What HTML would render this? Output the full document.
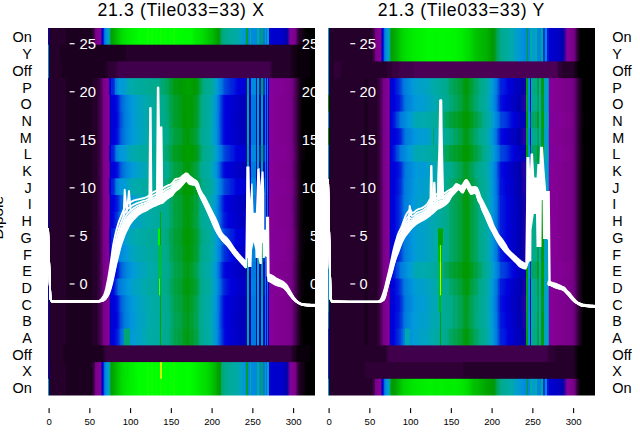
<!DOCTYPE html>
<html><head><meta charset="utf-8"><title>Dipole spectra</title>
<style>html,body{margin:0;padding:0;background:#fff;}body{width:640px;height:440px;overflow:hidden;font-family:"Liberation Sans",sans-serif;}svg{display:block;}</style></head>
<body>
<svg width="640" height="440" viewBox="0 0 640 440">
<defs>
<clipPath id="cp0"><rect x="48" y="28" width="267" height="367.5"/></clipPath>
<clipPath id="cp1"><rect x="328" y="28" width="267" height="367.5"/></clipPath>
<linearGradient id="g0_0" gradientUnits="userSpaceOnUse" x1="48" x2="315" y1="0" y2="0"><stop offset="0.0000" stop-color="#0000d1"/><stop offset="0.0019" stop-color="#0000d1"/><stop offset="0.0037" stop-color="#25002b"/><stop offset="0.0674" stop-color="#25002b"/><stop offset="0.0693" stop-color="#1c0020"/><stop offset="0.1648" stop-color="#1c0020"/><stop offset="0.1742" stop-color="#4b0055"/><stop offset="0.1760" stop-color="#670075"/><stop offset="0.1779" stop-color="#770088"/><stop offset="0.1948" stop-color="#870098"/><stop offset="0.1985" stop-color="#83009a"/><stop offset="0.2004" stop-color="#3800a3"/><stop offset="0.2022" stop-color="#0000b1"/><stop offset="0.2060" stop-color="#0000dd"/><stop offset="0.2097" stop-color="#0041dd"/><stop offset="0.2116" stop-color="#0070dd"/><stop offset="0.2135" stop-color="#0085dd"/><stop offset="0.2228" stop-color="#009adb"/><stop offset="0.2266" stop-color="#009fcb"/><stop offset="0.2285" stop-color="#00a8af"/><stop offset="0.2322" stop-color="#00aa8d"/><stop offset="0.2341" stop-color="#00a248"/><stop offset="0.2360" stop-color="#009b13"/><stop offset="0.2378" stop-color="#009f00"/><stop offset="0.2622" stop-color="#00c400"/><stop offset="0.2753" stop-color="#00da00"/><stop offset="0.2921" stop-color="#00e700"/><stop offset="0.3184" stop-color="#00f200"/><stop offset="0.3427" stop-color="#00ff00"/><stop offset="0.3521" stop-color="#00fc00"/><stop offset="0.3689" stop-color="#00ff00"/><stop offset="0.3708" stop-color="#0fff00"/><stop offset="0.3764" stop-color="#0fff00"/><stop offset="0.3783" stop-color="#00ff00"/><stop offset="0.3839" stop-color="#00ff00"/><stop offset="0.3858" stop-color="#0fff00"/><stop offset="0.3914" stop-color="#0fff00"/><stop offset="0.3933" stop-color="#00ff00"/><stop offset="0.4045" stop-color="#00ff00"/><stop offset="0.4064" stop-color="#0fff00"/><stop offset="0.4082" stop-color="#00ff00"/><stop offset="0.4176" stop-color="#00ff00"/><stop offset="0.4195" stop-color="#0fff00"/><stop offset="0.4213" stop-color="#0fff00"/><stop offset="0.4232" stop-color="#1dff00"/><stop offset="0.4251" stop-color="#0fff00"/><stop offset="0.4270" stop-color="#0fff00"/><stop offset="0.4288" stop-color="#00ff00"/><stop offset="0.4363" stop-color="#00ff00"/><stop offset="0.4382" stop-color="#0fff00"/><stop offset="0.4401" stop-color="#0fff00"/><stop offset="0.4419" stop-color="#00ff00"/><stop offset="0.4551" stop-color="#00ff00"/><stop offset="0.4569" stop-color="#0fff00"/><stop offset="0.4588" stop-color="#0fff00"/><stop offset="0.4607" stop-color="#00ff00"/><stop offset="0.4682" stop-color="#00ff00"/><stop offset="0.4700" stop-color="#0fff00"/><stop offset="0.4757" stop-color="#0fff00"/><stop offset="0.4775" stop-color="#00ff00"/><stop offset="0.5037" stop-color="#00fc00"/><stop offset="0.5375" stop-color="#00fa00"/><stop offset="0.5524" stop-color="#00ea00"/><stop offset="0.5637" stop-color="#00e700"/><stop offset="0.5805" stop-color="#00dc00"/><stop offset="0.6030" stop-color="#00c400"/><stop offset="0.6142" stop-color="#00bc00"/><stop offset="0.6404" stop-color="#009a00"/><stop offset="0.6461" stop-color="#00a13d"/><stop offset="0.6479" stop-color="#00a55d"/><stop offset="0.6536" stop-color="#00a97d"/><stop offset="0.6573" stop-color="#00a97d"/><stop offset="0.6592" stop-color="#00aa88"/><stop offset="0.6891" stop-color="#00aa9d"/><stop offset="0.7116" stop-color="#00aaa8"/><stop offset="0.7360" stop-color="#0098dd"/><stop offset="0.7416" stop-color="#008ddd"/><stop offset="0.7434" stop-color="#009e28"/><stop offset="0.7491" stop-color="#009e28"/><stop offset="0.7509" stop-color="#008add"/><stop offset="0.7547" stop-color="#008add"/><stop offset="0.7566" stop-color="#00a7b3"/><stop offset="0.7603" stop-color="#00a7b3"/><stop offset="0.7622" stop-color="#008add"/><stop offset="0.7828" stop-color="#0088dd"/><stop offset="0.7846" stop-color="#00aa9d"/><stop offset="0.7884" stop-color="#00aa9d"/><stop offset="0.7903" stop-color="#0088dd"/><stop offset="0.7978" stop-color="#0088dd"/><stop offset="0.7996" stop-color="#00a353"/><stop offset="0.8015" stop-color="#00a353"/><stop offset="0.8034" stop-color="#00a55d"/><stop offset="0.8052" stop-color="#00a55d"/><stop offset="0.8071" stop-color="#0078dd"/><stop offset="0.8127" stop-color="#0078dd"/><stop offset="0.8146" stop-color="#0095dd"/><stop offset="0.8165" stop-color="#0078dd"/><stop offset="0.8202" stop-color="#0078dd"/><stop offset="0.8221" stop-color="#00a0c7"/><stop offset="0.8258" stop-color="#009fcb"/><stop offset="0.8277" stop-color="#0000d1"/><stop offset="0.8783" stop-color="#0000c9"/><stop offset="0.8951" stop-color="#0300aa"/><stop offset="0.8970" stop-color="#0d00a8"/><stop offset="0.9007" stop-color="#3800a3"/><stop offset="0.9026" stop-color="#58009f"/><stop offset="0.9045" stop-color="#6d009c"/><stop offset="0.9101" stop-color="#870098"/><stop offset="0.9270" stop-color="#770088"/><stop offset="0.9307" stop-color="#5d006b"/><stop offset="0.9326" stop-color="#540060"/><stop offset="0.9345" stop-color="#41004b"/><stop offset="0.9401" stop-color="#25002b"/><stop offset="0.9438" stop-color="#25002b"/><stop offset="0.9457" stop-color="#1c0020"/><stop offset="0.9494" stop-color="#1c0020"/><stop offset="0.9513" stop-color="#130015"/><stop offset="0.9569" stop-color="#130015"/><stop offset="0.9588" stop-color="#09000b"/><stop offset="0.9663" stop-color="#09000b"/><stop offset="0.9682" stop-color="#000000"/><stop offset="1.0000" stop-color="#000000"/></linearGradient>
<linearGradient id="g0_1" gradientUnits="userSpaceOnUse" x1="48" x2="315" y1="0" y2="0"><stop offset="0.0000" stop-color="#0085dd"/><stop offset="0.0019" stop-color="#0085dd"/><stop offset="0.0037" stop-color="#25002b"/><stop offset="0.0431" stop-color="#25002b"/><stop offset="0.0449" stop-color="#1c0020"/><stop offset="0.2903" stop-color="#1c0020"/><stop offset="0.2921" stop-color="#25002b"/><stop offset="0.9064" stop-color="#25002b"/><stop offset="0.9082" stop-color="#1c0020"/><stop offset="0.9176" stop-color="#1c0020"/><stop offset="0.9195" stop-color="#130015"/><stop offset="0.9307" stop-color="#130015"/><stop offset="0.9326" stop-color="#09000b"/><stop offset="0.9794" stop-color="#09000b"/><stop offset="0.9813" stop-color="#000000"/><stop offset="1.0000" stop-color="#000000"/></linearGradient>
<linearGradient id="g0_2" gradientUnits="userSpaceOnUse" x1="48" x2="315" y1="0" y2="0"><stop offset="0.0000" stop-color="#0085dd"/><stop offset="0.0019" stop-color="#0085dd"/><stop offset="0.0037" stop-color="#25002b"/><stop offset="0.0468" stop-color="#25002b"/><stop offset="0.0487" stop-color="#1c0020"/><stop offset="0.2172" stop-color="#1c0020"/><stop offset="0.2191" stop-color="#25002b"/><stop offset="0.2228" stop-color="#25002b"/><stop offset="0.2247" stop-color="#2f0035"/><stop offset="0.2547" stop-color="#2f0035"/><stop offset="0.2566" stop-color="#380040"/><stop offset="0.2603" stop-color="#380040"/><stop offset="0.2622" stop-color="#41004b"/><stop offset="0.8315" stop-color="#41004b"/><stop offset="0.8352" stop-color="#2f0035"/><stop offset="0.8371" stop-color="#2f0035"/><stop offset="0.8390" stop-color="#25002b"/><stop offset="0.9064" stop-color="#25002b"/><stop offset="0.9082" stop-color="#1c0020"/><stop offset="0.9176" stop-color="#1c0020"/><stop offset="0.9195" stop-color="#130015"/><stop offset="0.9307" stop-color="#130015"/><stop offset="0.9326" stop-color="#09000b"/><stop offset="0.9794" stop-color="#09000b"/><stop offset="0.9813" stop-color="#000000"/><stop offset="1.0000" stop-color="#000000"/></linearGradient>
<linearGradient id="g0_3" gradientUnits="userSpaceOnUse" x1="48" x2="315" y1="0" y2="0"><stop offset="0.0000" stop-color="#0000bd"/><stop offset="0.0019" stop-color="#0000bd"/><stop offset="0.0037" stop-color="#25002b"/><stop offset="0.0674" stop-color="#25002b"/><stop offset="0.0693" stop-color="#1c0020"/><stop offset="0.1629" stop-color="#1c0020"/><stop offset="0.1648" stop-color="#25002b"/><stop offset="0.1816" stop-color="#25002b"/><stop offset="0.1835" stop-color="#2f0035"/><stop offset="0.1854" stop-color="#2f0035"/><stop offset="0.1873" stop-color="#380040"/><stop offset="0.1929" stop-color="#380040"/><stop offset="0.1966" stop-color="#4b0055"/><stop offset="0.1985" stop-color="#4b0055"/><stop offset="0.2079" stop-color="#770088"/><stop offset="0.2247" stop-color="#870098"/><stop offset="0.2285" stop-color="#63009e"/><stop offset="0.2322" stop-color="#0000b1"/><stop offset="0.2341" stop-color="#0000d1"/><stop offset="0.2360" stop-color="#0000dd"/><stop offset="0.2378" stop-color="#0025dd"/><stop offset="0.2453" stop-color="#0025dd"/><stop offset="0.2491" stop-color="#0041dd"/><stop offset="0.2528" stop-color="#0078dd"/><stop offset="0.2659" stop-color="#0098dd"/><stop offset="0.2772" stop-color="#009bd7"/><stop offset="0.2846" stop-color="#009bd7"/><stop offset="0.2940" stop-color="#00a2c3"/><stop offset="0.3071" stop-color="#00aaab"/><stop offset="0.3446" stop-color="#00aa9d"/><stop offset="0.3933" stop-color="#00aa90"/><stop offset="0.4157" stop-color="#00aa8b"/><stop offset="0.4195" stop-color="#00aa88"/><stop offset="0.4232" stop-color="#00a773"/><stop offset="0.4345" stop-color="#00a773"/><stop offset="0.4382" stop-color="#00a55d"/><stop offset="0.4476" stop-color="#00a55d"/><stop offset="0.4494" stop-color="#00a353"/><stop offset="0.4513" stop-color="#00a353"/><stop offset="0.4569" stop-color="#009f33"/><stop offset="0.4644" stop-color="#009f33"/><stop offset="0.4663" stop-color="#009e28"/><stop offset="0.4682" stop-color="#009e28"/><stop offset="0.4738" stop-color="#009a08"/><stop offset="0.4757" stop-color="#009a08"/><stop offset="0.4775" stop-color="#009b13"/><stop offset="0.4850" stop-color="#009b13"/><stop offset="0.4869" stop-color="#009a08"/><stop offset="0.4925" stop-color="#009a00"/><stop offset="0.4963" stop-color="#009a08"/><stop offset="0.5000" stop-color="#009a08"/><stop offset="0.5037" stop-color="#009c00"/><stop offset="0.5281" stop-color="#00a200"/><stop offset="0.5468" stop-color="#009a00"/><stop offset="0.5506" stop-color="#009a08"/><stop offset="0.5581" stop-color="#009a00"/><stop offset="0.5655" stop-color="#009e28"/><stop offset="0.5674" stop-color="#00a13d"/><stop offset="0.5693" stop-color="#00a13d"/><stop offset="0.5749" stop-color="#00a55d"/><stop offset="0.5768" stop-color="#00a55d"/><stop offset="0.5787" stop-color="#00a773"/><stop offset="0.5805" stop-color="#00a97d"/><stop offset="0.5824" stop-color="#00a97d"/><stop offset="0.5843" stop-color="#00aa88"/><stop offset="0.6105" stop-color="#00aa95"/><stop offset="0.6273" stop-color="#00a3bf"/><stop offset="0.6330" stop-color="#009adb"/><stop offset="0.6536" stop-color="#0070dd"/><stop offset="0.6610" stop-color="#004bdd"/><stop offset="0.6685" stop-color="#0041dd"/><stop offset="0.6760" stop-color="#0038dd"/><stop offset="0.6798" stop-color="#002fdd"/><stop offset="0.6873" stop-color="#0025dd"/><stop offset="0.6910" stop-color="#0025dd"/><stop offset="0.6948" stop-color="#001cdd"/><stop offset="0.7022" stop-color="#0013dd"/><stop offset="0.7060" stop-color="#0009dd"/><stop offset="0.7135" stop-color="#0000dd"/><stop offset="0.7434" stop-color="#0000d5"/><stop offset="0.7453" stop-color="#00a668"/><stop offset="0.7509" stop-color="#00a668"/><stop offset="0.7528" stop-color="#0000d1"/><stop offset="0.7584" stop-color="#0000d1"/><stop offset="0.7603" stop-color="#008add"/><stop offset="0.7772" stop-color="#008add"/><stop offset="0.7790" stop-color="#0013dd"/><stop offset="0.7828" stop-color="#0009dd"/><stop offset="0.7846" stop-color="#00aa8b"/><stop offset="0.7884" stop-color="#00aa8b"/><stop offset="0.7903" stop-color="#0025dd"/><stop offset="0.7940" stop-color="#0025dd"/><stop offset="0.7959" stop-color="#001cdd"/><stop offset="0.7978" stop-color="#00a248"/><stop offset="0.8052" stop-color="#00a248"/><stop offset="0.8071" stop-color="#0038dd"/><stop offset="0.8109" stop-color="#002fdd"/><stop offset="0.8127" stop-color="#0085dd"/><stop offset="0.8146" stop-color="#0085dd"/><stop offset="0.8165" stop-color="#0000d5"/><stop offset="0.8184" stop-color="#0000d1"/><stop offset="0.8202" stop-color="#0085dd"/><stop offset="0.8221" stop-color="#0085dd"/><stop offset="0.8240" stop-color="#0000c9"/><stop offset="0.8258" stop-color="#0000c9"/><stop offset="0.8277" stop-color="#83009a"/><stop offset="0.8801" stop-color="#830094"/><stop offset="0.9139" stop-color="#770088"/><stop offset="0.9195" stop-color="#670075"/><stop offset="0.9213" stop-color="#5d006b"/><stop offset="0.9232" stop-color="#5d006b"/><stop offset="0.9270" stop-color="#4b0055"/><stop offset="0.9288" stop-color="#4b0055"/><stop offset="0.9326" stop-color="#380040"/><stop offset="0.9345" stop-color="#380040"/><stop offset="0.9382" stop-color="#25002b"/><stop offset="0.9401" stop-color="#25002b"/><stop offset="0.9419" stop-color="#1c0020"/><stop offset="0.9438" stop-color="#1c0020"/><stop offset="0.9457" stop-color="#130015"/><stop offset="0.9476" stop-color="#130015"/><stop offset="0.9494" stop-color="#09000b"/><stop offset="0.9625" stop-color="#09000b"/><stop offset="0.9644" stop-color="#000000"/><stop offset="1.0000" stop-color="#000000"/></linearGradient>
<linearGradient id="g0_4" gradientUnits="userSpaceOnUse" x1="48" x2="315" y1="0" y2="0"><stop offset="0.0000" stop-color="#0000bd"/><stop offset="0.0019" stop-color="#0000bd"/><stop offset="0.0037" stop-color="#25002b"/><stop offset="0.0674" stop-color="#25002b"/><stop offset="0.0693" stop-color="#1c0020"/><stop offset="0.1629" stop-color="#1c0020"/><stop offset="0.1648" stop-color="#25002b"/><stop offset="0.1816" stop-color="#25002b"/><stop offset="0.1835" stop-color="#2f0035"/><stop offset="0.1854" stop-color="#2f0035"/><stop offset="0.1873" stop-color="#380040"/><stop offset="0.1929" stop-color="#380040"/><stop offset="0.1966" stop-color="#4b0055"/><stop offset="0.1985" stop-color="#4b0055"/><stop offset="0.2079" stop-color="#770088"/><stop offset="0.2285" stop-color="#870098"/><stop offset="0.2303" stop-color="#58009f"/><stop offset="0.2322" stop-color="#1800a7"/><stop offset="0.2341" stop-color="#0000bd"/><stop offset="0.2378" stop-color="#0000d9"/><stop offset="0.2491" stop-color="#0000dd"/><stop offset="0.2528" stop-color="#0009dd"/><stop offset="0.2566" stop-color="#0009dd"/><stop offset="0.2640" stop-color="#0025dd"/><stop offset="0.2678" stop-color="#0041dd"/><stop offset="0.2734" stop-color="#005ddd"/><stop offset="0.2809" stop-color="#0070dd"/><stop offset="0.2940" stop-color="#0085dd"/><stop offset="0.3165" stop-color="#009adb"/><stop offset="0.3258" stop-color="#009ecf"/><stop offset="0.3446" stop-color="#00a3bf"/><stop offset="0.3539" stop-color="#00a6b7"/><stop offset="0.3783" stop-color="#00aaa5"/><stop offset="0.4195" stop-color="#00aa90"/><stop offset="0.4363" stop-color="#00aa88"/><stop offset="0.4382" stop-color="#00a97d"/><stop offset="0.4476" stop-color="#00a97d"/><stop offset="0.4551" stop-color="#00a353"/><stop offset="0.4569" stop-color="#00a353"/><stop offset="0.4588" stop-color="#00a248"/><stop offset="0.4663" stop-color="#00a248"/><stop offset="0.4719" stop-color="#009e28"/><stop offset="0.4850" stop-color="#009e28"/><stop offset="0.4869" stop-color="#009d1d"/><stop offset="0.4888" stop-color="#009d1d"/><stop offset="0.4906" stop-color="#009b13"/><stop offset="0.4925" stop-color="#009b13"/><stop offset="0.4944" stop-color="#009d1d"/><stop offset="0.5000" stop-color="#009d1d"/><stop offset="0.5056" stop-color="#009a00"/><stop offset="0.5281" stop-color="#009c00"/><stop offset="0.5318" stop-color="#009a00"/><stop offset="0.5356" stop-color="#009a08"/><stop offset="0.5431" stop-color="#009a08"/><stop offset="0.5468" stop-color="#009d1d"/><stop offset="0.5487" stop-color="#009d1d"/><stop offset="0.5506" stop-color="#009e28"/><stop offset="0.5524" stop-color="#009d1d"/><stop offset="0.5581" stop-color="#009d1d"/><stop offset="0.5637" stop-color="#00a13d"/><stop offset="0.5655" stop-color="#00a353"/><stop offset="0.5749" stop-color="#00aa88"/><stop offset="0.5880" stop-color="#00aa95"/><stop offset="0.6049" stop-color="#00aaa3"/><stop offset="0.6124" stop-color="#00a8af"/><stop offset="0.6217" stop-color="#009fcb"/><stop offset="0.6292" stop-color="#0095dd"/><stop offset="0.6404" stop-color="#0070dd"/><stop offset="0.6442" stop-color="#005ddd"/><stop offset="0.6479" stop-color="#0041dd"/><stop offset="0.6592" stop-color="#0009dd"/><stop offset="0.6629" stop-color="#0009dd"/><stop offset="0.6667" stop-color="#0000dd"/><stop offset="0.7266" stop-color="#0000bd"/><stop offset="0.7434" stop-color="#0000b9"/><stop offset="0.7453" stop-color="#00aa93"/><stop offset="0.7509" stop-color="#00aa93"/><stop offset="0.7528" stop-color="#0000b9"/><stop offset="0.7584" stop-color="#0000b9"/><stop offset="0.7603" stop-color="#007add"/><stop offset="0.7772" stop-color="#007add"/><stop offset="0.7790" stop-color="#0000cd"/><stop offset="0.7828" stop-color="#0000cd"/><stop offset="0.7846" stop-color="#00aa9b"/><stop offset="0.7884" stop-color="#00aa9b"/><stop offset="0.7903" stop-color="#0000d5"/><stop offset="0.7959" stop-color="#0000d5"/><stop offset="0.7978" stop-color="#00a97d"/><stop offset="0.8052" stop-color="#00a97d"/><stop offset="0.8071" stop-color="#0000dd"/><stop offset="0.8109" stop-color="#0000dd"/><stop offset="0.8127" stop-color="#0078dd"/><stop offset="0.8146" stop-color="#0078dd"/><stop offset="0.8165" stop-color="#0000bd"/><stop offset="0.8184" stop-color="#0000bd"/><stop offset="0.8202" stop-color="#0078dd"/><stop offset="0.8221" stop-color="#0078dd"/><stop offset="0.8240" stop-color="#0000b5"/><stop offset="0.8258" stop-color="#0000b5"/><stop offset="0.8277" stop-color="#870098"/><stop offset="0.9101" stop-color="#79008a"/><stop offset="0.9157" stop-color="#700080"/><stop offset="0.9195" stop-color="#5d006b"/><stop offset="0.9213" stop-color="#5d006b"/><stop offset="0.9251" stop-color="#4b0055"/><stop offset="0.9270" stop-color="#4b0055"/><stop offset="0.9288" stop-color="#41004b"/><stop offset="0.9307" stop-color="#41004b"/><stop offset="0.9345" stop-color="#2f0035"/><stop offset="0.9363" stop-color="#2f0035"/><stop offset="0.9401" stop-color="#1c0020"/><stop offset="0.9419" stop-color="#1c0020"/><stop offset="0.9438" stop-color="#130015"/><stop offset="0.9457" stop-color="#130015"/><stop offset="0.9476" stop-color="#09000b"/><stop offset="0.9513" stop-color="#09000b"/><stop offset="0.9532" stop-color="#000000"/><stop offset="1.0000" stop-color="#000000"/></linearGradient>
<linearGradient id="g0_5" gradientUnits="userSpaceOnUse" x1="48" x2="315" y1="0" y2="0"><stop offset="0.0000" stop-color="#0000bd"/><stop offset="0.0019" stop-color="#0000bd"/><stop offset="0.0037" stop-color="#25002b"/><stop offset="0.0674" stop-color="#25002b"/><stop offset="0.0693" stop-color="#1c0020"/><stop offset="0.1629" stop-color="#1c0020"/><stop offset="0.1648" stop-color="#25002b"/><stop offset="0.1816" stop-color="#25002b"/><stop offset="0.1835" stop-color="#2f0035"/><stop offset="0.1854" stop-color="#2f0035"/><stop offset="0.1873" stop-color="#380040"/><stop offset="0.1929" stop-color="#380040"/><stop offset="0.1966" stop-color="#4b0055"/><stop offset="0.1985" stop-color="#4b0055"/><stop offset="0.2079" stop-color="#770088"/><stop offset="0.2285" stop-color="#870098"/><stop offset="0.2303" stop-color="#58009f"/><stop offset="0.2322" stop-color="#1800a7"/><stop offset="0.2341" stop-color="#0000bd"/><stop offset="0.2378" stop-color="#0000d5"/><stop offset="0.2547" stop-color="#0000dd"/><stop offset="0.2584" stop-color="#0009dd"/><stop offset="0.2622" stop-color="#0013dd"/><stop offset="0.2697" stop-color="#0041dd"/><stop offset="0.2734" stop-color="#0054dd"/><stop offset="0.2809" stop-color="#0067dd"/><stop offset="0.2865" stop-color="#007add"/><stop offset="0.3127" stop-color="#0095dd"/><stop offset="0.3221" stop-color="#009cd3"/><stop offset="0.3352" stop-color="#00a0c7"/><stop offset="0.3502" stop-color="#00a3bf"/><stop offset="0.3614" stop-color="#00a7b3"/><stop offset="0.3914" stop-color="#00aa9d"/><stop offset="0.4026" stop-color="#00aa9b"/><stop offset="0.4307" stop-color="#00aa8d"/><stop offset="0.4382" stop-color="#00aa88"/><stop offset="0.4401" stop-color="#00a97d"/><stop offset="0.4476" stop-color="#00a97d"/><stop offset="0.4494" stop-color="#00a773"/><stop offset="0.4513" stop-color="#00a773"/><stop offset="0.4569" stop-color="#00a353"/><stop offset="0.4588" stop-color="#00a353"/><stop offset="0.4607" stop-color="#00a248"/><stop offset="0.4663" stop-color="#00a248"/><stop offset="0.4719" stop-color="#009e28"/><stop offset="0.4850" stop-color="#009e28"/><stop offset="0.4869" stop-color="#009d1d"/><stop offset="0.5000" stop-color="#009d1d"/><stop offset="0.5056" stop-color="#009a00"/><stop offset="0.5281" stop-color="#009c00"/><stop offset="0.5375" stop-color="#009a08"/><stop offset="0.5431" stop-color="#009a08"/><stop offset="0.5468" stop-color="#009d1d"/><stop offset="0.5487" stop-color="#009d1d"/><stop offset="0.5506" stop-color="#009e28"/><stop offset="0.5524" stop-color="#009e28"/><stop offset="0.5543" stop-color="#009d1d"/><stop offset="0.5581" stop-color="#009d1d"/><stop offset="0.5618" stop-color="#009f33"/><stop offset="0.5637" stop-color="#00a248"/><stop offset="0.5749" stop-color="#00aa88"/><stop offset="0.6067" stop-color="#00aaa5"/><stop offset="0.6124" stop-color="#00a8af"/><stop offset="0.6199" stop-color="#009fcb"/><stop offset="0.6292" stop-color="#0092dd"/><stop offset="0.6386" stop-color="#0078dd"/><stop offset="0.6423" stop-color="#005ddd"/><stop offset="0.6592" stop-color="#0009dd"/><stop offset="0.6667" stop-color="#0000dd"/><stop offset="0.7210" stop-color="#0000bd"/><stop offset="0.7434" stop-color="#0000b9"/><stop offset="0.7453" stop-color="#00aa93"/><stop offset="0.7509" stop-color="#00aa93"/><stop offset="0.7528" stop-color="#0000b9"/><stop offset="0.7584" stop-color="#0000b9"/><stop offset="0.7603" stop-color="#007add"/><stop offset="0.7772" stop-color="#0078dd"/><stop offset="0.7790" stop-color="#0000c9"/><stop offset="0.7828" stop-color="#0000c9"/><stop offset="0.7846" stop-color="#00aa9b"/><stop offset="0.7884" stop-color="#00aa9b"/><stop offset="0.7903" stop-color="#0000d5"/><stop offset="0.7959" stop-color="#0000d5"/><stop offset="0.7978" stop-color="#00aa88"/><stop offset="0.8052" stop-color="#00aa88"/><stop offset="0.8071" stop-color="#0000dd"/><stop offset="0.8109" stop-color="#0000dd"/><stop offset="0.8127" stop-color="#0078dd"/><stop offset="0.8146" stop-color="#0078dd"/><stop offset="0.8165" stop-color="#0000bd"/><stop offset="0.8184" stop-color="#0000bd"/><stop offset="0.8202" stop-color="#0078dd"/><stop offset="0.8221" stop-color="#0078dd"/><stop offset="0.8240" stop-color="#0000b1"/><stop offset="0.8258" stop-color="#0000b1"/><stop offset="0.8277" stop-color="#870098"/><stop offset="0.9101" stop-color="#79008a"/><stop offset="0.9157" stop-color="#700080"/><stop offset="0.9195" stop-color="#5d006b"/><stop offset="0.9213" stop-color="#5d006b"/><stop offset="0.9251" stop-color="#4b0055"/><stop offset="0.9270" stop-color="#4b0055"/><stop offset="0.9288" stop-color="#41004b"/><stop offset="0.9307" stop-color="#41004b"/><stop offset="0.9345" stop-color="#2f0035"/><stop offset="0.9363" stop-color="#2f0035"/><stop offset="0.9401" stop-color="#1c0020"/><stop offset="0.9419" stop-color="#1c0020"/><stop offset="0.9438" stop-color="#130015"/><stop offset="0.9457" stop-color="#130015"/><stop offset="0.9476" stop-color="#09000b"/><stop offset="0.9513" stop-color="#09000b"/><stop offset="0.9532" stop-color="#000000"/><stop offset="1.0000" stop-color="#000000"/></linearGradient>
<linearGradient id="g0_6" gradientUnits="userSpaceOnUse" x1="48" x2="315" y1="0" y2="0"><stop offset="0.0000" stop-color="#0000bd"/><stop offset="0.0019" stop-color="#0000bd"/><stop offset="0.0037" stop-color="#25002b"/><stop offset="0.0674" stop-color="#25002b"/><stop offset="0.0693" stop-color="#1c0020"/><stop offset="0.1629" stop-color="#1c0020"/><stop offset="0.1648" stop-color="#25002b"/><stop offset="0.1816" stop-color="#25002b"/><stop offset="0.1835" stop-color="#2f0035"/><stop offset="0.1854" stop-color="#2f0035"/><stop offset="0.1873" stop-color="#380040"/><stop offset="0.1929" stop-color="#380040"/><stop offset="0.1966" stop-color="#4b0055"/><stop offset="0.1985" stop-color="#4b0055"/><stop offset="0.2079" stop-color="#770088"/><stop offset="0.2285" stop-color="#870098"/><stop offset="0.2303" stop-color="#58009f"/><stop offset="0.2322" stop-color="#1800a7"/><stop offset="0.2341" stop-color="#0000bd"/><stop offset="0.2378" stop-color="#0000d9"/><stop offset="0.2491" stop-color="#0000dd"/><stop offset="0.2528" stop-color="#0009dd"/><stop offset="0.2566" stop-color="#0009dd"/><stop offset="0.2640" stop-color="#0025dd"/><stop offset="0.2678" stop-color="#0041dd"/><stop offset="0.2734" stop-color="#005ddd"/><stop offset="0.2809" stop-color="#0070dd"/><stop offset="0.2940" stop-color="#0085dd"/><stop offset="0.3165" stop-color="#009adb"/><stop offset="0.3277" stop-color="#009ecf"/><stop offset="0.3427" stop-color="#00a2c3"/><stop offset="0.3539" stop-color="#00a4bb"/><stop offset="0.3708" stop-color="#00aaab"/><stop offset="0.4195" stop-color="#00aa95"/><stop offset="0.4494" stop-color="#00aa88"/><stop offset="0.4532" stop-color="#00a773"/><stop offset="0.4551" stop-color="#00a773"/><stop offset="0.4588" stop-color="#00a55d"/><stop offset="0.4663" stop-color="#00a55d"/><stop offset="0.4719" stop-color="#00a13d"/><stop offset="0.4850" stop-color="#00a13d"/><stop offset="0.4869" stop-color="#009f33"/><stop offset="0.4888" stop-color="#009f33"/><stop offset="0.4906" stop-color="#009e28"/><stop offset="0.4925" stop-color="#009f33"/><stop offset="0.5000" stop-color="#009f33"/><stop offset="0.5056" stop-color="#009b13"/><stop offset="0.5169" stop-color="#009b13"/><stop offset="0.5206" stop-color="#009a00"/><stop offset="0.5262" stop-color="#009a00"/><stop offset="0.5300" stop-color="#009b13"/><stop offset="0.5318" stop-color="#009b13"/><stop offset="0.5337" stop-color="#009d1d"/><stop offset="0.5431" stop-color="#009d1d"/><stop offset="0.5468" stop-color="#009f33"/><stop offset="0.5487" stop-color="#009f33"/><stop offset="0.5506" stop-color="#00a13d"/><stop offset="0.5524" stop-color="#009f33"/><stop offset="0.5581" stop-color="#009f33"/><stop offset="0.5637" stop-color="#00a353"/><stop offset="0.5655" stop-color="#00a668"/><stop offset="0.5712" stop-color="#00aa88"/><stop offset="0.5918" stop-color="#00aa9d"/><stop offset="0.6105" stop-color="#00aaab"/><stop offset="0.6199" stop-color="#009fcb"/><stop offset="0.6292" stop-color="#0095dd"/><stop offset="0.6404" stop-color="#0070dd"/><stop offset="0.6442" stop-color="#005ddd"/><stop offset="0.6479" stop-color="#0041dd"/><stop offset="0.6592" stop-color="#0009dd"/><stop offset="0.6629" stop-color="#0009dd"/><stop offset="0.6667" stop-color="#0000dd"/><stop offset="0.7266" stop-color="#0000bd"/><stop offset="0.7434" stop-color="#0000b9"/><stop offset="0.7453" stop-color="#00aa93"/><stop offset="0.7509" stop-color="#00aa93"/><stop offset="0.7528" stop-color="#0000b9"/><stop offset="0.7584" stop-color="#0000b9"/><stop offset="0.7603" stop-color="#007add"/><stop offset="0.7772" stop-color="#007add"/><stop offset="0.7790" stop-color="#0000cd"/><stop offset="0.7828" stop-color="#0000cd"/><stop offset="0.7846" stop-color="#00aa9b"/><stop offset="0.7884" stop-color="#00aa9b"/><stop offset="0.7903" stop-color="#0000d5"/><stop offset="0.7959" stop-color="#0000d5"/><stop offset="0.7978" stop-color="#00a97d"/><stop offset="0.8052" stop-color="#00a97d"/><stop offset="0.8071" stop-color="#0000dd"/><stop offset="0.8109" stop-color="#0000dd"/><stop offset="0.8127" stop-color="#0078dd"/><stop offset="0.8146" stop-color="#0078dd"/><stop offset="0.8165" stop-color="#0000bd"/><stop offset="0.8184" stop-color="#0000bd"/><stop offset="0.8202" stop-color="#0078dd"/><stop offset="0.8221" stop-color="#0078dd"/><stop offset="0.8240" stop-color="#0000b5"/><stop offset="0.8258" stop-color="#0000b5"/><stop offset="0.8277" stop-color="#870098"/><stop offset="0.9101" stop-color="#79008a"/><stop offset="0.9157" stop-color="#700080"/><stop offset="0.9195" stop-color="#5d006b"/><stop offset="0.9213" stop-color="#5d006b"/><stop offset="0.9251" stop-color="#4b0055"/><stop offset="0.9270" stop-color="#4b0055"/><stop offset="0.9288" stop-color="#41004b"/><stop offset="0.9307" stop-color="#41004b"/><stop offset="0.9345" stop-color="#2f0035"/><stop offset="0.9363" stop-color="#2f0035"/><stop offset="0.9401" stop-color="#1c0020"/><stop offset="0.9419" stop-color="#1c0020"/><stop offset="0.9438" stop-color="#130015"/><stop offset="0.9457" stop-color="#130015"/><stop offset="0.9476" stop-color="#09000b"/><stop offset="0.9513" stop-color="#09000b"/><stop offset="0.9532" stop-color="#000000"/><stop offset="1.0000" stop-color="#000000"/></linearGradient>
<linearGradient id="g0_7" gradientUnits="userSpaceOnUse" x1="48" x2="315" y1="0" y2="0"><stop offset="0.0000" stop-color="#0000bd"/><stop offset="0.0019" stop-color="#0000bd"/><stop offset="0.0037" stop-color="#25002b"/><stop offset="0.0674" stop-color="#25002b"/><stop offset="0.0693" stop-color="#1c0020"/><stop offset="0.1629" stop-color="#1c0020"/><stop offset="0.1648" stop-color="#25002b"/><stop offset="0.1816" stop-color="#25002b"/><stop offset="0.1835" stop-color="#2f0035"/><stop offset="0.1854" stop-color="#2f0035"/><stop offset="0.1873" stop-color="#380040"/><stop offset="0.1929" stop-color="#380040"/><stop offset="0.1966" stop-color="#4b0055"/><stop offset="0.1985" stop-color="#4b0055"/><stop offset="0.2079" stop-color="#770088"/><stop offset="0.2247" stop-color="#870098"/><stop offset="0.2285" stop-color="#6d009c"/><stop offset="0.2322" stop-color="#0000b1"/><stop offset="0.2341" stop-color="#0000cd"/><stop offset="0.2360" stop-color="#0000dd"/><stop offset="0.2378" stop-color="#001cdd"/><stop offset="0.2453" stop-color="#0025dd"/><stop offset="0.2472" stop-color="#0025dd"/><stop offset="0.2509" stop-color="#0054dd"/><stop offset="0.2547" stop-color="#007add"/><stop offset="0.2697" stop-color="#0095dd"/><stop offset="0.2865" stop-color="#009bd7"/><stop offset="0.3015" stop-color="#00a3bf"/><stop offset="0.3090" stop-color="#00a7b3"/><stop offset="0.3277" stop-color="#00aaa8"/><stop offset="0.3539" stop-color="#00aaa0"/><stop offset="0.3970" stop-color="#00aa98"/><stop offset="0.4345" stop-color="#00aa88"/><stop offset="0.4382" stop-color="#00a773"/><stop offset="0.4476" stop-color="#00a773"/><stop offset="0.4513" stop-color="#00a55d"/><stop offset="0.4532" stop-color="#00a55d"/><stop offset="0.4569" stop-color="#00a248"/><stop offset="0.4625" stop-color="#00a248"/><stop offset="0.4644" stop-color="#00a13d"/><stop offset="0.4663" stop-color="#00a13d"/><stop offset="0.4700" stop-color="#009e28"/><stop offset="0.4719" stop-color="#009e28"/><stop offset="0.4738" stop-color="#009d1d"/><stop offset="0.4775" stop-color="#009d1d"/><stop offset="0.4794" stop-color="#009e28"/><stop offset="0.4831" stop-color="#009e28"/><stop offset="0.4850" stop-color="#009d1d"/><stop offset="0.4869" stop-color="#009d1d"/><stop offset="0.4888" stop-color="#009b13"/><stop offset="0.4944" stop-color="#009b13"/><stop offset="0.4963" stop-color="#009d1d"/><stop offset="0.4981" stop-color="#009d1d"/><stop offset="0.5000" stop-color="#009b13"/><stop offset="0.5019" stop-color="#009b13"/><stop offset="0.5056" stop-color="#009a00"/><stop offset="0.5262" stop-color="#009f00"/><stop offset="0.5412" stop-color="#009a00"/><stop offset="0.5524" stop-color="#009d1d"/><stop offset="0.5543" stop-color="#009b13"/><stop offset="0.5581" stop-color="#009b13"/><stop offset="0.5749" stop-color="#00a773"/><stop offset="0.5768" stop-color="#00a773"/><stop offset="0.5787" stop-color="#00aa88"/><stop offset="0.6067" stop-color="#00aa98"/><stop offset="0.6255" stop-color="#00a4bb"/><stop offset="0.6330" stop-color="#0098dd"/><stop offset="0.6517" stop-color="#0070dd"/><stop offset="0.6592" stop-color="#004bdd"/><stop offset="0.6685" stop-color="#0038dd"/><stop offset="0.6723" stop-color="#0038dd"/><stop offset="0.6760" stop-color="#002fdd"/><stop offset="0.6835" stop-color="#0025dd"/><stop offset="0.6873" stop-color="#001cdd"/><stop offset="0.6929" stop-color="#001cdd"/><stop offset="0.7004" stop-color="#0009dd"/><stop offset="0.7079" stop-color="#0000dd"/><stop offset="0.7434" stop-color="#0000d1"/><stop offset="0.7453" stop-color="#00a773"/><stop offset="0.7509" stop-color="#00a773"/><stop offset="0.7528" stop-color="#0000d1"/><stop offset="0.7584" stop-color="#0000d1"/><stop offset="0.7603" stop-color="#008add"/><stop offset="0.7772" stop-color="#0088dd"/><stop offset="0.7790" stop-color="#0009dd"/><stop offset="0.7828" stop-color="#0009dd"/><stop offset="0.7846" stop-color="#00aa8d"/><stop offset="0.7884" stop-color="#00aa8d"/><stop offset="0.7903" stop-color="#001cdd"/><stop offset="0.7959" stop-color="#001cdd"/><stop offset="0.7978" stop-color="#00a248"/><stop offset="0.7996" stop-color="#00a353"/><stop offset="0.8052" stop-color="#00a353"/><stop offset="0.8071" stop-color="#002fdd"/><stop offset="0.8109" stop-color="#002fdd"/><stop offset="0.8127" stop-color="#0085dd"/><stop offset="0.8146" stop-color="#0085dd"/><stop offset="0.8165" stop-color="#0000d1"/><stop offset="0.8184" stop-color="#0000d1"/><stop offset="0.8202" stop-color="#0082dd"/><stop offset="0.8221" stop-color="#0082dd"/><stop offset="0.8240" stop-color="#0000c5"/><stop offset="0.8258" stop-color="#0000c5"/><stop offset="0.8277" stop-color="#83009a"/><stop offset="0.8858" stop-color="#820093"/><stop offset="0.9139" stop-color="#770088"/><stop offset="0.9195" stop-color="#670075"/><stop offset="0.9213" stop-color="#5d006b"/><stop offset="0.9232" stop-color="#5d006b"/><stop offset="0.9270" stop-color="#4b0055"/><stop offset="0.9288" stop-color="#4b0055"/><stop offset="0.9326" stop-color="#380040"/><stop offset="0.9345" stop-color="#380040"/><stop offset="0.9382" stop-color="#25002b"/><stop offset="0.9401" stop-color="#25002b"/><stop offset="0.9419" stop-color="#1c0020"/><stop offset="0.9438" stop-color="#1c0020"/><stop offset="0.9457" stop-color="#130015"/><stop offset="0.9476" stop-color="#130015"/><stop offset="0.9494" stop-color="#09000b"/><stop offset="0.9625" stop-color="#09000b"/><stop offset="0.9644" stop-color="#000000"/><stop offset="1.0000" stop-color="#000000"/></linearGradient>
<linearGradient id="g0_8" gradientUnits="userSpaceOnUse" x1="48" x2="315" y1="0" y2="0"><stop offset="0.0000" stop-color="#0000bd"/><stop offset="0.0019" stop-color="#0000bd"/><stop offset="0.0037" stop-color="#25002b"/><stop offset="0.0674" stop-color="#25002b"/><stop offset="0.0693" stop-color="#1c0020"/><stop offset="0.1629" stop-color="#1c0020"/><stop offset="0.1648" stop-color="#25002b"/><stop offset="0.1816" stop-color="#25002b"/><stop offset="0.1835" stop-color="#2f0035"/><stop offset="0.1854" stop-color="#2f0035"/><stop offset="0.1873" stop-color="#380040"/><stop offset="0.1929" stop-color="#380040"/><stop offset="0.1966" stop-color="#4b0055"/><stop offset="0.1985" stop-color="#4b0055"/><stop offset="0.2079" stop-color="#770088"/><stop offset="0.2285" stop-color="#870098"/><stop offset="0.2303" stop-color="#58009f"/><stop offset="0.2322" stop-color="#1800a7"/><stop offset="0.2341" stop-color="#0000bd"/><stop offset="0.2378" stop-color="#0000d9"/><stop offset="0.2491" stop-color="#0000dd"/><stop offset="0.2528" stop-color="#0009dd"/><stop offset="0.2566" stop-color="#0009dd"/><stop offset="0.2640" stop-color="#0025dd"/><stop offset="0.2678" stop-color="#0041dd"/><stop offset="0.2734" stop-color="#005ddd"/><stop offset="0.2809" stop-color="#0070dd"/><stop offset="0.2940" stop-color="#0085dd"/><stop offset="0.3165" stop-color="#009adb"/><stop offset="0.3277" stop-color="#009ecf"/><stop offset="0.3427" stop-color="#00a2c3"/><stop offset="0.3539" stop-color="#00a4bb"/><stop offset="0.3689" stop-color="#00a8af"/><stop offset="0.3989" stop-color="#00aaa3"/><stop offset="0.4307" stop-color="#00aa93"/><stop offset="0.4513" stop-color="#00aa88"/><stop offset="0.4569" stop-color="#00a668"/><stop offset="0.4644" stop-color="#00a668"/><stop offset="0.4682" stop-color="#00a353"/><stop offset="0.4700" stop-color="#00a353"/><stop offset="0.4738" stop-color="#00a13d"/><stop offset="0.4775" stop-color="#00a13d"/><stop offset="0.4794" stop-color="#00a248"/><stop offset="0.4831" stop-color="#00a248"/><stop offset="0.4850" stop-color="#00a13d"/><stop offset="0.4869" stop-color="#00a13d"/><stop offset="0.4888" stop-color="#009f33"/><stop offset="0.4944" stop-color="#009f33"/><stop offset="0.4963" stop-color="#00a13d"/><stop offset="0.4981" stop-color="#00a13d"/><stop offset="0.5000" stop-color="#009f33"/><stop offset="0.5019" stop-color="#009f33"/><stop offset="0.5075" stop-color="#009b13"/><stop offset="0.5187" stop-color="#009b13"/><stop offset="0.5225" stop-color="#009a00"/><stop offset="0.5262" stop-color="#009a08"/><stop offset="0.5281" stop-color="#009b13"/><stop offset="0.5300" stop-color="#009b13"/><stop offset="0.5318" stop-color="#009d1d"/><stop offset="0.5412" stop-color="#009d1d"/><stop offset="0.5449" stop-color="#009f33"/><stop offset="0.5468" stop-color="#009f33"/><stop offset="0.5487" stop-color="#00a13d"/><stop offset="0.5581" stop-color="#00a13d"/><stop offset="0.5674" stop-color="#00a773"/><stop offset="0.5693" stop-color="#00aa88"/><stop offset="0.5880" stop-color="#00aa9b"/><stop offset="0.6105" stop-color="#00aaab"/><stop offset="0.6199" stop-color="#009fcb"/><stop offset="0.6292" stop-color="#0095dd"/><stop offset="0.6404" stop-color="#0070dd"/><stop offset="0.6442" stop-color="#005ddd"/><stop offset="0.6479" stop-color="#0041dd"/><stop offset="0.6592" stop-color="#0009dd"/><stop offset="0.6629" stop-color="#0009dd"/><stop offset="0.6667" stop-color="#0000dd"/><stop offset="0.7266" stop-color="#0000bd"/><stop offset="0.7434" stop-color="#0000b9"/><stop offset="0.7453" stop-color="#00aa93"/><stop offset="0.7509" stop-color="#00aa93"/><stop offset="0.7528" stop-color="#0000b9"/><stop offset="0.7584" stop-color="#0000b9"/><stop offset="0.7603" stop-color="#007add"/><stop offset="0.7772" stop-color="#007add"/><stop offset="0.7790" stop-color="#0000cd"/><stop offset="0.7828" stop-color="#0000cd"/><stop offset="0.7846" stop-color="#00aa9b"/><stop offset="0.7884" stop-color="#00aa9b"/><stop offset="0.7903" stop-color="#0000d5"/><stop offset="0.7959" stop-color="#0000d5"/><stop offset="0.7978" stop-color="#00a97d"/><stop offset="0.8052" stop-color="#00a97d"/><stop offset="0.8071" stop-color="#0000dd"/><stop offset="0.8109" stop-color="#0000dd"/><stop offset="0.8127" stop-color="#0078dd"/><stop offset="0.8146" stop-color="#0078dd"/><stop offset="0.8165" stop-color="#0000bd"/><stop offset="0.8184" stop-color="#0000bd"/><stop offset="0.8202" stop-color="#0078dd"/><stop offset="0.8221" stop-color="#0078dd"/><stop offset="0.8240" stop-color="#0000b5"/><stop offset="0.8258" stop-color="#0000b5"/><stop offset="0.8277" stop-color="#870098"/><stop offset="0.9101" stop-color="#79008a"/><stop offset="0.9157" stop-color="#700080"/><stop offset="0.9195" stop-color="#5d006b"/><stop offset="0.9213" stop-color="#5d006b"/><stop offset="0.9251" stop-color="#4b0055"/><stop offset="0.9270" stop-color="#4b0055"/><stop offset="0.9288" stop-color="#41004b"/><stop offset="0.9307" stop-color="#41004b"/><stop offset="0.9345" stop-color="#2f0035"/><stop offset="0.9363" stop-color="#2f0035"/><stop offset="0.9401" stop-color="#1c0020"/><stop offset="0.9419" stop-color="#1c0020"/><stop offset="0.9438" stop-color="#130015"/><stop offset="0.9457" stop-color="#130015"/><stop offset="0.9476" stop-color="#09000b"/><stop offset="0.9513" stop-color="#09000b"/><stop offset="0.9532" stop-color="#000000"/><stop offset="1.0000" stop-color="#000000"/></linearGradient>
<linearGradient id="g0_9" gradientUnits="userSpaceOnUse" x1="48" x2="315" y1="0" y2="0"><stop offset="0.0000" stop-color="#0000bd"/><stop offset="0.0019" stop-color="#0000bd"/><stop offset="0.0037" stop-color="#25002b"/><stop offset="0.0674" stop-color="#25002b"/><stop offset="0.0693" stop-color="#1c0020"/><stop offset="0.1629" stop-color="#1c0020"/><stop offset="0.1648" stop-color="#25002b"/><stop offset="0.1816" stop-color="#25002b"/><stop offset="0.1835" stop-color="#2f0035"/><stop offset="0.1854" stop-color="#2f0035"/><stop offset="0.1873" stop-color="#380040"/><stop offset="0.1929" stop-color="#380040"/><stop offset="0.1966" stop-color="#4b0055"/><stop offset="0.1985" stop-color="#4b0055"/><stop offset="0.2079" stop-color="#770088"/><stop offset="0.2247" stop-color="#870098"/><stop offset="0.2285" stop-color="#6d009c"/><stop offset="0.2322" stop-color="#0000b1"/><stop offset="0.2341" stop-color="#0000cd"/><stop offset="0.2360" stop-color="#0000dd"/><stop offset="0.2378" stop-color="#001cdd"/><stop offset="0.2453" stop-color="#0025dd"/><stop offset="0.2472" stop-color="#0025dd"/><stop offset="0.2509" stop-color="#0054dd"/><stop offset="0.2547" stop-color="#007add"/><stop offset="0.2697" stop-color="#0095dd"/><stop offset="0.2865" stop-color="#009bd7"/><stop offset="0.3090" stop-color="#00a7b3"/><stop offset="0.3165" stop-color="#00a7b3"/><stop offset="0.3258" stop-color="#00aaab"/><stop offset="0.3951" stop-color="#00aa98"/><stop offset="0.4363" stop-color="#00aa88"/><stop offset="0.4382" stop-color="#00a97d"/><stop offset="0.4476" stop-color="#00a97d"/><stop offset="0.4513" stop-color="#00a668"/><stop offset="0.4532" stop-color="#00a668"/><stop offset="0.4569" stop-color="#00a353"/><stop offset="0.4625" stop-color="#00a353"/><stop offset="0.4644" stop-color="#00a248"/><stop offset="0.4663" stop-color="#00a248"/><stop offset="0.4700" stop-color="#009f33"/><stop offset="0.4719" stop-color="#009f33"/><stop offset="0.4738" stop-color="#009e28"/><stop offset="0.4775" stop-color="#009e28"/><stop offset="0.4794" stop-color="#009f33"/><stop offset="0.4831" stop-color="#009f33"/><stop offset="0.4850" stop-color="#009e28"/><stop offset="0.4869" stop-color="#009e28"/><stop offset="0.4888" stop-color="#009d1d"/><stop offset="0.4944" stop-color="#009d1d"/><stop offset="0.4963" stop-color="#009e28"/><stop offset="0.4981" stop-color="#009e28"/><stop offset="0.5000" stop-color="#009d1d"/><stop offset="0.5019" stop-color="#009d1d"/><stop offset="0.5056" stop-color="#009a08"/><stop offset="0.5112" stop-color="#009a00"/><stop offset="0.5150" stop-color="#009a08"/><stop offset="0.5187" stop-color="#009a00"/><stop offset="0.5262" stop-color="#009c00"/><stop offset="0.5300" stop-color="#009a00"/><stop offset="0.5337" stop-color="#009a08"/><stop offset="0.5412" stop-color="#009a08"/><stop offset="0.5431" stop-color="#009b13"/><stop offset="0.5449" stop-color="#009b13"/><stop offset="0.5487" stop-color="#009e28"/><stop offset="0.5524" stop-color="#009e28"/><stop offset="0.5543" stop-color="#009d1d"/><stop offset="0.5581" stop-color="#009d1d"/><stop offset="0.5749" stop-color="#00a97d"/><stop offset="0.5768" stop-color="#00a97d"/><stop offset="0.5787" stop-color="#00aa8b"/><stop offset="0.6067" stop-color="#00aa9b"/><stop offset="0.6180" stop-color="#00a8af"/><stop offset="0.6273" stop-color="#00a2c3"/><stop offset="0.6330" stop-color="#0098dd"/><stop offset="0.6517" stop-color="#0070dd"/><stop offset="0.6592" stop-color="#004bdd"/><stop offset="0.6685" stop-color="#0038dd"/><stop offset="0.6723" stop-color="#0038dd"/><stop offset="0.6760" stop-color="#002fdd"/><stop offset="0.6835" stop-color="#0025dd"/><stop offset="0.6873" stop-color="#001cdd"/><stop offset="0.6929" stop-color="#001cdd"/><stop offset="0.7004" stop-color="#0009dd"/><stop offset="0.7079" stop-color="#0000dd"/><stop offset="0.7434" stop-color="#0000d1"/><stop offset="0.7453" stop-color="#00a773"/><stop offset="0.7509" stop-color="#00a773"/><stop offset="0.7528" stop-color="#0000d1"/><stop offset="0.7584" stop-color="#0000d1"/><stop offset="0.7603" stop-color="#008add"/><stop offset="0.7772" stop-color="#0088dd"/><stop offset="0.7790" stop-color="#0009dd"/><stop offset="0.7828" stop-color="#0009dd"/><stop offset="0.7846" stop-color="#00aa8d"/><stop offset="0.7884" stop-color="#00aa8d"/><stop offset="0.7903" stop-color="#001cdd"/><stop offset="0.7959" stop-color="#001cdd"/><stop offset="0.7978" stop-color="#00a248"/><stop offset="0.7996" stop-color="#00a353"/><stop offset="0.8052" stop-color="#00a353"/><stop offset="0.8071" stop-color="#002fdd"/><stop offset="0.8109" stop-color="#002fdd"/><stop offset="0.8127" stop-color="#0085dd"/><stop offset="0.8146" stop-color="#0085dd"/><stop offset="0.8165" stop-color="#0000d1"/><stop offset="0.8184" stop-color="#0000d1"/><stop offset="0.8202" stop-color="#0082dd"/><stop offset="0.8221" stop-color="#0082dd"/><stop offset="0.8240" stop-color="#0000c5"/><stop offset="0.8258" stop-color="#0000c5"/><stop offset="0.8277" stop-color="#83009a"/><stop offset="0.8858" stop-color="#820093"/><stop offset="0.9139" stop-color="#770088"/><stop offset="0.9195" stop-color="#670075"/><stop offset="0.9213" stop-color="#5d006b"/><stop offset="0.9232" stop-color="#5d006b"/><stop offset="0.9270" stop-color="#4b0055"/><stop offset="0.9288" stop-color="#4b0055"/><stop offset="0.9326" stop-color="#380040"/><stop offset="0.9345" stop-color="#380040"/><stop offset="0.9382" stop-color="#25002b"/><stop offset="0.9401" stop-color="#25002b"/><stop offset="0.9419" stop-color="#1c0020"/><stop offset="0.9438" stop-color="#1c0020"/><stop offset="0.9457" stop-color="#130015"/><stop offset="0.9476" stop-color="#130015"/><stop offset="0.9494" stop-color="#09000b"/><stop offset="0.9625" stop-color="#09000b"/><stop offset="0.9644" stop-color="#000000"/><stop offset="1.0000" stop-color="#000000"/></linearGradient>
<linearGradient id="g0_10" gradientUnits="userSpaceOnUse" x1="48" x2="315" y1="0" y2="0"><stop offset="0.0000" stop-color="#0000bd"/><stop offset="0.0019" stop-color="#0000bd"/><stop offset="0.0037" stop-color="#25002b"/><stop offset="0.0674" stop-color="#25002b"/><stop offset="0.0693" stop-color="#1c0020"/><stop offset="0.1629" stop-color="#1c0020"/><stop offset="0.1648" stop-color="#25002b"/><stop offset="0.1816" stop-color="#25002b"/><stop offset="0.1835" stop-color="#2f0035"/><stop offset="0.1854" stop-color="#2f0035"/><stop offset="0.1873" stop-color="#380040"/><stop offset="0.1929" stop-color="#380040"/><stop offset="0.1966" stop-color="#4b0055"/><stop offset="0.1985" stop-color="#4b0055"/><stop offset="0.2079" stop-color="#770088"/><stop offset="0.2285" stop-color="#870098"/><stop offset="0.2303" stop-color="#58009f"/><stop offset="0.2322" stop-color="#1800a7"/><stop offset="0.2341" stop-color="#0000bd"/><stop offset="0.2378" stop-color="#0000d9"/><stop offset="0.2472" stop-color="#0000dd"/><stop offset="0.2509" stop-color="#0009dd"/><stop offset="0.2622" stop-color="#0025dd"/><stop offset="0.2697" stop-color="#0054dd"/><stop offset="0.2734" stop-color="#0067dd"/><stop offset="0.2921" stop-color="#0085dd"/><stop offset="0.3184" stop-color="#009bd7"/><stop offset="0.3296" stop-color="#009fcb"/><stop offset="0.3427" stop-color="#00a3bf"/><stop offset="0.3502" stop-color="#00a3bf"/><stop offset="0.3596" stop-color="#00a6b7"/><stop offset="0.3783" stop-color="#00aaa8"/><stop offset="0.4195" stop-color="#00aa95"/><stop offset="0.4513" stop-color="#00aa88"/><stop offset="0.4569" stop-color="#00a668"/><stop offset="0.4625" stop-color="#00a668"/><stop offset="0.4644" stop-color="#00a55d"/><stop offset="0.4663" stop-color="#00a55d"/><stop offset="0.4700" stop-color="#00a248"/><stop offset="0.4719" stop-color="#00a248"/><stop offset="0.4738" stop-color="#00a13d"/><stop offset="0.4775" stop-color="#00a13d"/><stop offset="0.4794" stop-color="#00a248"/><stop offset="0.4831" stop-color="#00a248"/><stop offset="0.4850" stop-color="#00a13d"/><stop offset="0.4869" stop-color="#00a13d"/><stop offset="0.4888" stop-color="#009f33"/><stop offset="0.4963" stop-color="#009f33"/><stop offset="0.4981" stop-color="#00a13d"/><stop offset="0.5019" stop-color="#009e28"/><stop offset="0.5037" stop-color="#009e28"/><stop offset="0.5075" stop-color="#009b13"/><stop offset="0.5169" stop-color="#009b13"/><stop offset="0.5187" stop-color="#009a08"/><stop offset="0.5243" stop-color="#009a00"/><stop offset="0.5300" stop-color="#009b13"/><stop offset="0.5318" stop-color="#009d1d"/><stop offset="0.5412" stop-color="#009d1d"/><stop offset="0.5431" stop-color="#009e28"/><stop offset="0.5449" stop-color="#009e28"/><stop offset="0.5487" stop-color="#00a13d"/><stop offset="0.5543" stop-color="#00a13d"/><stop offset="0.5562" stop-color="#009f33"/><stop offset="0.5581" stop-color="#00a13d"/><stop offset="0.5599" stop-color="#00a13d"/><stop offset="0.5618" stop-color="#00a353"/><stop offset="0.5712" stop-color="#00aa88"/><stop offset="0.5880" stop-color="#00aa9b"/><stop offset="0.6124" stop-color="#00a8af"/><stop offset="0.6217" stop-color="#009fcb"/><stop offset="0.6292" stop-color="#0095dd"/><stop offset="0.6404" stop-color="#0070dd"/><stop offset="0.6610" stop-color="#0009dd"/><stop offset="0.6648" stop-color="#0009dd"/><stop offset="0.6685" stop-color="#0000dd"/><stop offset="0.7210" stop-color="#0000c1"/><stop offset="0.7434" stop-color="#0000b9"/><stop offset="0.7453" stop-color="#00aa90"/><stop offset="0.7509" stop-color="#00aa90"/><stop offset="0.7528" stop-color="#0000b9"/><stop offset="0.7584" stop-color="#0000b9"/><stop offset="0.7603" stop-color="#007add"/><stop offset="0.7772" stop-color="#007add"/><stop offset="0.7790" stop-color="#0000cd"/><stop offset="0.7828" stop-color="#0000cd"/><stop offset="0.7846" stop-color="#00aa9b"/><stop offset="0.7884" stop-color="#00aa9b"/><stop offset="0.7903" stop-color="#0000d5"/><stop offset="0.7959" stop-color="#0000d5"/><stop offset="0.7978" stop-color="#00a97d"/><stop offset="0.8052" stop-color="#00a97d"/><stop offset="0.8071" stop-color="#0009dd"/><stop offset="0.8109" stop-color="#0000dd"/><stop offset="0.8127" stop-color="#0078dd"/><stop offset="0.8146" stop-color="#0078dd"/><stop offset="0.8165" stop-color="#0000c1"/><stop offset="0.8184" stop-color="#0000c1"/><stop offset="0.8202" stop-color="#0078dd"/><stop offset="0.8221" stop-color="#0078dd"/><stop offset="0.8240" stop-color="#0000b5"/><stop offset="0.8258" stop-color="#0000b5"/><stop offset="0.8277" stop-color="#870098"/><stop offset="0.9101" stop-color="#79008a"/><stop offset="0.9157" stop-color="#700080"/><stop offset="0.9195" stop-color="#5d006b"/><stop offset="0.9213" stop-color="#5d006b"/><stop offset="0.9232" stop-color="#540060"/><stop offset="0.9251" stop-color="#540060"/><stop offset="0.9288" stop-color="#41004b"/><stop offset="0.9307" stop-color="#41004b"/><stop offset="0.9345" stop-color="#2f0035"/><stop offset="0.9363" stop-color="#2f0035"/><stop offset="0.9401" stop-color="#1c0020"/><stop offset="0.9419" stop-color="#1c0020"/><stop offset="0.9438" stop-color="#130015"/><stop offset="0.9476" stop-color="#130015"/><stop offset="0.9494" stop-color="#09000b"/><stop offset="0.9532" stop-color="#09000b"/><stop offset="0.9551" stop-color="#000000"/><stop offset="1.0000" stop-color="#000000"/></linearGradient>
<linearGradient id="g0_11" gradientUnits="userSpaceOnUse" x1="48" x2="315" y1="0" y2="0"><stop offset="0.0000" stop-color="#0000bd"/><stop offset="0.0019" stop-color="#0000bd"/><stop offset="0.0037" stop-color="#25002b"/><stop offset="0.0674" stop-color="#25002b"/><stop offset="0.0693" stop-color="#1c0020"/><stop offset="0.1629" stop-color="#1c0020"/><stop offset="0.1648" stop-color="#25002b"/><stop offset="0.1816" stop-color="#25002b"/><stop offset="0.1835" stop-color="#2f0035"/><stop offset="0.1854" stop-color="#2f0035"/><stop offset="0.1873" stop-color="#380040"/><stop offset="0.1929" stop-color="#380040"/><stop offset="0.1966" stop-color="#4b0055"/><stop offset="0.1985" stop-color="#4b0055"/><stop offset="0.2079" stop-color="#770088"/><stop offset="0.2266" stop-color="#870098"/><stop offset="0.2285" stop-color="#83009a"/><stop offset="0.2303" stop-color="#4d00a0"/><stop offset="0.2322" stop-color="#0d00a8"/><stop offset="0.2341" stop-color="#0000c1"/><stop offset="0.2378" stop-color="#0000dd"/><stop offset="0.2434" stop-color="#0000dd"/><stop offset="0.2509" stop-color="#001cdd"/><stop offset="0.2547" stop-color="#0025dd"/><stop offset="0.2584" stop-color="#0038dd"/><stop offset="0.2622" stop-color="#0041dd"/><stop offset="0.2659" stop-color="#005ddd"/><stop offset="0.2715" stop-color="#0078dd"/><stop offset="0.3052" stop-color="#009adb"/><stop offset="0.3184" stop-color="#009ecf"/><stop offset="0.3277" stop-color="#00a0c7"/><stop offset="0.3446" stop-color="#00a4bb"/><stop offset="0.3521" stop-color="#00a6b7"/><stop offset="0.3689" stop-color="#00aaab"/><stop offset="0.3970" stop-color="#00aaa3"/><stop offset="0.4176" stop-color="#00aa98"/><stop offset="0.4195" stop-color="#00a700"/><stop offset="0.4213" stop-color="#00a700"/><stop offset="0.4232" stop-color="#00aa93"/><stop offset="0.4513" stop-color="#00aa88"/><stop offset="0.4569" stop-color="#00a668"/><stop offset="0.4644" stop-color="#00a668"/><stop offset="0.4682" stop-color="#00a353"/><stop offset="0.4700" stop-color="#00a353"/><stop offset="0.4738" stop-color="#00a13d"/><stop offset="0.4775" stop-color="#00a13d"/><stop offset="0.4794" stop-color="#00a248"/><stop offset="0.4831" stop-color="#00a248"/><stop offset="0.4850" stop-color="#00a13d"/><stop offset="0.4869" stop-color="#00a13d"/><stop offset="0.4888" stop-color="#009f33"/><stop offset="0.4944" stop-color="#009f33"/><stop offset="0.4963" stop-color="#00a13d"/><stop offset="0.4981" stop-color="#00a13d"/><stop offset="0.5000" stop-color="#009f33"/><stop offset="0.5019" stop-color="#009f33"/><stop offset="0.5075" stop-color="#009b13"/><stop offset="0.5187" stop-color="#009b13"/><stop offset="0.5225" stop-color="#009a00"/><stop offset="0.5262" stop-color="#009a08"/><stop offset="0.5281" stop-color="#009b13"/><stop offset="0.5300" stop-color="#009b13"/><stop offset="0.5318" stop-color="#009d1d"/><stop offset="0.5412" stop-color="#009d1d"/><stop offset="0.5449" stop-color="#009f33"/><stop offset="0.5468" stop-color="#009f33"/><stop offset="0.5487" stop-color="#00a13d"/><stop offset="0.5581" stop-color="#00a13d"/><stop offset="0.5712" stop-color="#00aa88"/><stop offset="0.5899" stop-color="#00aa9b"/><stop offset="0.6067" stop-color="#00aaa5"/><stop offset="0.6124" stop-color="#00a8af"/><stop offset="0.6199" stop-color="#00a2c3"/><stop offset="0.6311" stop-color="#0092dd"/><stop offset="0.6442" stop-color="#0067dd"/><stop offset="0.6592" stop-color="#001cdd"/><stop offset="0.6667" stop-color="#0013dd"/><stop offset="0.6704" stop-color="#0009dd"/><stop offset="0.6779" stop-color="#0000dd"/><stop offset="0.7191" stop-color="#0000c5"/><stop offset="0.7434" stop-color="#0000c1"/><stop offset="0.7453" stop-color="#00aa8d"/><stop offset="0.7509" stop-color="#00aa8d"/><stop offset="0.7528" stop-color="#0000bd"/><stop offset="0.7584" stop-color="#0000bd"/><stop offset="0.7603" stop-color="#007ddd"/><stop offset="0.7772" stop-color="#007ddd"/><stop offset="0.7790" stop-color="#0000d1"/><stop offset="0.7828" stop-color="#0000d1"/><stop offset="0.7846" stop-color="#00aa98"/><stop offset="0.7884" stop-color="#00aa98"/><stop offset="0.7903" stop-color="#0000d9"/><stop offset="0.7959" stop-color="#0000d9"/><stop offset="0.7978" stop-color="#00a773"/><stop offset="0.8052" stop-color="#00a773"/><stop offset="0.8071" stop-color="#0009dd"/><stop offset="0.8109" stop-color="#0009dd"/><stop offset="0.8127" stop-color="#007add"/><stop offset="0.8146" stop-color="#007add"/><stop offset="0.8165" stop-color="#0000c5"/><stop offset="0.8184" stop-color="#0000c1"/><stop offset="0.8202" stop-color="#007add"/><stop offset="0.8221" stop-color="#007add"/><stop offset="0.8240" stop-color="#0000b9"/><stop offset="0.8258" stop-color="#0000b9"/><stop offset="0.8277" stop-color="#870098"/><stop offset="0.9064" stop-color="#7a008b"/><stop offset="0.9139" stop-color="#770088"/><stop offset="0.9176" stop-color="#670075"/><stop offset="0.9195" stop-color="#670075"/><stop offset="0.9232" stop-color="#540060"/><stop offset="0.9251" stop-color="#540060"/><stop offset="0.9288" stop-color="#41004b"/><stop offset="0.9307" stop-color="#41004b"/><stop offset="0.9345" stop-color="#2f0035"/><stop offset="0.9363" stop-color="#2f0035"/><stop offset="0.9401" stop-color="#1c0020"/><stop offset="0.9438" stop-color="#1c0020"/><stop offset="0.9457" stop-color="#130015"/><stop offset="0.9476" stop-color="#130015"/><stop offset="0.9494" stop-color="#09000b"/><stop offset="0.9551" stop-color="#09000b"/><stop offset="0.9569" stop-color="#000000"/><stop offset="1.0000" stop-color="#000000"/></linearGradient>
<linearGradient id="g0_12" gradientUnits="userSpaceOnUse" x1="48" x2="315" y1="0" y2="0"><stop offset="0.0000" stop-color="#0000bd"/><stop offset="0.0019" stop-color="#0000bd"/><stop offset="0.0037" stop-color="#25002b"/><stop offset="0.0674" stop-color="#25002b"/><stop offset="0.0693" stop-color="#1c0020"/><stop offset="0.1629" stop-color="#1c0020"/><stop offset="0.1648" stop-color="#25002b"/><stop offset="0.1816" stop-color="#25002b"/><stop offset="0.1835" stop-color="#2f0035"/><stop offset="0.1854" stop-color="#2f0035"/><stop offset="0.1873" stop-color="#380040"/><stop offset="0.1929" stop-color="#380040"/><stop offset="0.1966" stop-color="#4b0055"/><stop offset="0.1985" stop-color="#4b0055"/><stop offset="0.2079" stop-color="#770088"/><stop offset="0.2247" stop-color="#870098"/><stop offset="0.2285" stop-color="#6d009c"/><stop offset="0.2322" stop-color="#0000b1"/><stop offset="0.2341" stop-color="#0000cd"/><stop offset="0.2360" stop-color="#0000dd"/><stop offset="0.2378" stop-color="#001cdd"/><stop offset="0.2453" stop-color="#0025dd"/><stop offset="0.2472" stop-color="#0025dd"/><stop offset="0.2509" stop-color="#0054dd"/><stop offset="0.2547" stop-color="#007add"/><stop offset="0.2697" stop-color="#0095dd"/><stop offset="0.2865" stop-color="#009bd7"/><stop offset="0.3071" stop-color="#00a6b7"/><stop offset="0.3165" stop-color="#00a7b3"/><stop offset="0.3315" stop-color="#00aaab"/><stop offset="0.3708" stop-color="#00aa9d"/><stop offset="0.4101" stop-color="#00aa95"/><stop offset="0.4120" stop-color="#00f400"/><stop offset="0.4176" stop-color="#00f400"/><stop offset="0.4195" stop-color="#009f00"/><stop offset="0.4213" stop-color="#009f00"/><stop offset="0.4232" stop-color="#00aa8d"/><stop offset="0.4382" stop-color="#00aa88"/><stop offset="0.4401" stop-color="#00a97d"/><stop offset="0.4494" stop-color="#00a97d"/><stop offset="0.4551" stop-color="#00a55d"/><stop offset="0.4569" stop-color="#00a55d"/><stop offset="0.4588" stop-color="#00a353"/><stop offset="0.4663" stop-color="#00a353"/><stop offset="0.4719" stop-color="#009f33"/><stop offset="0.4850" stop-color="#009f33"/><stop offset="0.4869" stop-color="#009e28"/><stop offset="0.5000" stop-color="#009e28"/><stop offset="0.5037" stop-color="#009b13"/><stop offset="0.5056" stop-color="#009b13"/><stop offset="0.5075" stop-color="#009a08"/><stop offset="0.5169" stop-color="#009a08"/><stop offset="0.5206" stop-color="#009a00"/><stop offset="0.5281" stop-color="#009a00"/><stop offset="0.5356" stop-color="#009b13"/><stop offset="0.5431" stop-color="#009b13"/><stop offset="0.5468" stop-color="#009e28"/><stop offset="0.5581" stop-color="#009e28"/><stop offset="0.5730" stop-color="#00a97d"/><stop offset="0.5749" stop-color="#00a97d"/><stop offset="0.5787" stop-color="#00aa8b"/><stop offset="0.6067" stop-color="#00aa9b"/><stop offset="0.6273" stop-color="#00a2c3"/><stop offset="0.6330" stop-color="#0098dd"/><stop offset="0.6517" stop-color="#0070dd"/><stop offset="0.6592" stop-color="#004bdd"/><stop offset="0.6685" stop-color="#0038dd"/><stop offset="0.6723" stop-color="#0038dd"/><stop offset="0.6760" stop-color="#002fdd"/><stop offset="0.6835" stop-color="#0025dd"/><stop offset="0.6873" stop-color="#001cdd"/><stop offset="0.6929" stop-color="#001cdd"/><stop offset="0.7004" stop-color="#0009dd"/><stop offset="0.7079" stop-color="#0000dd"/><stop offset="0.7434" stop-color="#0000d1"/><stop offset="0.7453" stop-color="#00a773"/><stop offset="0.7509" stop-color="#00a773"/><stop offset="0.7528" stop-color="#0000d1"/><stop offset="0.7584" stop-color="#0000d1"/><stop offset="0.7603" stop-color="#008add"/><stop offset="0.7772" stop-color="#0088dd"/><stop offset="0.7790" stop-color="#0009dd"/><stop offset="0.7828" stop-color="#0009dd"/><stop offset="0.7846" stop-color="#00aa8d"/><stop offset="0.7884" stop-color="#00aa8d"/><stop offset="0.7903" stop-color="#001cdd"/><stop offset="0.7959" stop-color="#001cdd"/><stop offset="0.7978" stop-color="#00a248"/><stop offset="0.7996" stop-color="#00a353"/><stop offset="0.8052" stop-color="#00a353"/><stop offset="0.8071" stop-color="#002fdd"/><stop offset="0.8109" stop-color="#002fdd"/><stop offset="0.8127" stop-color="#0085dd"/><stop offset="0.8146" stop-color="#0085dd"/><stop offset="0.8165" stop-color="#0000d1"/><stop offset="0.8184" stop-color="#0000d1"/><stop offset="0.8202" stop-color="#0082dd"/><stop offset="0.8221" stop-color="#0082dd"/><stop offset="0.8240" stop-color="#0000c5"/><stop offset="0.8258" stop-color="#0000c5"/><stop offset="0.8277" stop-color="#83009a"/><stop offset="0.8858" stop-color="#820093"/><stop offset="0.9139" stop-color="#770088"/><stop offset="0.9195" stop-color="#670075"/><stop offset="0.9213" stop-color="#5d006b"/><stop offset="0.9232" stop-color="#5d006b"/><stop offset="0.9270" stop-color="#4b0055"/><stop offset="0.9288" stop-color="#4b0055"/><stop offset="0.9326" stop-color="#380040"/><stop offset="0.9345" stop-color="#380040"/><stop offset="0.9382" stop-color="#25002b"/><stop offset="0.9401" stop-color="#25002b"/><stop offset="0.9419" stop-color="#1c0020"/><stop offset="0.9438" stop-color="#1c0020"/><stop offset="0.9457" stop-color="#130015"/><stop offset="0.9476" stop-color="#130015"/><stop offset="0.9494" stop-color="#09000b"/><stop offset="0.9625" stop-color="#09000b"/><stop offset="0.9644" stop-color="#000000"/><stop offset="1.0000" stop-color="#000000"/></linearGradient>
<linearGradient id="g0_13" gradientUnits="userSpaceOnUse" x1="48" x2="315" y1="0" y2="0"><stop offset="0.0000" stop-color="#0000bd"/><stop offset="0.0019" stop-color="#0000bd"/><stop offset="0.0037" stop-color="#25002b"/><stop offset="0.0674" stop-color="#25002b"/><stop offset="0.0693" stop-color="#1c0020"/><stop offset="0.1629" stop-color="#1c0020"/><stop offset="0.1648" stop-color="#25002b"/><stop offset="0.1816" stop-color="#25002b"/><stop offset="0.1835" stop-color="#2f0035"/><stop offset="0.1854" stop-color="#2f0035"/><stop offset="0.1873" stop-color="#380040"/><stop offset="0.1929" stop-color="#380040"/><stop offset="0.1966" stop-color="#4b0055"/><stop offset="0.1985" stop-color="#4b0055"/><stop offset="0.2079" stop-color="#770088"/><stop offset="0.2266" stop-color="#83009a"/><stop offset="0.2285" stop-color="#78009b"/><stop offset="0.2303" stop-color="#4300a2"/><stop offset="0.2322" stop-color="#0300aa"/><stop offset="0.2341" stop-color="#0000c9"/><stop offset="0.2360" stop-color="#0000d5"/><stop offset="0.2378" stop-color="#0013dd"/><stop offset="0.2453" stop-color="#0013dd"/><stop offset="0.2491" stop-color="#0025dd"/><stop offset="0.2528" stop-color="#004bdd"/><stop offset="0.2584" stop-color="#0070dd"/><stop offset="0.2697" stop-color="#0088dd"/><stop offset="0.2865" stop-color="#0092dd"/><stop offset="0.2978" stop-color="#009bd7"/><stop offset="0.3071" stop-color="#00a0c7"/><stop offset="0.3184" stop-color="#00a3bf"/><stop offset="0.3277" stop-color="#00a6b7"/><stop offset="0.3914" stop-color="#00aa9d"/><stop offset="0.4139" stop-color="#00aa98"/><stop offset="0.4157" stop-color="#00ca00"/><stop offset="0.4213" stop-color="#00ca00"/><stop offset="0.4232" stop-color="#00aa90"/><stop offset="0.4494" stop-color="#00aa88"/><stop offset="0.4569" stop-color="#00a55d"/><stop offset="0.4644" stop-color="#00a55d"/><stop offset="0.4663" stop-color="#00a353"/><stop offset="0.4682" stop-color="#00a353"/><stop offset="0.4719" stop-color="#00a13d"/><stop offset="0.4738" stop-color="#00a13d"/><stop offset="0.4757" stop-color="#009f33"/><stop offset="0.4775" stop-color="#00a13d"/><stop offset="0.4850" stop-color="#00a13d"/><stop offset="0.4869" stop-color="#009f33"/><stop offset="0.4888" stop-color="#009f33"/><stop offset="0.4906" stop-color="#009e28"/><stop offset="0.4925" stop-color="#009e28"/><stop offset="0.4944" stop-color="#009f33"/><stop offset="0.5000" stop-color="#009f33"/><stop offset="0.5056" stop-color="#009b13"/><stop offset="0.5150" stop-color="#009b13"/><stop offset="0.5169" stop-color="#009a08"/><stop offset="0.5262" stop-color="#009a00"/><stop offset="0.5300" stop-color="#009b13"/><stop offset="0.5412" stop-color="#009b13"/><stop offset="0.5449" stop-color="#009e28"/><stop offset="0.5468" stop-color="#009e28"/><stop offset="0.5487" stop-color="#009f33"/><stop offset="0.5543" stop-color="#009f33"/><stop offset="0.5562" stop-color="#009e28"/><stop offset="0.5581" stop-color="#009f33"/><stop offset="0.5599" stop-color="#009f33"/><stop offset="0.5618" stop-color="#00a248"/><stop offset="0.5730" stop-color="#00aa88"/><stop offset="0.6049" stop-color="#00aaa0"/><stop offset="0.6142" stop-color="#00aaab"/><stop offset="0.6273" stop-color="#009fcb"/><stop offset="0.6311" stop-color="#0098dd"/><stop offset="0.6461" stop-color="#0078dd"/><stop offset="0.6498" stop-color="#005ddd"/><stop offset="0.6573" stop-color="#0041dd"/><stop offset="0.6610" stop-color="#002fdd"/><stop offset="0.6648" stop-color="#002fdd"/><stop offset="0.6685" stop-color="#0025dd"/><stop offset="0.6760" stop-color="#001cdd"/><stop offset="0.6798" stop-color="#0013dd"/><stop offset="0.6835" stop-color="#0013dd"/><stop offset="0.6873" stop-color="#0009dd"/><stop offset="0.6910" stop-color="#0009dd"/><stop offset="0.6948" stop-color="#0000dd"/><stop offset="0.7285" stop-color="#0000cd"/><stop offset="0.7434" stop-color="#0000c9"/><stop offset="0.7453" stop-color="#00aa88"/><stop offset="0.7509" stop-color="#00aa88"/><stop offset="0.7528" stop-color="#0000c9"/><stop offset="0.7584" stop-color="#0000c9"/><stop offset="0.7603" stop-color="#0085dd"/><stop offset="0.7772" stop-color="#0082dd"/><stop offset="0.7790" stop-color="#0000d9"/><stop offset="0.7828" stop-color="#0000d9"/><stop offset="0.7846" stop-color="#00aa90"/><stop offset="0.7884" stop-color="#00aa93"/><stop offset="0.7903" stop-color="#0009dd"/><stop offset="0.7959" stop-color="#0009dd"/><stop offset="0.7978" stop-color="#00a55d"/><stop offset="0.8052" stop-color="#00a55d"/><stop offset="0.8071" stop-color="#001cdd"/><stop offset="0.8109" stop-color="#001cdd"/><stop offset="0.8127" stop-color="#0080dd"/><stop offset="0.8146" stop-color="#0080dd"/><stop offset="0.8165" stop-color="#0000c9"/><stop offset="0.8184" stop-color="#0000c9"/><stop offset="0.8202" stop-color="#0080dd"/><stop offset="0.8221" stop-color="#0080dd"/><stop offset="0.8240" stop-color="#0000c1"/><stop offset="0.8258" stop-color="#0000c1"/><stop offset="0.8277" stop-color="#83009a"/><stop offset="0.8839" stop-color="#820093"/><stop offset="0.9139" stop-color="#770088"/><stop offset="0.9176" stop-color="#670075"/><stop offset="0.9195" stop-color="#670075"/><stop offset="0.9213" stop-color="#5d006b"/><stop offset="0.9232" stop-color="#5d006b"/><stop offset="0.9270" stop-color="#4b0055"/><stop offset="0.9288" stop-color="#4b0055"/><stop offset="0.9326" stop-color="#380040"/><stop offset="0.9345" stop-color="#380040"/><stop offset="0.9382" stop-color="#25002b"/><stop offset="0.9401" stop-color="#25002b"/><stop offset="0.9419" stop-color="#1c0020"/><stop offset="0.9438" stop-color="#1c0020"/><stop offset="0.9457" stop-color="#130015"/><stop offset="0.9476" stop-color="#130015"/><stop offset="0.9494" stop-color="#09000b"/><stop offset="0.9588" stop-color="#09000b"/><stop offset="0.9607" stop-color="#000000"/><stop offset="1.0000" stop-color="#000000"/></linearGradient>
<linearGradient id="g0_14" gradientUnits="userSpaceOnUse" x1="48" x2="315" y1="0" y2="0"><stop offset="0.0000" stop-color="#0000bd"/><stop offset="0.0019" stop-color="#0000bd"/><stop offset="0.0037" stop-color="#25002b"/><stop offset="0.0674" stop-color="#25002b"/><stop offset="0.0693" stop-color="#1c0020"/><stop offset="0.1629" stop-color="#1c0020"/><stop offset="0.1648" stop-color="#25002b"/><stop offset="0.1816" stop-color="#25002b"/><stop offset="0.1835" stop-color="#2f0035"/><stop offset="0.1854" stop-color="#2f0035"/><stop offset="0.1873" stop-color="#380040"/><stop offset="0.1929" stop-color="#380040"/><stop offset="0.1966" stop-color="#4b0055"/><stop offset="0.1985" stop-color="#4b0055"/><stop offset="0.2079" stop-color="#770088"/><stop offset="0.2285" stop-color="#870098"/><stop offset="0.2303" stop-color="#58009f"/><stop offset="0.2322" stop-color="#1800a7"/><stop offset="0.2341" stop-color="#0000bd"/><stop offset="0.2378" stop-color="#0000d9"/><stop offset="0.2491" stop-color="#0000dd"/><stop offset="0.2528" stop-color="#0009dd"/><stop offset="0.2566" stop-color="#0009dd"/><stop offset="0.2640" stop-color="#0025dd"/><stop offset="0.2678" stop-color="#0041dd"/><stop offset="0.2734" stop-color="#005ddd"/><stop offset="0.2809" stop-color="#0070dd"/><stop offset="0.2940" stop-color="#0085dd"/><stop offset="0.3165" stop-color="#009adb"/><stop offset="0.3277" stop-color="#009ecf"/><stop offset="0.3464" stop-color="#00a2c3"/><stop offset="0.3596" stop-color="#00a6b7"/><stop offset="0.3652" stop-color="#00a6b7"/><stop offset="0.3764" stop-color="#00aaab"/><stop offset="0.4139" stop-color="#00aa9d"/><stop offset="0.4157" stop-color="#00ca00"/><stop offset="0.4213" stop-color="#00ca00"/><stop offset="0.4232" stop-color="#00aa95"/><stop offset="0.4532" stop-color="#00aa88"/><stop offset="0.4569" stop-color="#00a773"/><stop offset="0.4644" stop-color="#00a773"/><stop offset="0.4682" stop-color="#00a55d"/><stop offset="0.4700" stop-color="#00a55d"/><stop offset="0.4738" stop-color="#00a248"/><stop offset="0.4775" stop-color="#00a248"/><stop offset="0.4794" stop-color="#00a353"/><stop offset="0.4831" stop-color="#00a353"/><stop offset="0.4850" stop-color="#00a248"/><stop offset="0.4869" stop-color="#00a248"/><stop offset="0.4888" stop-color="#00a13d"/><stop offset="0.4944" stop-color="#00a13d"/><stop offset="0.4963" stop-color="#00a248"/><stop offset="0.4981" stop-color="#00a248"/><stop offset="0.5000" stop-color="#00a13d"/><stop offset="0.5019" stop-color="#00a13d"/><stop offset="0.5075" stop-color="#009d1d"/><stop offset="0.5187" stop-color="#009d1d"/><stop offset="0.5225" stop-color="#009a08"/><stop offset="0.5243" stop-color="#009a08"/><stop offset="0.5281" stop-color="#009d1d"/><stop offset="0.5300" stop-color="#009d1d"/><stop offset="0.5318" stop-color="#009e28"/><stop offset="0.5412" stop-color="#009e28"/><stop offset="0.5449" stop-color="#00a13d"/><stop offset="0.5468" stop-color="#00a13d"/><stop offset="0.5487" stop-color="#00a248"/><stop offset="0.5581" stop-color="#00a248"/><stop offset="0.5693" stop-color="#00aa8b"/><stop offset="0.5880" stop-color="#00aa9d"/><stop offset="0.6105" stop-color="#00a8af"/><stop offset="0.6217" stop-color="#009ecf"/><stop offset="0.6292" stop-color="#0095dd"/><stop offset="0.6404" stop-color="#0070dd"/><stop offset="0.6442" stop-color="#005ddd"/><stop offset="0.6479" stop-color="#0041dd"/><stop offset="0.6592" stop-color="#0009dd"/><stop offset="0.6629" stop-color="#0009dd"/><stop offset="0.6667" stop-color="#0000dd"/><stop offset="0.7266" stop-color="#0000bd"/><stop offset="0.7434" stop-color="#0000b9"/><stop offset="0.7453" stop-color="#00aa93"/><stop offset="0.7509" stop-color="#00aa93"/><stop offset="0.7528" stop-color="#0000b9"/><stop offset="0.7584" stop-color="#0000b9"/><stop offset="0.7603" stop-color="#007add"/><stop offset="0.7772" stop-color="#007add"/><stop offset="0.7790" stop-color="#0000cd"/><stop offset="0.7828" stop-color="#0000cd"/><stop offset="0.7846" stop-color="#00aa9b"/><stop offset="0.7884" stop-color="#00aa9b"/><stop offset="0.7903" stop-color="#0000d5"/><stop offset="0.7959" stop-color="#0000d5"/><stop offset="0.7978" stop-color="#00a97d"/><stop offset="0.8052" stop-color="#00a97d"/><stop offset="0.8071" stop-color="#0000dd"/><stop offset="0.8109" stop-color="#0000dd"/><stop offset="0.8127" stop-color="#0078dd"/><stop offset="0.8146" stop-color="#0078dd"/><stop offset="0.8165" stop-color="#0000bd"/><stop offset="0.8184" stop-color="#0000bd"/><stop offset="0.8202" stop-color="#0078dd"/><stop offset="0.8221" stop-color="#0078dd"/><stop offset="0.8240" stop-color="#0000b5"/><stop offset="0.8258" stop-color="#0000b5"/><stop offset="0.8277" stop-color="#870098"/><stop offset="0.9101" stop-color="#79008a"/><stop offset="0.9157" stop-color="#700080"/><stop offset="0.9195" stop-color="#5d006b"/><stop offset="0.9213" stop-color="#5d006b"/><stop offset="0.9251" stop-color="#4b0055"/><stop offset="0.9270" stop-color="#4b0055"/><stop offset="0.9288" stop-color="#41004b"/><stop offset="0.9307" stop-color="#41004b"/><stop offset="0.9345" stop-color="#2f0035"/><stop offset="0.9363" stop-color="#2f0035"/><stop offset="0.9401" stop-color="#1c0020"/><stop offset="0.9419" stop-color="#1c0020"/><stop offset="0.9438" stop-color="#130015"/><stop offset="0.9457" stop-color="#130015"/><stop offset="0.9476" stop-color="#09000b"/><stop offset="0.9513" stop-color="#09000b"/><stop offset="0.9532" stop-color="#000000"/><stop offset="1.0000" stop-color="#000000"/></linearGradient>
<linearGradient id="g0_15" gradientUnits="userSpaceOnUse" x1="48" x2="315" y1="0" y2="0"><stop offset="0.0000" stop-color="#0000bd"/><stop offset="0.0019" stop-color="#0000bd"/><stop offset="0.0037" stop-color="#25002b"/><stop offset="0.0674" stop-color="#25002b"/><stop offset="0.0693" stop-color="#1c0020"/><stop offset="0.1629" stop-color="#1c0020"/><stop offset="0.1648" stop-color="#25002b"/><stop offset="0.1816" stop-color="#25002b"/><stop offset="0.1835" stop-color="#2f0035"/><stop offset="0.1854" stop-color="#2f0035"/><stop offset="0.1873" stop-color="#380040"/><stop offset="0.1929" stop-color="#380040"/><stop offset="0.1966" stop-color="#4b0055"/><stop offset="0.1985" stop-color="#4b0055"/><stop offset="0.2079" stop-color="#770088"/><stop offset="0.2266" stop-color="#870098"/><stop offset="0.2285" stop-color="#83009a"/><stop offset="0.2303" stop-color="#4d00a0"/><stop offset="0.2322" stop-color="#0d00a8"/><stop offset="0.2341" stop-color="#0000c5"/><stop offset="0.2378" stop-color="#0009dd"/><stop offset="0.2453" stop-color="#0009dd"/><stop offset="0.2547" stop-color="#0038dd"/><stop offset="0.2584" stop-color="#0054dd"/><stop offset="0.2622" stop-color="#005ddd"/><stop offset="0.2640" stop-color="#0070dd"/><stop offset="0.2734" stop-color="#0080dd"/><stop offset="0.3015" stop-color="#009adb"/><stop offset="0.3109" stop-color="#009ecf"/><stop offset="0.3296" stop-color="#00a3bf"/><stop offset="0.3483" stop-color="#00a6b7"/><stop offset="0.3596" stop-color="#00aaab"/><stop offset="0.3670" stop-color="#00aaab"/><stop offset="0.3764" stop-color="#00aaa3"/><stop offset="0.4139" stop-color="#00aa9b"/><stop offset="0.4157" stop-color="#49ff00"/><stop offset="0.4195" stop-color="#49ff00"/><stop offset="0.4213" stop-color="#00bc00"/><stop offset="0.4232" stop-color="#00aa90"/><stop offset="0.4494" stop-color="#00aa88"/><stop offset="0.4532" stop-color="#00a773"/><stop offset="0.4551" stop-color="#00a773"/><stop offset="0.4569" stop-color="#00a668"/><stop offset="0.4588" stop-color="#00a668"/><stop offset="0.4607" stop-color="#00a55d"/><stop offset="0.4663" stop-color="#00a55d"/><stop offset="0.4700" stop-color="#00a248"/><stop offset="0.4719" stop-color="#00a248"/><stop offset="0.4738" stop-color="#00a13d"/><stop offset="0.4794" stop-color="#00a13d"/><stop offset="0.4813" stop-color="#00a248"/><stop offset="0.4831" stop-color="#00a13d"/><stop offset="0.4850" stop-color="#00a13d"/><stop offset="0.4869" stop-color="#009f33"/><stop offset="0.5000" stop-color="#009f33"/><stop offset="0.5019" stop-color="#009e28"/><stop offset="0.5037" stop-color="#009e28"/><stop offset="0.5075" stop-color="#009b13"/><stop offset="0.5169" stop-color="#009b13"/><stop offset="0.5187" stop-color="#009a08"/><stop offset="0.5243" stop-color="#009a00"/><stop offset="0.5300" stop-color="#009b13"/><stop offset="0.5318" stop-color="#009d1d"/><stop offset="0.5431" stop-color="#009d1d"/><stop offset="0.5468" stop-color="#009f33"/><stop offset="0.5487" stop-color="#009f33"/><stop offset="0.5506" stop-color="#00a13d"/><stop offset="0.5524" stop-color="#009f33"/><stop offset="0.5581" stop-color="#009f33"/><stop offset="0.5655" stop-color="#00a55d"/><stop offset="0.5674" stop-color="#00a773"/><stop offset="0.5712" stop-color="#00aa88"/><stop offset="0.5918" stop-color="#00aa9b"/><stop offset="0.6105" stop-color="#00aaa5"/><stop offset="0.6180" stop-color="#00a3bf"/><stop offset="0.6273" stop-color="#009cd3"/><stop offset="0.6330" stop-color="#0090dd"/><stop offset="0.6442" stop-color="#0070dd"/><stop offset="0.6592" stop-color="#0025dd"/><stop offset="0.6667" stop-color="#001cdd"/><stop offset="0.6704" stop-color="#0013dd"/><stop offset="0.6779" stop-color="#0009dd"/><stop offset="0.6854" stop-color="#0000dd"/><stop offset="0.7191" stop-color="#0000c9"/><stop offset="0.7434" stop-color="#0000c5"/><stop offset="0.7453" stop-color="#00aa8b"/><stop offset="0.7509" stop-color="#00aa8b"/><stop offset="0.7528" stop-color="#0000c1"/><stop offset="0.7584" stop-color="#0000c1"/><stop offset="0.7603" stop-color="#0080dd"/><stop offset="0.7772" stop-color="#0080dd"/><stop offset="0.7790" stop-color="#0000d5"/><stop offset="0.7828" stop-color="#0000d5"/><stop offset="0.7846" stop-color="#00aa95"/><stop offset="0.7884" stop-color="#00aa95"/><stop offset="0.7903" stop-color="#0000dd"/><stop offset="0.7959" stop-color="#0000dd"/><stop offset="0.7978" stop-color="#00a668"/><stop offset="0.8034" stop-color="#00a668"/><stop offset="0.8052" stop-color="#00a773"/><stop offset="0.8071" stop-color="#0013dd"/><stop offset="0.8109" stop-color="#0013dd"/><stop offset="0.8127" stop-color="#007ddd"/><stop offset="0.8146" stop-color="#007ddd"/><stop offset="0.8165" stop-color="#0000c5"/><stop offset="0.8184" stop-color="#0000c5"/><stop offset="0.8202" stop-color="#007ddd"/><stop offset="0.8221" stop-color="#007ddd"/><stop offset="0.8240" stop-color="#0000bd"/><stop offset="0.8258" stop-color="#0000bd"/><stop offset="0.8277" stop-color="#83009a"/><stop offset="0.8820" stop-color="#820093"/><stop offset="0.9139" stop-color="#770088"/><stop offset="0.9176" stop-color="#670075"/><stop offset="0.9195" stop-color="#670075"/><stop offset="0.9232" stop-color="#540060"/><stop offset="0.9251" stop-color="#540060"/><stop offset="0.9288" stop-color="#41004b"/><stop offset="0.9307" stop-color="#41004b"/><stop offset="0.9345" stop-color="#2f0035"/><stop offset="0.9363" stop-color="#2f0035"/><stop offset="0.9382" stop-color="#25002b"/><stop offset="0.9401" stop-color="#25002b"/><stop offset="0.9419" stop-color="#1c0020"/><stop offset="0.9438" stop-color="#1c0020"/><stop offset="0.9457" stop-color="#130015"/><stop offset="0.9476" stop-color="#130015"/><stop offset="0.9494" stop-color="#09000b"/><stop offset="0.9569" stop-color="#09000b"/><stop offset="0.9588" stop-color="#000000"/><stop offset="1.0000" stop-color="#000000"/></linearGradient>
<linearGradient id="g0_16" gradientUnits="userSpaceOnUse" x1="48" x2="315" y1="0" y2="0"><stop offset="0.0000" stop-color="#0000bd"/><stop offset="0.0019" stop-color="#0000bd"/><stop offset="0.0037" stop-color="#25002b"/><stop offset="0.0674" stop-color="#25002b"/><stop offset="0.0693" stop-color="#1c0020"/><stop offset="0.1629" stop-color="#1c0020"/><stop offset="0.1648" stop-color="#25002b"/><stop offset="0.1816" stop-color="#25002b"/><stop offset="0.1835" stop-color="#2f0035"/><stop offset="0.1854" stop-color="#2f0035"/><stop offset="0.1873" stop-color="#380040"/><stop offset="0.1929" stop-color="#380040"/><stop offset="0.1966" stop-color="#4b0055"/><stop offset="0.1985" stop-color="#4b0055"/><stop offset="0.2079" stop-color="#770088"/><stop offset="0.2285" stop-color="#870098"/><stop offset="0.2303" stop-color="#58009f"/><stop offset="0.2322" stop-color="#1800a7"/><stop offset="0.2341" stop-color="#0000bd"/><stop offset="0.2378" stop-color="#0000d9"/><stop offset="0.2491" stop-color="#0000dd"/><stop offset="0.2528" stop-color="#0009dd"/><stop offset="0.2566" stop-color="#0009dd"/><stop offset="0.2640" stop-color="#0025dd"/><stop offset="0.2678" stop-color="#0041dd"/><stop offset="0.2734" stop-color="#005ddd"/><stop offset="0.2809" stop-color="#0070dd"/><stop offset="0.2940" stop-color="#0085dd"/><stop offset="0.3165" stop-color="#009adb"/><stop offset="0.3277" stop-color="#009ecf"/><stop offset="0.3464" stop-color="#00a2c3"/><stop offset="0.3596" stop-color="#00a6b7"/><stop offset="0.3652" stop-color="#00a6b7"/><stop offset="0.3764" stop-color="#00aaab"/><stop offset="0.4176" stop-color="#00aa9b"/><stop offset="0.4195" stop-color="#009f00"/><stop offset="0.4213" stop-color="#009f00"/><stop offset="0.4232" stop-color="#00aa95"/><stop offset="0.4532" stop-color="#00aa88"/><stop offset="0.4569" stop-color="#00a773"/><stop offset="0.4644" stop-color="#00a773"/><stop offset="0.4682" stop-color="#00a55d"/><stop offset="0.4700" stop-color="#00a55d"/><stop offset="0.4738" stop-color="#00a248"/><stop offset="0.4775" stop-color="#00a248"/><stop offset="0.4794" stop-color="#00a353"/><stop offset="0.4831" stop-color="#00a353"/><stop offset="0.4850" stop-color="#00a248"/><stop offset="0.4869" stop-color="#00a248"/><stop offset="0.4888" stop-color="#00a13d"/><stop offset="0.4944" stop-color="#00a13d"/><stop offset="0.4963" stop-color="#00a248"/><stop offset="0.4981" stop-color="#00a248"/><stop offset="0.5000" stop-color="#00a13d"/><stop offset="0.5019" stop-color="#00a13d"/><stop offset="0.5075" stop-color="#009d1d"/><stop offset="0.5187" stop-color="#009d1d"/><stop offset="0.5225" stop-color="#009a08"/><stop offset="0.5243" stop-color="#009a08"/><stop offset="0.5281" stop-color="#009d1d"/><stop offset="0.5300" stop-color="#009d1d"/><stop offset="0.5318" stop-color="#009e28"/><stop offset="0.5412" stop-color="#009e28"/><stop offset="0.5449" stop-color="#00a13d"/><stop offset="0.5468" stop-color="#00a13d"/><stop offset="0.5487" stop-color="#00a248"/><stop offset="0.5581" stop-color="#00a248"/><stop offset="0.5693" stop-color="#00aa8b"/><stop offset="0.5880" stop-color="#00aa9d"/><stop offset="0.6105" stop-color="#00a8af"/><stop offset="0.6217" stop-color="#009ecf"/><stop offset="0.6292" stop-color="#0095dd"/><stop offset="0.6404" stop-color="#0070dd"/><stop offset="0.6442" stop-color="#005ddd"/><stop offset="0.6479" stop-color="#0041dd"/><stop offset="0.6592" stop-color="#0009dd"/><stop offset="0.6629" stop-color="#0009dd"/><stop offset="0.6667" stop-color="#0000dd"/><stop offset="0.7266" stop-color="#0000bd"/><stop offset="0.7434" stop-color="#0000b9"/><stop offset="0.7453" stop-color="#00aa93"/><stop offset="0.7509" stop-color="#00aa93"/><stop offset="0.7528" stop-color="#0000b9"/><stop offset="0.7584" stop-color="#0000b9"/><stop offset="0.7603" stop-color="#007add"/><stop offset="0.7772" stop-color="#007add"/><stop offset="0.7790" stop-color="#0000cd"/><stop offset="0.7828" stop-color="#0000cd"/><stop offset="0.7846" stop-color="#00aa9b"/><stop offset="0.7884" stop-color="#00aa9b"/><stop offset="0.7903" stop-color="#0000d5"/><stop offset="0.7959" stop-color="#0000d5"/><stop offset="0.7978" stop-color="#00a97d"/><stop offset="0.8052" stop-color="#00a97d"/><stop offset="0.8071" stop-color="#0000dd"/><stop offset="0.8109" stop-color="#0000dd"/><stop offset="0.8127" stop-color="#0078dd"/><stop offset="0.8146" stop-color="#0078dd"/><stop offset="0.8165" stop-color="#0000bd"/><stop offset="0.8184" stop-color="#0000bd"/><stop offset="0.8202" stop-color="#0078dd"/><stop offset="0.8221" stop-color="#0078dd"/><stop offset="0.8240" stop-color="#0000b5"/><stop offset="0.8258" stop-color="#0000b5"/><stop offset="0.8277" stop-color="#870098"/><stop offset="0.9101" stop-color="#79008a"/><stop offset="0.9157" stop-color="#700080"/><stop offset="0.9195" stop-color="#5d006b"/><stop offset="0.9213" stop-color="#5d006b"/><stop offset="0.9251" stop-color="#4b0055"/><stop offset="0.9270" stop-color="#4b0055"/><stop offset="0.9288" stop-color="#41004b"/><stop offset="0.9307" stop-color="#41004b"/><stop offset="0.9345" stop-color="#2f0035"/><stop offset="0.9363" stop-color="#2f0035"/><stop offset="0.9401" stop-color="#1c0020"/><stop offset="0.9419" stop-color="#1c0020"/><stop offset="0.9438" stop-color="#130015"/><stop offset="0.9457" stop-color="#130015"/><stop offset="0.9476" stop-color="#09000b"/><stop offset="0.9513" stop-color="#09000b"/><stop offset="0.9532" stop-color="#000000"/><stop offset="1.0000" stop-color="#000000"/></linearGradient>
<linearGradient id="g0_17" gradientUnits="userSpaceOnUse" x1="48" x2="315" y1="0" y2="0"><stop offset="0.0000" stop-color="#0000bd"/><stop offset="0.0019" stop-color="#0000bd"/><stop offset="0.0037" stop-color="#25002b"/><stop offset="0.0674" stop-color="#25002b"/><stop offset="0.0693" stop-color="#1c0020"/><stop offset="0.1629" stop-color="#1c0020"/><stop offset="0.1648" stop-color="#25002b"/><stop offset="0.1816" stop-color="#25002b"/><stop offset="0.1835" stop-color="#2f0035"/><stop offset="0.1854" stop-color="#2f0035"/><stop offset="0.1873" stop-color="#380040"/><stop offset="0.1929" stop-color="#380040"/><stop offset="0.1966" stop-color="#4b0055"/><stop offset="0.1985" stop-color="#4b0055"/><stop offset="0.2079" stop-color="#770088"/><stop offset="0.2285" stop-color="#870098"/><stop offset="0.2303" stop-color="#58009f"/><stop offset="0.2322" stop-color="#1800a7"/><stop offset="0.2341" stop-color="#0000bd"/><stop offset="0.2378" stop-color="#0000d5"/><stop offset="0.2547" stop-color="#0000dd"/><stop offset="0.2584" stop-color="#0009dd"/><stop offset="0.2622" stop-color="#0013dd"/><stop offset="0.2697" stop-color="#0041dd"/><stop offset="0.2734" stop-color="#0054dd"/><stop offset="0.2809" stop-color="#0067dd"/><stop offset="0.2865" stop-color="#007add"/><stop offset="0.3127" stop-color="#0095dd"/><stop offset="0.3352" stop-color="#009fcb"/><stop offset="0.3539" stop-color="#00a3bf"/><stop offset="0.3670" stop-color="#00a6b7"/><stop offset="0.3764" stop-color="#00aaab"/><stop offset="0.3839" stop-color="#00aaab"/><stop offset="0.4176" stop-color="#00aa9d"/><stop offset="0.4195" stop-color="#009f00"/><stop offset="0.4213" stop-color="#009f00"/><stop offset="0.4232" stop-color="#00aa95"/><stop offset="0.4382" stop-color="#00aa93"/><stop offset="0.4551" stop-color="#00aa88"/><stop offset="0.4569" stop-color="#00a97d"/><stop offset="0.4607" stop-color="#00a97d"/><stop offset="0.4625" stop-color="#00a773"/><stop offset="0.4663" stop-color="#00a773"/><stop offset="0.4700" stop-color="#00a55d"/><stop offset="0.4719" stop-color="#00a55d"/><stop offset="0.4738" stop-color="#00a353"/><stop offset="0.4850" stop-color="#00a353"/><stop offset="0.4869" stop-color="#00a248"/><stop offset="0.5000" stop-color="#00a248"/><stop offset="0.5037" stop-color="#009f33"/><stop offset="0.5056" stop-color="#009f33"/><stop offset="0.5075" stop-color="#009e28"/><stop offset="0.5169" stop-color="#009e28"/><stop offset="0.5206" stop-color="#009b13"/><stop offset="0.5262" stop-color="#009b13"/><stop offset="0.5318" stop-color="#009f33"/><stop offset="0.5412" stop-color="#009f33"/><stop offset="0.5431" stop-color="#00a13d"/><stop offset="0.5449" stop-color="#00a13d"/><stop offset="0.5487" stop-color="#00a353"/><stop offset="0.5524" stop-color="#00a353"/><stop offset="0.5543" stop-color="#00a248"/><stop offset="0.5581" stop-color="#00a248"/><stop offset="0.5618" stop-color="#00a55d"/><stop offset="0.5637" stop-color="#00a773"/><stop offset="0.5674" stop-color="#00aa88"/><stop offset="0.5880" stop-color="#00aaa0"/><stop offset="0.6067" stop-color="#00aaab"/><stop offset="0.6124" stop-color="#00a6b7"/><stop offset="0.6199" stop-color="#009fcb"/><stop offset="0.6292" stop-color="#0092dd"/><stop offset="0.6386" stop-color="#0078dd"/><stop offset="0.6423" stop-color="#005ddd"/><stop offset="0.6592" stop-color="#0009dd"/><stop offset="0.6667" stop-color="#0000dd"/><stop offset="0.7210" stop-color="#0000bd"/><stop offset="0.7434" stop-color="#0000b9"/><stop offset="0.7453" stop-color="#00aa93"/><stop offset="0.7509" stop-color="#00aa93"/><stop offset="0.7528" stop-color="#0000b9"/><stop offset="0.7584" stop-color="#0000b9"/><stop offset="0.7603" stop-color="#007add"/><stop offset="0.7772" stop-color="#0078dd"/><stop offset="0.7790" stop-color="#0000c9"/><stop offset="0.7828" stop-color="#0000c9"/><stop offset="0.7846" stop-color="#00aa9b"/><stop offset="0.7884" stop-color="#00aa9b"/><stop offset="0.7903" stop-color="#0000d5"/><stop offset="0.7959" stop-color="#0000d5"/><stop offset="0.7978" stop-color="#00aa88"/><stop offset="0.8052" stop-color="#00aa88"/><stop offset="0.8071" stop-color="#0000dd"/><stop offset="0.8109" stop-color="#0000dd"/><stop offset="0.8127" stop-color="#0078dd"/><stop offset="0.8146" stop-color="#0078dd"/><stop offset="0.8165" stop-color="#0000bd"/><stop offset="0.8184" stop-color="#0000bd"/><stop offset="0.8202" stop-color="#0078dd"/><stop offset="0.8221" stop-color="#0078dd"/><stop offset="0.8240" stop-color="#0000b1"/><stop offset="0.8258" stop-color="#0000b1"/><stop offset="0.8277" stop-color="#870098"/><stop offset="0.9101" stop-color="#79008a"/><stop offset="0.9157" stop-color="#700080"/><stop offset="0.9195" stop-color="#5d006b"/><stop offset="0.9213" stop-color="#5d006b"/><stop offset="0.9251" stop-color="#4b0055"/><stop offset="0.9270" stop-color="#4b0055"/><stop offset="0.9288" stop-color="#41004b"/><stop offset="0.9307" stop-color="#41004b"/><stop offset="0.9345" stop-color="#2f0035"/><stop offset="0.9363" stop-color="#2f0035"/><stop offset="0.9401" stop-color="#1c0020"/><stop offset="0.9419" stop-color="#1c0020"/><stop offset="0.9438" stop-color="#130015"/><stop offset="0.9457" stop-color="#130015"/><stop offset="0.9476" stop-color="#09000b"/><stop offset="0.9513" stop-color="#09000b"/><stop offset="0.9532" stop-color="#000000"/><stop offset="1.0000" stop-color="#000000"/></linearGradient>
<linearGradient id="g0_18" gradientUnits="userSpaceOnUse" x1="48" x2="315" y1="0" y2="0"><stop offset="0.0000" stop-color="#0000bd"/><stop offset="0.0019" stop-color="#0000bd"/><stop offset="0.0037" stop-color="#25002b"/><stop offset="0.0674" stop-color="#25002b"/><stop offset="0.0693" stop-color="#1c0020"/><stop offset="0.1629" stop-color="#1c0020"/><stop offset="0.1648" stop-color="#25002b"/><stop offset="0.1816" stop-color="#25002b"/><stop offset="0.1835" stop-color="#2f0035"/><stop offset="0.1854" stop-color="#2f0035"/><stop offset="0.1873" stop-color="#380040"/><stop offset="0.1929" stop-color="#380040"/><stop offset="0.1966" stop-color="#4b0055"/><stop offset="0.1985" stop-color="#4b0055"/><stop offset="0.2079" stop-color="#770088"/><stop offset="0.2285" stop-color="#870098"/><stop offset="0.2303" stop-color="#58009f"/><stop offset="0.2322" stop-color="#1800a7"/><stop offset="0.2341" stop-color="#0000bd"/><stop offset="0.2378" stop-color="#0000d9"/><stop offset="0.2472" stop-color="#0000dd"/><stop offset="0.2509" stop-color="#0009dd"/><stop offset="0.2622" stop-color="#0025dd"/><stop offset="0.2697" stop-color="#0054dd"/><stop offset="0.2734" stop-color="#0067dd"/><stop offset="0.2828" stop-color="#007add"/><stop offset="0.2846" stop-color="#00a773"/><stop offset="0.3071" stop-color="#00a773"/><stop offset="0.3090" stop-color="#0098dd"/><stop offset="0.3202" stop-color="#009cd3"/><stop offset="0.3446" stop-color="#00a2c3"/><stop offset="0.3633" stop-color="#00a6b7"/><stop offset="0.3745" stop-color="#00aaa8"/><stop offset="0.3876" stop-color="#00aaa5"/><stop offset="0.4176" stop-color="#00aa9b"/><stop offset="0.4195" stop-color="#009f00"/><stop offset="0.4213" stop-color="#009f00"/><stop offset="0.4232" stop-color="#00aa95"/><stop offset="0.4532" stop-color="#00aa88"/><stop offset="0.4569" stop-color="#00a773"/><stop offset="0.4625" stop-color="#00a773"/><stop offset="0.4644" stop-color="#00a668"/><stop offset="0.4663" stop-color="#00a668"/><stop offset="0.4682" stop-color="#00a55d"/><stop offset="0.4700" stop-color="#00a55d"/><stop offset="0.4738" stop-color="#00a248"/><stop offset="0.4775" stop-color="#00a248"/><stop offset="0.4794" stop-color="#00a353"/><stop offset="0.4831" stop-color="#00a353"/><stop offset="0.4850" stop-color="#00a248"/><stop offset="0.4869" stop-color="#00a248"/><stop offset="0.4888" stop-color="#00a13d"/><stop offset="0.4963" stop-color="#00a13d"/><stop offset="0.4981" stop-color="#00a248"/><stop offset="0.5000" stop-color="#00a13d"/><stop offset="0.5019" stop-color="#00a13d"/><stop offset="0.5075" stop-color="#009d1d"/><stop offset="0.5169" stop-color="#009d1d"/><stop offset="0.5187" stop-color="#009b13"/><stop offset="0.5206" stop-color="#009b13"/><stop offset="0.5225" stop-color="#009a08"/><stop offset="0.5243" stop-color="#009a08"/><stop offset="0.5262" stop-color="#009b13"/><stop offset="0.5281" stop-color="#009b13"/><stop offset="0.5318" stop-color="#009e28"/><stop offset="0.5412" stop-color="#009e28"/><stop offset="0.5431" stop-color="#009f33"/><stop offset="0.5449" stop-color="#009f33"/><stop offset="0.5487" stop-color="#00a248"/><stop offset="0.5543" stop-color="#00a248"/><stop offset="0.5562" stop-color="#00a13d"/><stop offset="0.5581" stop-color="#00a248"/><stop offset="0.5599" stop-color="#00a248"/><stop offset="0.5618" stop-color="#00a55d"/><stop offset="0.5693" stop-color="#00aa88"/><stop offset="0.5880" stop-color="#00aa9d"/><stop offset="0.6105" stop-color="#00aaab"/><stop offset="0.6199" stop-color="#009fcb"/><stop offset="0.6311" stop-color="#0090dd"/><stop offset="0.6404" stop-color="#0070dd"/><stop offset="0.6610" stop-color="#0009dd"/><stop offset="0.6648" stop-color="#0009dd"/><stop offset="0.6685" stop-color="#0000dd"/><stop offset="0.7210" stop-color="#0000c1"/><stop offset="0.7434" stop-color="#0000b9"/><stop offset="0.7453" stop-color="#00aa90"/><stop offset="0.7509" stop-color="#00aa90"/><stop offset="0.7528" stop-color="#0000b9"/><stop offset="0.7584" stop-color="#0000b9"/><stop offset="0.7603" stop-color="#007add"/><stop offset="0.7772" stop-color="#007add"/><stop offset="0.7790" stop-color="#0000cd"/><stop offset="0.7828" stop-color="#0000cd"/><stop offset="0.7846" stop-color="#00aa9b"/><stop offset="0.7884" stop-color="#00aa9b"/><stop offset="0.7903" stop-color="#0000d5"/><stop offset="0.7959" stop-color="#0000d5"/><stop offset="0.7978" stop-color="#00a97d"/><stop offset="0.8052" stop-color="#00a97d"/><stop offset="0.8071" stop-color="#0009dd"/><stop offset="0.8109" stop-color="#0000dd"/><stop offset="0.8127" stop-color="#0078dd"/><stop offset="0.8146" stop-color="#0078dd"/><stop offset="0.8165" stop-color="#0000c1"/><stop offset="0.8184" stop-color="#0000c1"/><stop offset="0.8202" stop-color="#0078dd"/><stop offset="0.8221" stop-color="#0078dd"/><stop offset="0.8240" stop-color="#0000b5"/><stop offset="0.8258" stop-color="#0000b5"/><stop offset="0.8277" stop-color="#870098"/><stop offset="0.9101" stop-color="#79008a"/><stop offset="0.9157" stop-color="#700080"/><stop offset="0.9195" stop-color="#5d006b"/><stop offset="0.9213" stop-color="#5d006b"/><stop offset="0.9232" stop-color="#540060"/><stop offset="0.9251" stop-color="#540060"/><stop offset="0.9288" stop-color="#41004b"/><stop offset="0.9307" stop-color="#41004b"/><stop offset="0.9345" stop-color="#2f0035"/><stop offset="0.9363" stop-color="#2f0035"/><stop offset="0.9401" stop-color="#1c0020"/><stop offset="0.9419" stop-color="#1c0020"/><stop offset="0.9438" stop-color="#130015"/><stop offset="0.9476" stop-color="#130015"/><stop offset="0.9494" stop-color="#09000b"/><stop offset="0.9532" stop-color="#09000b"/><stop offset="0.9551" stop-color="#000000"/><stop offset="1.0000" stop-color="#000000"/></linearGradient>
<linearGradient id="g0_19" gradientUnits="userSpaceOnUse" x1="48" x2="315" y1="0" y2="0"><stop offset="0.0000" stop-color="#0000bd"/><stop offset="0.0019" stop-color="#0000bd"/><stop offset="0.0037" stop-color="#25002b"/><stop offset="0.0562" stop-color="#25002b"/><stop offset="0.0581" stop-color="#1c0020"/><stop offset="0.2060" stop-color="#1c0020"/><stop offset="0.2079" stop-color="#25002b"/><stop offset="0.2097" stop-color="#25002b"/><stop offset="0.2116" stop-color="#2f0035"/><stop offset="0.2154" stop-color="#2f0035"/><stop offset="0.2172" stop-color="#380040"/><stop offset="0.9082" stop-color="#380040"/><stop offset="0.9101" stop-color="#2f0035"/><stop offset="0.9139" stop-color="#2f0035"/><stop offset="0.9157" stop-color="#25002b"/><stop offset="0.9195" stop-color="#25002b"/><stop offset="0.9213" stop-color="#1c0020"/><stop offset="0.9270" stop-color="#1c0020"/><stop offset="0.9288" stop-color="#130015"/><stop offset="0.9326" stop-color="#130015"/><stop offset="0.9345" stop-color="#09000b"/><stop offset="0.9794" stop-color="#09000b"/><stop offset="0.9813" stop-color="#000000"/><stop offset="1.0000" stop-color="#000000"/></linearGradient>
<linearGradient id="g0_20" gradientUnits="userSpaceOnUse" x1="48" x2="315" y1="0" y2="0"><stop offset="0.0000" stop-color="#0000dd"/><stop offset="0.0019" stop-color="#0000dd"/><stop offset="0.0037" stop-color="#25002b"/><stop offset="0.0674" stop-color="#25002b"/><stop offset="0.0693" stop-color="#1c0020"/><stop offset="0.1648" stop-color="#1c0020"/><stop offset="0.1742" stop-color="#4b0055"/><stop offset="0.1760" stop-color="#670075"/><stop offset="0.1779" stop-color="#770088"/><stop offset="0.1948" stop-color="#870098"/><stop offset="0.1985" stop-color="#83009a"/><stop offset="0.2004" stop-color="#3800a3"/><stop offset="0.2022" stop-color="#0000b1"/><stop offset="0.2060" stop-color="#0000dd"/><stop offset="0.2097" stop-color="#0041dd"/><stop offset="0.2116" stop-color="#0070dd"/><stop offset="0.2135" stop-color="#0085dd"/><stop offset="0.2228" stop-color="#009adb"/><stop offset="0.2266" stop-color="#009fcb"/><stop offset="0.2285" stop-color="#00a8af"/><stop offset="0.2322" stop-color="#00aa8d"/><stop offset="0.2341" stop-color="#00a248"/><stop offset="0.2360" stop-color="#009b13"/><stop offset="0.2378" stop-color="#009f00"/><stop offset="0.2622" stop-color="#00c400"/><stop offset="0.2753" stop-color="#00da00"/><stop offset="0.2921" stop-color="#00e700"/><stop offset="0.2978" stop-color="#00e400"/><stop offset="0.2996" stop-color="#75ff00"/><stop offset="0.3015" stop-color="#00ea00"/><stop offset="0.3202" stop-color="#00f400"/><stop offset="0.3427" stop-color="#00ff00"/><stop offset="0.3521" stop-color="#00fc00"/><stop offset="0.3689" stop-color="#00ff00"/><stop offset="0.3708" stop-color="#0fff00"/><stop offset="0.3727" stop-color="#0fff00"/><stop offset="0.3745" stop-color="#67ff00"/><stop offset="0.3764" stop-color="#0fff00"/><stop offset="0.3783" stop-color="#00ff00"/><stop offset="0.3839" stop-color="#00ff00"/><stop offset="0.3858" stop-color="#0fff00"/><stop offset="0.3914" stop-color="#0fff00"/><stop offset="0.3933" stop-color="#00ff00"/><stop offset="0.4045" stop-color="#00ff00"/><stop offset="0.4064" stop-color="#0fff00"/><stop offset="0.4082" stop-color="#00ff00"/><stop offset="0.4176" stop-color="#00ff00"/><stop offset="0.4195" stop-color="#ccf900"/><stop offset="0.4251" stop-color="#ccf900"/><stop offset="0.4270" stop-color="#0fff00"/><stop offset="0.4288" stop-color="#00ff00"/><stop offset="0.4363" stop-color="#00ff00"/><stop offset="0.4382" stop-color="#0fff00"/><stop offset="0.4401" stop-color="#0fff00"/><stop offset="0.4419" stop-color="#00ff00"/><stop offset="0.4551" stop-color="#00ff00"/><stop offset="0.4569" stop-color="#0fff00"/><stop offset="0.4588" stop-color="#0fff00"/><stop offset="0.4607" stop-color="#00ff00"/><stop offset="0.4682" stop-color="#00ff00"/><stop offset="0.4700" stop-color="#0fff00"/><stop offset="0.4757" stop-color="#0fff00"/><stop offset="0.4775" stop-color="#00ff00"/><stop offset="0.5037" stop-color="#00fc00"/><stop offset="0.5225" stop-color="#00ff00"/><stop offset="0.5243" stop-color="#0fff00"/><stop offset="0.5262" stop-color="#00ff00"/><stop offset="0.5506" stop-color="#00f400"/><stop offset="0.5805" stop-color="#00e200"/><stop offset="0.5936" stop-color="#00dc00"/><stop offset="0.6067" stop-color="#00cf00"/><stop offset="0.6273" stop-color="#00b700"/><stop offset="0.6367" stop-color="#00a200"/><stop offset="0.6442" stop-color="#009c00"/><stop offset="0.6461" stop-color="#009a08"/><stop offset="0.6479" stop-color="#00a55d"/><stop offset="0.6536" stop-color="#00a97d"/><stop offset="0.6573" stop-color="#00a97d"/><stop offset="0.6592" stop-color="#00aa88"/><stop offset="0.6891" stop-color="#00aa9d"/><stop offset="0.7116" stop-color="#00aaa8"/><stop offset="0.7360" stop-color="#0098dd"/><stop offset="0.7416" stop-color="#008ddd"/><stop offset="0.7434" stop-color="#009e28"/><stop offset="0.7491" stop-color="#009e28"/><stop offset="0.7509" stop-color="#008add"/><stop offset="0.7547" stop-color="#008add"/><stop offset="0.7566" stop-color="#00a7b3"/><stop offset="0.7603" stop-color="#00a7b3"/><stop offset="0.7622" stop-color="#008add"/><stop offset="0.7828" stop-color="#0088dd"/><stop offset="0.7846" stop-color="#00aa9d"/><stop offset="0.7884" stop-color="#00aa9d"/><stop offset="0.7903" stop-color="#0088dd"/><stop offset="0.7978" stop-color="#0088dd"/><stop offset="0.7996" stop-color="#00a353"/><stop offset="0.8015" stop-color="#00a353"/><stop offset="0.8034" stop-color="#00a55d"/><stop offset="0.8052" stop-color="#00a55d"/><stop offset="0.8071" stop-color="#0078dd"/><stop offset="0.8127" stop-color="#0078dd"/><stop offset="0.8146" stop-color="#0095dd"/><stop offset="0.8165" stop-color="#0078dd"/><stop offset="0.8202" stop-color="#0078dd"/><stop offset="0.8221" stop-color="#00a0c7"/><stop offset="0.8258" stop-color="#009fcb"/><stop offset="0.8277" stop-color="#0000d1"/><stop offset="0.8783" stop-color="#0000c9"/><stop offset="0.8951" stop-color="#0300aa"/><stop offset="0.8970" stop-color="#0d00a8"/><stop offset="0.9007" stop-color="#3800a3"/><stop offset="0.9026" stop-color="#58009f"/><stop offset="0.9045" stop-color="#6d009c"/><stop offset="0.9101" stop-color="#870098"/><stop offset="0.9270" stop-color="#770088"/><stop offset="0.9307" stop-color="#5d006b"/><stop offset="0.9326" stop-color="#540060"/><stop offset="0.9345" stop-color="#41004b"/><stop offset="0.9401" stop-color="#25002b"/><stop offset="0.9438" stop-color="#25002b"/><stop offset="0.9457" stop-color="#1c0020"/><stop offset="0.9494" stop-color="#1c0020"/><stop offset="0.9513" stop-color="#130015"/><stop offset="0.9569" stop-color="#130015"/><stop offset="0.9588" stop-color="#09000b"/><stop offset="0.9663" stop-color="#09000b"/><stop offset="0.9682" stop-color="#000000"/><stop offset="1.0000" stop-color="#000000"/></linearGradient>
<linearGradient id="g0_21" gradientUnits="userSpaceOnUse" x1="48" x2="315" y1="0" y2="0"><stop offset="0.0000" stop-color="#0098dd"/><stop offset="0.0019" stop-color="#0098dd"/><stop offset="0.0037" stop-color="#25002b"/><stop offset="0.0674" stop-color="#25002b"/><stop offset="0.0693" stop-color="#1c0020"/><stop offset="0.1648" stop-color="#1c0020"/><stop offset="0.1742" stop-color="#4b0055"/><stop offset="0.1760" stop-color="#670075"/><stop offset="0.1779" stop-color="#770088"/><stop offset="0.1948" stop-color="#870098"/><stop offset="0.1985" stop-color="#83009a"/><stop offset="0.2004" stop-color="#3800a3"/><stop offset="0.2022" stop-color="#0000b1"/><stop offset="0.2060" stop-color="#0000dd"/><stop offset="0.2097" stop-color="#0041dd"/><stop offset="0.2116" stop-color="#0070dd"/><stop offset="0.2135" stop-color="#0085dd"/><stop offset="0.2228" stop-color="#009adb"/><stop offset="0.2266" stop-color="#009fcb"/><stop offset="0.2285" stop-color="#00a8af"/><stop offset="0.2322" stop-color="#00aa8d"/><stop offset="0.2341" stop-color="#00a248"/><stop offset="0.2360" stop-color="#009b13"/><stop offset="0.2378" stop-color="#009f00"/><stop offset="0.2622" stop-color="#00c400"/><stop offset="0.2753" stop-color="#00da00"/><stop offset="0.2921" stop-color="#00e700"/><stop offset="0.3184" stop-color="#00f200"/><stop offset="0.3427" stop-color="#00ff00"/><stop offset="0.3521" stop-color="#00fc00"/><stop offset="0.3689" stop-color="#00ff00"/><stop offset="0.3708" stop-color="#0fff00"/><stop offset="0.3764" stop-color="#0fff00"/><stop offset="0.3783" stop-color="#00ff00"/><stop offset="0.3839" stop-color="#00ff00"/><stop offset="0.3858" stop-color="#0fff00"/><stop offset="0.3914" stop-color="#0fff00"/><stop offset="0.3933" stop-color="#00ff00"/><stop offset="0.4045" stop-color="#00ff00"/><stop offset="0.4064" stop-color="#0fff00"/><stop offset="0.4082" stop-color="#00ff00"/><stop offset="0.4176" stop-color="#00ff00"/><stop offset="0.4195" stop-color="#0fff00"/><stop offset="0.4213" stop-color="#0fff00"/><stop offset="0.4232" stop-color="#1dff00"/><stop offset="0.4251" stop-color="#0fff00"/><stop offset="0.4270" stop-color="#0fff00"/><stop offset="0.4288" stop-color="#00ff00"/><stop offset="0.4363" stop-color="#00ff00"/><stop offset="0.4382" stop-color="#0fff00"/><stop offset="0.4401" stop-color="#0fff00"/><stop offset="0.4419" stop-color="#00ff00"/><stop offset="0.4551" stop-color="#00ff00"/><stop offset="0.4569" stop-color="#0fff00"/><stop offset="0.4588" stop-color="#0fff00"/><stop offset="0.4607" stop-color="#00ff00"/><stop offset="0.4682" stop-color="#00ff00"/><stop offset="0.4700" stop-color="#0fff00"/><stop offset="0.4757" stop-color="#0fff00"/><stop offset="0.4775" stop-color="#00ff00"/><stop offset="0.5037" stop-color="#00fc00"/><stop offset="0.5225" stop-color="#00ff00"/><stop offset="0.5243" stop-color="#0fff00"/><stop offset="0.5262" stop-color="#00ff00"/><stop offset="0.5506" stop-color="#00f400"/><stop offset="0.5805" stop-color="#00e200"/><stop offset="0.5936" stop-color="#00dc00"/><stop offset="0.6067" stop-color="#00cf00"/><stop offset="0.6273" stop-color="#00b700"/><stop offset="0.6367" stop-color="#00a200"/><stop offset="0.6442" stop-color="#009c00"/><stop offset="0.6461" stop-color="#009a08"/><stop offset="0.6479" stop-color="#00a55d"/><stop offset="0.6536" stop-color="#00a97d"/><stop offset="0.6573" stop-color="#00a97d"/><stop offset="0.6592" stop-color="#00aa88"/><stop offset="0.6891" stop-color="#00aa9d"/><stop offset="0.7116" stop-color="#00aaa8"/><stop offset="0.7360" stop-color="#0098dd"/><stop offset="0.7416" stop-color="#008ddd"/><stop offset="0.7434" stop-color="#009e28"/><stop offset="0.7491" stop-color="#009e28"/><stop offset="0.7509" stop-color="#008add"/><stop offset="0.7547" stop-color="#008add"/><stop offset="0.7566" stop-color="#00a7b3"/><stop offset="0.7603" stop-color="#00a7b3"/><stop offset="0.7622" stop-color="#008add"/><stop offset="0.7828" stop-color="#0088dd"/><stop offset="0.7846" stop-color="#00aa9d"/><stop offset="0.7884" stop-color="#00aa9d"/><stop offset="0.7903" stop-color="#0088dd"/><stop offset="0.7978" stop-color="#0088dd"/><stop offset="0.7996" stop-color="#00a353"/><stop offset="0.8015" stop-color="#00a353"/><stop offset="0.8034" stop-color="#00a55d"/><stop offset="0.8052" stop-color="#00a55d"/><stop offset="0.8071" stop-color="#0078dd"/><stop offset="0.8127" stop-color="#0078dd"/><stop offset="0.8146" stop-color="#0095dd"/><stop offset="0.8165" stop-color="#0078dd"/><stop offset="0.8202" stop-color="#0078dd"/><stop offset="0.8221" stop-color="#00a0c7"/><stop offset="0.8258" stop-color="#009fcb"/><stop offset="0.8277" stop-color="#0000d1"/><stop offset="0.8783" stop-color="#0000c9"/><stop offset="0.8951" stop-color="#0300aa"/><stop offset="0.8970" stop-color="#0d00a8"/><stop offset="0.9007" stop-color="#3800a3"/><stop offset="0.9026" stop-color="#58009f"/><stop offset="0.9045" stop-color="#6d009c"/><stop offset="0.9101" stop-color="#870098"/><stop offset="0.9270" stop-color="#770088"/><stop offset="0.9307" stop-color="#5d006b"/><stop offset="0.9326" stop-color="#540060"/><stop offset="0.9345" stop-color="#41004b"/><stop offset="0.9401" stop-color="#25002b"/><stop offset="0.9438" stop-color="#25002b"/><stop offset="0.9457" stop-color="#1c0020"/><stop offset="0.9494" stop-color="#1c0020"/><stop offset="0.9513" stop-color="#130015"/><stop offset="0.9569" stop-color="#130015"/><stop offset="0.9588" stop-color="#09000b"/><stop offset="0.9663" stop-color="#09000b"/><stop offset="0.9682" stop-color="#000000"/><stop offset="1.0000" stop-color="#000000"/></linearGradient>
<linearGradient id="g1_0" gradientUnits="userSpaceOnUse" x1="328" x2="595" y1="0" y2="0"><stop offset="0.0000" stop-color="#009cd3"/><stop offset="0.0019" stop-color="#009cd3"/><stop offset="0.0037" stop-color="#25002b"/><stop offset="0.1648" stop-color="#25002b"/><stop offset="0.1723" stop-color="#4b0055"/><stop offset="0.1742" stop-color="#4b0055"/><stop offset="0.1760" stop-color="#670075"/><stop offset="0.1779" stop-color="#770088"/><stop offset="0.1948" stop-color="#870098"/><stop offset="0.1985" stop-color="#83009a"/><stop offset="0.2004" stop-color="#3800a3"/><stop offset="0.2022" stop-color="#0000b1"/><stop offset="0.2060" stop-color="#0000dd"/><stop offset="0.2097" stop-color="#0041dd"/><stop offset="0.2116" stop-color="#0070dd"/><stop offset="0.2135" stop-color="#0085dd"/><stop offset="0.2228" stop-color="#009adb"/><stop offset="0.2266" stop-color="#009fcb"/><stop offset="0.2285" stop-color="#00a8af"/><stop offset="0.2322" stop-color="#00aa8d"/><stop offset="0.2341" stop-color="#00a248"/><stop offset="0.2360" stop-color="#009b13"/><stop offset="0.2378" stop-color="#009f00"/><stop offset="0.2528" stop-color="#00af00"/><stop offset="0.2659" stop-color="#00bf00"/><stop offset="0.2753" stop-color="#00d200"/><stop offset="0.2921" stop-color="#00df00"/><stop offset="0.3090" stop-color="#00e700"/><stop offset="0.3296" stop-color="#00ef00"/><stop offset="0.3464" stop-color="#00f200"/><stop offset="0.3783" stop-color="#00fa00"/><stop offset="0.4045" stop-color="#00f700"/><stop offset="0.4213" stop-color="#00fa00"/><stop offset="0.4700" stop-color="#00f700"/><stop offset="0.4981" stop-color="#00ef00"/><stop offset="0.5281" stop-color="#00dc00"/><stop offset="0.5524" stop-color="#00c400"/><stop offset="0.5824" stop-color="#00b400"/><stop offset="0.5936" stop-color="#00b200"/><stop offset="0.6030" stop-color="#00a700"/><stop offset="0.6161" stop-color="#009a00"/><stop offset="0.6199" stop-color="#009a08"/><stop offset="0.6217" stop-color="#009a08"/><stop offset="0.6236" stop-color="#009b13"/><stop offset="0.6255" stop-color="#009b13"/><stop offset="0.6273" stop-color="#009e28"/><stop offset="0.6292" stop-color="#009f33"/><stop offset="0.6311" stop-color="#00a248"/><stop offset="0.6348" stop-color="#00a55d"/><stop offset="0.6367" stop-color="#00a55d"/><stop offset="0.6386" stop-color="#00a668"/><stop offset="0.6404" stop-color="#00a668"/><stop offset="0.6423" stop-color="#00a773"/><stop offset="0.6442" stop-color="#00aa88"/><stop offset="0.6854" stop-color="#00aaab"/><stop offset="0.7228" stop-color="#0095dd"/><stop offset="0.7434" stop-color="#0088dd"/><stop offset="0.7453" stop-color="#009d1d"/><stop offset="0.7491" stop-color="#009d1d"/><stop offset="0.7509" stop-color="#0088dd"/><stop offset="0.7547" stop-color="#0088dd"/><stop offset="0.7566" stop-color="#00aaa5"/><stop offset="0.7640" stop-color="#00aaa5"/><stop offset="0.7659" stop-color="#009cd3"/><stop offset="0.7734" stop-color="#009bd7"/><stop offset="0.7753" stop-color="#00aaab"/><stop offset="0.7809" stop-color="#00aaab"/><stop offset="0.7828" stop-color="#0085dd"/><stop offset="0.7959" stop-color="#0085dd"/><stop offset="0.7978" stop-color="#00aa90"/><stop offset="0.8052" stop-color="#00aa93"/><stop offset="0.8071" stop-color="#0038dd"/><stop offset="0.8127" stop-color="#0038dd"/><stop offset="0.8146" stop-color="#0085dd"/><stop offset="0.8202" stop-color="#0085dd"/><stop offset="0.8221" stop-color="#0013dd"/><stop offset="0.8258" stop-color="#0013dd"/><stop offset="0.8277" stop-color="#0085dd"/><stop offset="0.8296" stop-color="#0000d1"/><stop offset="0.8633" stop-color="#0000c5"/><stop offset="0.8801" stop-color="#0300aa"/><stop offset="0.8820" stop-color="#0d00a8"/><stop offset="0.8839" stop-color="#2300a6"/><stop offset="0.8876" stop-color="#3800a3"/><stop offset="0.8895" stop-color="#4d00a0"/><stop offset="0.8914" stop-color="#58009f"/><stop offset="0.8933" stop-color="#6d009c"/><stop offset="0.8970" stop-color="#870098"/><stop offset="0.9213" stop-color="#770088"/><stop offset="0.9270" stop-color="#5d006b"/><stop offset="0.9288" stop-color="#4b0055"/><stop offset="0.9345" stop-color="#2f0035"/><stop offset="0.9363" stop-color="#1c0020"/><stop offset="0.9382" stop-color="#1c0020"/><stop offset="0.9419" stop-color="#09000b"/><stop offset="0.9438" stop-color="#09000b"/><stop offset="0.9457" stop-color="#000000"/><stop offset="1.0000" stop-color="#000000"/></linearGradient>
<linearGradient id="g1_2" gradientUnits="userSpaceOnUse" x1="328" x2="595" y1="0" y2="0"><stop offset="0.0000" stop-color="#009cd3"/><stop offset="0.0019" stop-color="#009cd3"/><stop offset="0.0037" stop-color="#25002b"/><stop offset="0.0225" stop-color="#25002b"/><stop offset="0.0243" stop-color="#2f0035"/><stop offset="0.0487" stop-color="#2f0035"/><stop offset="0.0506" stop-color="#25002b"/><stop offset="0.2191" stop-color="#25002b"/><stop offset="0.2210" stop-color="#2f0035"/><stop offset="0.2397" stop-color="#2f0035"/><stop offset="0.2416" stop-color="#380040"/><stop offset="0.2659" stop-color="#380040"/><stop offset="0.2678" stop-color="#41004b"/><stop offset="0.3221" stop-color="#41004b"/><stop offset="0.3240" stop-color="#4b0055"/><stop offset="0.8577" stop-color="#4b0055"/><stop offset="0.8614" stop-color="#380040"/><stop offset="0.8633" stop-color="#380040"/><stop offset="0.8652" stop-color="#2f0035"/><stop offset="0.8764" stop-color="#2f0035"/><stop offset="0.8783" stop-color="#25002b"/><stop offset="0.9195" stop-color="#25002b"/><stop offset="0.9213" stop-color="#1c0020"/><stop offset="0.9251" stop-color="#1c0020"/><stop offset="0.9270" stop-color="#130015"/><stop offset="0.9307" stop-color="#130015"/><stop offset="0.9326" stop-color="#09000b"/><stop offset="0.9363" stop-color="#09000b"/><stop offset="0.9382" stop-color="#000000"/><stop offset="1.0000" stop-color="#000000"/></linearGradient>
<linearGradient id="g1_3" gradientUnits="userSpaceOnUse" x1="328" x2="595" y1="0" y2="0"><stop offset="0.0000" stop-color="#009cd3"/><stop offset="0.0019" stop-color="#009cd3"/><stop offset="0.0037" stop-color="#25002b"/><stop offset="0.1330" stop-color="#25002b"/><stop offset="0.1348" stop-color="#1c0020"/><stop offset="0.1479" stop-color="#1c0020"/><stop offset="0.1498" stop-color="#25002b"/><stop offset="0.1816" stop-color="#25002b"/><stop offset="0.1835" stop-color="#2f0035"/><stop offset="0.1854" stop-color="#2f0035"/><stop offset="0.1873" stop-color="#380040"/><stop offset="0.1929" stop-color="#380040"/><stop offset="0.1966" stop-color="#4b0055"/><stop offset="0.1985" stop-color="#4b0055"/><stop offset="0.2079" stop-color="#770088"/><stop offset="0.2285" stop-color="#870098"/><stop offset="0.2303" stop-color="#58009f"/><stop offset="0.2322" stop-color="#1800a7"/><stop offset="0.2341" stop-color="#0000bd"/><stop offset="0.2378" stop-color="#0000d9"/><stop offset="0.2453" stop-color="#0000dd"/><stop offset="0.2603" stop-color="#0025dd"/><stop offset="0.2678" stop-color="#0038dd"/><stop offset="0.2753" stop-color="#0054dd"/><stop offset="0.2828" stop-color="#0078dd"/><stop offset="0.3165" stop-color="#0098dd"/><stop offset="0.3258" stop-color="#009ecf"/><stop offset="0.3446" stop-color="#00a0c7"/><stop offset="0.3521" stop-color="#00a0c7"/><stop offset="0.3670" stop-color="#00a2c3"/><stop offset="0.3783" stop-color="#00a6b7"/><stop offset="0.3933" stop-color="#00aaab"/><stop offset="0.4195" stop-color="#00aa9b"/><stop offset="0.4476" stop-color="#00aa88"/><stop offset="0.4494" stop-color="#00aa88"/><stop offset="0.4551" stop-color="#00a668"/><stop offset="0.4569" stop-color="#00a668"/><stop offset="0.4588" stop-color="#00a55d"/><stop offset="0.4607" stop-color="#00a668"/><stop offset="0.4644" stop-color="#00a668"/><stop offset="0.4663" stop-color="#00a55d"/><stop offset="0.4682" stop-color="#00a55d"/><stop offset="0.4700" stop-color="#00a353"/><stop offset="0.4719" stop-color="#00a353"/><stop offset="0.4738" stop-color="#00a248"/><stop offset="0.4757" stop-color="#00a248"/><stop offset="0.4775" stop-color="#00a353"/><stop offset="0.4831" stop-color="#00a353"/><stop offset="0.4869" stop-color="#00a13d"/><stop offset="0.4888" stop-color="#00a13d"/><stop offset="0.4906" stop-color="#009f33"/><stop offset="0.4944" stop-color="#009f33"/><stop offset="0.4963" stop-color="#00a13d"/><stop offset="0.4981" stop-color="#00a13d"/><stop offset="0.5019" stop-color="#009e28"/><stop offset="0.5037" stop-color="#009e28"/><stop offset="0.5075" stop-color="#009b13"/><stop offset="0.5112" stop-color="#009b13"/><stop offset="0.5131" stop-color="#009a08"/><stop offset="0.5243" stop-color="#009a08"/><stop offset="0.5318" stop-color="#009f33"/><stop offset="0.5393" stop-color="#009f33"/><stop offset="0.5412" stop-color="#00a13d"/><stop offset="0.5431" stop-color="#00a13d"/><stop offset="0.5487" stop-color="#00a55d"/><stop offset="0.5581" stop-color="#00a55d"/><stop offset="0.5599" stop-color="#00a668"/><stop offset="0.5618" stop-color="#00a668"/><stop offset="0.5674" stop-color="#00aa88"/><stop offset="0.5805" stop-color="#00aa90"/><stop offset="0.6011" stop-color="#00aaab"/><stop offset="0.6161" stop-color="#009adb"/><stop offset="0.6311" stop-color="#007add"/><stop offset="0.6423" stop-color="#0041dd"/><stop offset="0.6461" stop-color="#0025dd"/><stop offset="0.6536" stop-color="#001cdd"/><stop offset="0.6592" stop-color="#001cdd"/><stop offset="0.6629" stop-color="#0013dd"/><stop offset="0.6704" stop-color="#0009dd"/><stop offset="0.6742" stop-color="#0000dd"/><stop offset="0.7172" stop-color="#0000b9"/><stop offset="0.7303" stop-color="#0300aa"/><stop offset="0.7322" stop-color="#0300aa"/><stop offset="0.7341" stop-color="#0d00a8"/><stop offset="0.7378" stop-color="#0d00a8"/><stop offset="0.7397" stop-color="#1800a7"/><stop offset="0.7416" stop-color="#1800a7"/><stop offset="0.7434" stop-color="#009b13"/><stop offset="0.7491" stop-color="#009b13"/><stop offset="0.7509" stop-color="#0092dd"/><stop offset="0.7547" stop-color="#0092dd"/><stop offset="0.7566" stop-color="#0000dd"/><stop offset="0.7584" stop-color="#0000dd"/><stop offset="0.7603" stop-color="#00aa88"/><stop offset="0.7809" stop-color="#00aa88"/><stop offset="0.7828" stop-color="#009f33"/><stop offset="0.7884" stop-color="#009f33"/><stop offset="0.7903" stop-color="#00a6b7"/><stop offset="0.7959" stop-color="#00a6b7"/><stop offset="0.7978" stop-color="#009a00"/><stop offset="0.8071" stop-color="#009a08"/><stop offset="0.8090" stop-color="#009a08"/><stop offset="0.8109" stop-color="#00a3bf"/><stop offset="0.8221" stop-color="#00a3bf"/><stop offset="0.8240" stop-color="#008add"/><stop offset="0.8258" stop-color="#008add"/><stop offset="0.8277" stop-color="#2d00a4"/><stop offset="0.8296" stop-color="#870098"/><stop offset="0.9176" stop-color="#770088"/><stop offset="0.9232" stop-color="#670075"/><stop offset="0.9251" stop-color="#5d006b"/><stop offset="0.9270" stop-color="#5d006b"/><stop offset="0.9326" stop-color="#41004b"/><stop offset="0.9345" stop-color="#41004b"/><stop offset="0.9382" stop-color="#2f0035"/><stop offset="0.9401" stop-color="#2f0035"/><stop offset="0.9438" stop-color="#1c0020"/><stop offset="0.9457" stop-color="#1c0020"/><stop offset="0.9476" stop-color="#130015"/><stop offset="0.9494" stop-color="#130015"/><stop offset="0.9513" stop-color="#09000b"/><stop offset="0.9551" stop-color="#09000b"/><stop offset="0.9569" stop-color="#000000"/><stop offset="1.0000" stop-color="#000000"/></linearGradient>
<linearGradient id="g1_4" gradientUnits="userSpaceOnUse" x1="328" x2="595" y1="0" y2="0"><stop offset="0.0000" stop-color="#009a00"/><stop offset="0.0019" stop-color="#009a00"/><stop offset="0.0037" stop-color="#25002b"/><stop offset="0.1330" stop-color="#25002b"/><stop offset="0.1348" stop-color="#1c0020"/><stop offset="0.1479" stop-color="#1c0020"/><stop offset="0.1498" stop-color="#25002b"/><stop offset="0.1816" stop-color="#25002b"/><stop offset="0.1835" stop-color="#2f0035"/><stop offset="0.1854" stop-color="#2f0035"/><stop offset="0.1873" stop-color="#380040"/><stop offset="0.1929" stop-color="#380040"/><stop offset="0.1966" stop-color="#4b0055"/><stop offset="0.1985" stop-color="#4b0055"/><stop offset="0.2079" stop-color="#770088"/><stop offset="0.2285" stop-color="#870098"/><stop offset="0.2303" stop-color="#58009f"/><stop offset="0.2322" stop-color="#1800a7"/><stop offset="0.2341" stop-color="#0000bd"/><stop offset="0.2378" stop-color="#0000d9"/><stop offset="0.2491" stop-color="#0000dd"/><stop offset="0.2528" stop-color="#0009dd"/><stop offset="0.2566" stop-color="#0009dd"/><stop offset="0.2603" stop-color="#0013dd"/><stop offset="0.2659" stop-color="#0013dd"/><stop offset="0.2715" stop-color="#002fdd"/><stop offset="0.2753" stop-color="#0038dd"/><stop offset="0.2884" stop-color="#0078dd"/><stop offset="0.3277" stop-color="#009adb"/><stop offset="0.3446" stop-color="#009cd3"/><stop offset="0.3521" stop-color="#009cd3"/><stop offset="0.3670" stop-color="#009ecf"/><stop offset="0.3764" stop-color="#00a2c3"/><stop offset="0.3951" stop-color="#00a6b7"/><stop offset="0.4213" stop-color="#00aaa0"/><stop offset="0.4532" stop-color="#00aa88"/><stop offset="0.4569" stop-color="#00a773"/><stop offset="0.4607" stop-color="#00a773"/><stop offset="0.4625" stop-color="#00a97d"/><stop offset="0.4644" stop-color="#00a97d"/><stop offset="0.4663" stop-color="#00a773"/><stop offset="0.4682" stop-color="#00a773"/><stop offset="0.4719" stop-color="#00a55d"/><stop offset="0.4850" stop-color="#00a55d"/><stop offset="0.4888" stop-color="#00a248"/><stop offset="0.4981" stop-color="#00a248"/><stop offset="0.5000" stop-color="#00a13d"/><stop offset="0.5019" stop-color="#00a13d"/><stop offset="0.5075" stop-color="#009d1d"/><stop offset="0.5112" stop-color="#009d1d"/><stop offset="0.5131" stop-color="#009b13"/><stop offset="0.5243" stop-color="#009b13"/><stop offset="0.5318" stop-color="#00a13d"/><stop offset="0.5393" stop-color="#00a13d"/><stop offset="0.5412" stop-color="#00a248"/><stop offset="0.5431" stop-color="#00a248"/><stop offset="0.5487" stop-color="#00a668"/><stop offset="0.5581" stop-color="#00a668"/><stop offset="0.5637" stop-color="#00aa88"/><stop offset="0.5805" stop-color="#00aa95"/><stop offset="0.5993" stop-color="#00aaab"/><stop offset="0.6142" stop-color="#0098dd"/><stop offset="0.6292" stop-color="#007add"/><stop offset="0.6330" stop-color="#0067dd"/><stop offset="0.6367" stop-color="#004bdd"/><stop offset="0.6423" stop-color="#002fdd"/><stop offset="0.6461" stop-color="#0013dd"/><stop offset="0.6498" stop-color="#0013dd"/><stop offset="0.6536" stop-color="#0009dd"/><stop offset="0.6592" stop-color="#0009dd"/><stop offset="0.6629" stop-color="#0000dd"/><stop offset="0.7172" stop-color="#0000b1"/><stop offset="0.7228" stop-color="#0300aa"/><stop offset="0.7266" stop-color="#1800a7"/><stop offset="0.7322" stop-color="#1800a7"/><stop offset="0.7341" stop-color="#2300a6"/><stop offset="0.7378" stop-color="#2300a6"/><stop offset="0.7397" stop-color="#2d00a4"/><stop offset="0.7416" stop-color="#2d00a4"/><stop offset="0.7434" stop-color="#009e28"/><stop offset="0.7491" stop-color="#009e28"/><stop offset="0.7509" stop-color="#008ddd"/><stop offset="0.7547" stop-color="#008ddd"/><stop offset="0.7566" stop-color="#0000d5"/><stop offset="0.7584" stop-color="#0000d5"/><stop offset="0.7603" stop-color="#00aa8d"/><stop offset="0.7809" stop-color="#00aa8d"/><stop offset="0.7828" stop-color="#00a248"/><stop offset="0.7884" stop-color="#00a248"/><stop offset="0.7903" stop-color="#00a4bb"/><stop offset="0.7959" stop-color="#00a4bb"/><stop offset="0.7978" stop-color="#009b13"/><stop offset="0.8090" stop-color="#009b13"/><stop offset="0.8109" stop-color="#00a0c7"/><stop offset="0.8221" stop-color="#00a0c7"/><stop offset="0.8240" stop-color="#0085dd"/><stop offset="0.8258" stop-color="#0085dd"/><stop offset="0.8277" stop-color="#3800a3"/><stop offset="0.8296" stop-color="#870098"/><stop offset="0.9176" stop-color="#770088"/><stop offset="0.9232" stop-color="#670075"/><stop offset="0.9251" stop-color="#5d006b"/><stop offset="0.9270" stop-color="#5d006b"/><stop offset="0.9326" stop-color="#41004b"/><stop offset="0.9345" stop-color="#41004b"/><stop offset="0.9382" stop-color="#2f0035"/><stop offset="0.9401" stop-color="#2f0035"/><stop offset="0.9438" stop-color="#1c0020"/><stop offset="0.9457" stop-color="#1c0020"/><stop offset="0.9476" stop-color="#130015"/><stop offset="0.9494" stop-color="#130015"/><stop offset="0.9513" stop-color="#09000b"/><stop offset="0.9551" stop-color="#09000b"/><stop offset="0.9569" stop-color="#000000"/><stop offset="1.0000" stop-color="#000000"/></linearGradient>
<linearGradient id="g1_5" gradientUnits="userSpaceOnUse" x1="328" x2="595" y1="0" y2="0"><stop offset="0.0000" stop-color="#009cd3"/><stop offset="0.0019" stop-color="#009cd3"/><stop offset="0.0037" stop-color="#25002b"/><stop offset="0.1330" stop-color="#25002b"/><stop offset="0.1348" stop-color="#1c0020"/><stop offset="0.1479" stop-color="#1c0020"/><stop offset="0.1498" stop-color="#25002b"/><stop offset="0.1816" stop-color="#25002b"/><stop offset="0.1835" stop-color="#2f0035"/><stop offset="0.1854" stop-color="#2f0035"/><stop offset="0.1873" stop-color="#380040"/><stop offset="0.1929" stop-color="#380040"/><stop offset="0.1966" stop-color="#4b0055"/><stop offset="0.1985" stop-color="#4b0055"/><stop offset="0.2079" stop-color="#770088"/><stop offset="0.2285" stop-color="#870098"/><stop offset="0.2303" stop-color="#58009f"/><stop offset="0.2322" stop-color="#1800a7"/><stop offset="0.2341" stop-color="#0000c1"/><stop offset="0.2378" stop-color="#0000dd"/><stop offset="0.2491" stop-color="#001cdd"/><stop offset="0.2566" stop-color="#0041dd"/><stop offset="0.2640" stop-color="#0054dd"/><stop offset="0.2715" stop-color="#0078dd"/><stop offset="0.3034" stop-color="#009adb"/><stop offset="0.3258" stop-color="#00a6b7"/><stop offset="0.3371" stop-color="#00a8af"/><stop offset="0.3689" stop-color="#00aaab"/><stop offset="0.3970" stop-color="#00aa9d"/><stop offset="0.4288" stop-color="#00aa88"/><stop offset="0.4307" stop-color="#00a97d"/><stop offset="0.4326" stop-color="#00a97d"/><stop offset="0.4382" stop-color="#00a55d"/><stop offset="0.4401" stop-color="#00a55d"/><stop offset="0.4419" stop-color="#00a353"/><stop offset="0.4438" stop-color="#00a353"/><stop offset="0.4457" stop-color="#00a55d"/><stop offset="0.4476" stop-color="#00a55d"/><stop offset="0.4494" stop-color="#00a353"/><stop offset="0.4513" stop-color="#00a353"/><stop offset="0.4551" stop-color="#00a13d"/><stop offset="0.4663" stop-color="#00a13d"/><stop offset="0.4682" stop-color="#009f33"/><stop offset="0.4700" stop-color="#009f33"/><stop offset="0.4719" stop-color="#009e28"/><stop offset="0.4775" stop-color="#009e28"/><stop offset="0.4794" stop-color="#009f33"/><stop offset="0.4831" stop-color="#009f33"/><stop offset="0.4850" stop-color="#009e28"/><stop offset="0.4869" stop-color="#009e28"/><stop offset="0.4888" stop-color="#009d1d"/><stop offset="0.5000" stop-color="#009d1d"/><stop offset="0.5056" stop-color="#009a00"/><stop offset="0.5262" stop-color="#009a00"/><stop offset="0.5318" stop-color="#009d1d"/><stop offset="0.5412" stop-color="#009d1d"/><stop offset="0.5468" stop-color="#00a13d"/><stop offset="0.5581" stop-color="#00a13d"/><stop offset="0.5637" stop-color="#00a55d"/><stop offset="0.5655" stop-color="#00a55d"/><stop offset="0.5674" stop-color="#00a668"/><stop offset="0.5730" stop-color="#00a668"/><stop offset="0.5749" stop-color="#00a773"/><stop offset="0.5768" stop-color="#00a773"/><stop offset="0.5805" stop-color="#00aa88"/><stop offset="0.6030" stop-color="#00aaa5"/><stop offset="0.6217" stop-color="#009adb"/><stop offset="0.6404" stop-color="#0070dd"/><stop offset="0.6479" stop-color="#0041dd"/><stop offset="0.6592" stop-color="#0041dd"/><stop offset="0.6629" stop-color="#0038dd"/><stop offset="0.6704" stop-color="#002fdd"/><stop offset="0.6742" stop-color="#0025dd"/><stop offset="0.6835" stop-color="#0013dd"/><stop offset="0.6910" stop-color="#0009dd"/><stop offset="0.6948" stop-color="#0000dd"/><stop offset="0.7247" stop-color="#0000bd"/><stop offset="0.7416" stop-color="#0000b1"/><stop offset="0.7434" stop-color="#009c00"/><stop offset="0.7491" stop-color="#009c00"/><stop offset="0.7509" stop-color="#009bd7"/><stop offset="0.7547" stop-color="#009bd7"/><stop offset="0.7566" stop-color="#0025dd"/><stop offset="0.7584" stop-color="#0025dd"/><stop offset="0.7603" stop-color="#00a55d"/><stop offset="0.7678" stop-color="#00a55d"/><stop offset="0.7697" stop-color="#00a668"/><stop offset="0.7809" stop-color="#00a668"/><stop offset="0.7828" stop-color="#009b13"/><stop offset="0.7884" stop-color="#009b13"/><stop offset="0.7903" stop-color="#00aaa8"/><stop offset="0.7959" stop-color="#00aaab"/><stop offset="0.7978" stop-color="#00a200"/><stop offset="0.8090" stop-color="#009f00"/><stop offset="0.8109" stop-color="#00a6b7"/><stop offset="0.8221" stop-color="#00a6b7"/><stop offset="0.8240" stop-color="#0090dd"/><stop offset="0.8258" stop-color="#0090dd"/><stop offset="0.8277" stop-color="#1800a7"/><stop offset="0.8296" stop-color="#83009a"/><stop offset="0.8839" stop-color="#820093"/><stop offset="0.9195" stop-color="#770088"/><stop offset="0.9232" stop-color="#670075"/><stop offset="0.9251" stop-color="#670075"/><stop offset="0.9307" stop-color="#4b0055"/><stop offset="0.9326" stop-color="#4b0055"/><stop offset="0.9382" stop-color="#2f0035"/><stop offset="0.9401" stop-color="#2f0035"/><stop offset="0.9419" stop-color="#25002b"/><stop offset="0.9438" stop-color="#25002b"/><stop offset="0.9476" stop-color="#130015"/><stop offset="0.9513" stop-color="#130015"/><stop offset="0.9532" stop-color="#09000b"/><stop offset="0.9569" stop-color="#09000b"/><stop offset="0.9588" stop-color="#000000"/><stop offset="1.0000" stop-color="#000000"/></linearGradient>
<linearGradient id="g1_6" gradientUnits="userSpaceOnUse" x1="328" x2="595" y1="0" y2="0"><stop offset="0.0000" stop-color="#009a00"/><stop offset="0.0019" stop-color="#009a00"/><stop offset="0.0037" stop-color="#25002b"/><stop offset="0.1330" stop-color="#25002b"/><stop offset="0.1348" stop-color="#1c0020"/><stop offset="0.1479" stop-color="#1c0020"/><stop offset="0.1498" stop-color="#25002b"/><stop offset="0.1816" stop-color="#25002b"/><stop offset="0.1835" stop-color="#2f0035"/><stop offset="0.1854" stop-color="#2f0035"/><stop offset="0.1873" stop-color="#380040"/><stop offset="0.1929" stop-color="#380040"/><stop offset="0.1966" stop-color="#4b0055"/><stop offset="0.1985" stop-color="#4b0055"/><stop offset="0.2079" stop-color="#770088"/><stop offset="0.2285" stop-color="#870098"/><stop offset="0.2303" stop-color="#58009f"/><stop offset="0.2322" stop-color="#1800a7"/><stop offset="0.2341" stop-color="#0000bd"/><stop offset="0.2378" stop-color="#0000d9"/><stop offset="0.2509" stop-color="#0000dd"/><stop offset="0.2547" stop-color="#0009dd"/><stop offset="0.2603" stop-color="#0009dd"/><stop offset="0.2640" stop-color="#0013dd"/><stop offset="0.2715" stop-color="#0025dd"/><stop offset="0.2884" stop-color="#0078dd"/><stop offset="0.3277" stop-color="#0098dd"/><stop offset="0.3408" stop-color="#009cd3"/><stop offset="0.3652" stop-color="#009cd3"/><stop offset="0.3764" stop-color="#00a2c3"/><stop offset="0.3876" stop-color="#00a4bb"/><stop offset="0.3933" stop-color="#00a6b7"/><stop offset="0.3951" stop-color="#00a353"/><stop offset="0.3970" stop-color="#00a353"/><stop offset="0.3989" stop-color="#00a6b7"/><stop offset="0.4139" stop-color="#00aaab"/><stop offset="0.4457" stop-color="#00aa90"/><stop offset="0.4551" stop-color="#00aa88"/><stop offset="0.4569" stop-color="#00a97d"/><stop offset="0.4663" stop-color="#00a97d"/><stop offset="0.4700" stop-color="#00a668"/><stop offset="0.4719" stop-color="#00a668"/><stop offset="0.4738" stop-color="#00a55d"/><stop offset="0.4775" stop-color="#00a55d"/><stop offset="0.4794" stop-color="#00a668"/><stop offset="0.4813" stop-color="#00a668"/><stop offset="0.4831" stop-color="#00a55d"/><stop offset="0.4850" stop-color="#00a55d"/><stop offset="0.4888" stop-color="#00a248"/><stop offset="0.5000" stop-color="#00a248"/><stop offset="0.5075" stop-color="#009d1d"/><stop offset="0.5131" stop-color="#009d1d"/><stop offset="0.5150" stop-color="#009b13"/><stop offset="0.5243" stop-color="#009b13"/><stop offset="0.5318" stop-color="#00a13d"/><stop offset="0.5337" stop-color="#00a13d"/><stop offset="0.5356" stop-color="#00a248"/><stop offset="0.5431" stop-color="#00a248"/><stop offset="0.5487" stop-color="#00a668"/><stop offset="0.5581" stop-color="#00a668"/><stop offset="0.5637" stop-color="#00aa88"/><stop offset="0.5843" stop-color="#00aa9b"/><stop offset="0.5993" stop-color="#00aaab"/><stop offset="0.6142" stop-color="#0098dd"/><stop offset="0.6292" stop-color="#0078dd"/><stop offset="0.6311" stop-color="#0070dd"/><stop offset="0.6348" stop-color="#0054dd"/><stop offset="0.6404" stop-color="#0038dd"/><stop offset="0.6442" stop-color="#001cdd"/><stop offset="0.6479" stop-color="#0009dd"/><stop offset="0.6554" stop-color="#0009dd"/><stop offset="0.6592" stop-color="#0000dd"/><stop offset="0.7154" stop-color="#0000b1"/><stop offset="0.7210" stop-color="#0300aa"/><stop offset="0.7228" stop-color="#0d00a8"/><stop offset="0.7247" stop-color="#0d00a8"/><stop offset="0.7266" stop-color="#1800a7"/><stop offset="0.7303" stop-color="#1800a7"/><stop offset="0.7322" stop-color="#2300a6"/><stop offset="0.7360" stop-color="#2300a6"/><stop offset="0.7378" stop-color="#2d00a4"/><stop offset="0.7416" stop-color="#2d00a4"/><stop offset="0.7434" stop-color="#009f33"/><stop offset="0.7491" stop-color="#009f33"/><stop offset="0.7509" stop-color="#008ddd"/><stop offset="0.7547" stop-color="#008ddd"/><stop offset="0.7566" stop-color="#0000d5"/><stop offset="0.7584" stop-color="#0000d5"/><stop offset="0.7603" stop-color="#00aa8d"/><stop offset="0.7809" stop-color="#00aa8d"/><stop offset="0.7828" stop-color="#00a248"/><stop offset="0.7884" stop-color="#00a248"/><stop offset="0.7903" stop-color="#00a4bb"/><stop offset="0.7959" stop-color="#00a4bb"/><stop offset="0.7978" stop-color="#009b13"/><stop offset="0.8090" stop-color="#009b13"/><stop offset="0.8109" stop-color="#00a0c7"/><stop offset="0.8221" stop-color="#00a0c7"/><stop offset="0.8240" stop-color="#0085dd"/><stop offset="0.8258" stop-color="#0085dd"/><stop offset="0.8277" stop-color="#3800a3"/><stop offset="0.8296" stop-color="#870098"/><stop offset="0.9176" stop-color="#770088"/><stop offset="0.9232" stop-color="#670075"/><stop offset="0.9251" stop-color="#5d006b"/><stop offset="0.9270" stop-color="#5d006b"/><stop offset="0.9326" stop-color="#41004b"/><stop offset="0.9345" stop-color="#41004b"/><stop offset="0.9382" stop-color="#2f0035"/><stop offset="0.9401" stop-color="#2f0035"/><stop offset="0.9438" stop-color="#1c0020"/><stop offset="0.9457" stop-color="#1c0020"/><stop offset="0.9476" stop-color="#130015"/><stop offset="0.9494" stop-color="#130015"/><stop offset="0.9513" stop-color="#09000b"/><stop offset="0.9551" stop-color="#09000b"/><stop offset="0.9569" stop-color="#000000"/><stop offset="1.0000" stop-color="#000000"/></linearGradient>
<linearGradient id="g1_8" gradientUnits="userSpaceOnUse" x1="328" x2="595" y1="0" y2="0"><stop offset="0.0000" stop-color="#009cd3"/><stop offset="0.0019" stop-color="#009cd3"/><stop offset="0.0037" stop-color="#25002b"/><stop offset="0.1330" stop-color="#25002b"/><stop offset="0.1348" stop-color="#1c0020"/><stop offset="0.1479" stop-color="#1c0020"/><stop offset="0.1498" stop-color="#25002b"/><stop offset="0.1816" stop-color="#25002b"/><stop offset="0.1835" stop-color="#2f0035"/><stop offset="0.1854" stop-color="#2f0035"/><stop offset="0.1873" stop-color="#380040"/><stop offset="0.1929" stop-color="#380040"/><stop offset="0.1966" stop-color="#4b0055"/><stop offset="0.1985" stop-color="#4b0055"/><stop offset="0.2079" stop-color="#770088"/><stop offset="0.2285" stop-color="#870098"/><stop offset="0.2303" stop-color="#58009f"/><stop offset="0.2322" stop-color="#1800a7"/><stop offset="0.2341" stop-color="#0000bd"/><stop offset="0.2378" stop-color="#0000d9"/><stop offset="0.2509" stop-color="#0000dd"/><stop offset="0.2547" stop-color="#0009dd"/><stop offset="0.2603" stop-color="#0009dd"/><stop offset="0.2640" stop-color="#0013dd"/><stop offset="0.2715" stop-color="#0025dd"/><stop offset="0.2884" stop-color="#0078dd"/><stop offset="0.3277" stop-color="#0098dd"/><stop offset="0.3408" stop-color="#009cd3"/><stop offset="0.3483" stop-color="#009adb"/><stop offset="0.3633" stop-color="#009cd3"/><stop offset="0.3914" stop-color="#00a4bb"/><stop offset="0.4045" stop-color="#00a7b3"/><stop offset="0.4476" stop-color="#00aa93"/><stop offset="0.4644" stop-color="#00aa88"/><stop offset="0.4682" stop-color="#00aa88"/><stop offset="0.4719" stop-color="#00a773"/><stop offset="0.4831" stop-color="#00a773"/><stop offset="0.4850" stop-color="#00a668"/><stop offset="0.4869" stop-color="#00a668"/><stop offset="0.4888" stop-color="#00a55d"/><stop offset="0.4906" stop-color="#00a55d"/><stop offset="0.4925" stop-color="#00a353"/><stop offset="0.4944" stop-color="#00a55d"/><stop offset="0.4981" stop-color="#00a55d"/><stop offset="0.5037" stop-color="#00a13d"/><stop offset="0.5056" stop-color="#00a13d"/><stop offset="0.5094" stop-color="#009e28"/><stop offset="0.5150" stop-color="#009e28"/><stop offset="0.5169" stop-color="#009d1d"/><stop offset="0.5187" stop-color="#009e28"/><stop offset="0.5243" stop-color="#009e28"/><stop offset="0.5300" stop-color="#00a248"/><stop offset="0.5318" stop-color="#00a248"/><stop offset="0.5337" stop-color="#00a353"/><stop offset="0.5412" stop-color="#00a353"/><stop offset="0.5468" stop-color="#00a773"/><stop offset="0.5487" stop-color="#00a773"/><stop offset="0.5506" stop-color="#00a97d"/><stop offset="0.5581" stop-color="#00a97d"/><stop offset="0.5599" stop-color="#00aa88"/><stop offset="0.5955" stop-color="#00aaa8"/><stop offset="0.6142" stop-color="#0098dd"/><stop offset="0.6292" stop-color="#0078dd"/><stop offset="0.6311" stop-color="#0070dd"/><stop offset="0.6348" stop-color="#0054dd"/><stop offset="0.6404" stop-color="#0038dd"/><stop offset="0.6442" stop-color="#001cdd"/><stop offset="0.6479" stop-color="#0009dd"/><stop offset="0.6554" stop-color="#0009dd"/><stop offset="0.6592" stop-color="#0000dd"/><stop offset="0.7154" stop-color="#0000b1"/><stop offset="0.7210" stop-color="#0300aa"/><stop offset="0.7228" stop-color="#0d00a8"/><stop offset="0.7247" stop-color="#0d00a8"/><stop offset="0.7266" stop-color="#1800a7"/><stop offset="0.7303" stop-color="#1800a7"/><stop offset="0.7322" stop-color="#2300a6"/><stop offset="0.7360" stop-color="#2300a6"/><stop offset="0.7378" stop-color="#2d00a4"/><stop offset="0.7416" stop-color="#2d00a4"/><stop offset="0.7434" stop-color="#009f33"/><stop offset="0.7491" stop-color="#009f33"/><stop offset="0.7509" stop-color="#008ddd"/><stop offset="0.7547" stop-color="#008ddd"/><stop offset="0.7566" stop-color="#0000d5"/><stop offset="0.7584" stop-color="#0000d5"/><stop offset="0.7603" stop-color="#00aa8d"/><stop offset="0.7809" stop-color="#00aa8d"/><stop offset="0.7828" stop-color="#00a248"/><stop offset="0.7884" stop-color="#00a248"/><stop offset="0.7903" stop-color="#00a4bb"/><stop offset="0.7959" stop-color="#00a4bb"/><stop offset="0.7978" stop-color="#009b13"/><stop offset="0.8090" stop-color="#009b13"/><stop offset="0.8109" stop-color="#00a0c7"/><stop offset="0.8221" stop-color="#00a0c7"/><stop offset="0.8240" stop-color="#0085dd"/><stop offset="0.8258" stop-color="#0085dd"/><stop offset="0.8277" stop-color="#3800a3"/><stop offset="0.8296" stop-color="#870098"/><stop offset="0.9176" stop-color="#770088"/><stop offset="0.9232" stop-color="#670075"/><stop offset="0.9251" stop-color="#5d006b"/><stop offset="0.9270" stop-color="#5d006b"/><stop offset="0.9326" stop-color="#41004b"/><stop offset="0.9345" stop-color="#41004b"/><stop offset="0.9382" stop-color="#2f0035"/><stop offset="0.9401" stop-color="#2f0035"/><stop offset="0.9438" stop-color="#1c0020"/><stop offset="0.9457" stop-color="#1c0020"/><stop offset="0.9476" stop-color="#130015"/><stop offset="0.9494" stop-color="#130015"/><stop offset="0.9513" stop-color="#09000b"/><stop offset="0.9551" stop-color="#09000b"/><stop offset="0.9569" stop-color="#000000"/><stop offset="1.0000" stop-color="#000000"/></linearGradient>
<linearGradient id="g1_9" gradientUnits="userSpaceOnUse" x1="328" x2="595" y1="0" y2="0"><stop offset="0.0000" stop-color="#0098dd"/><stop offset="0.0019" stop-color="#0098dd"/><stop offset="0.0037" stop-color="#25002b"/><stop offset="0.1330" stop-color="#25002b"/><stop offset="0.1348" stop-color="#1c0020"/><stop offset="0.1479" stop-color="#1c0020"/><stop offset="0.1498" stop-color="#25002b"/><stop offset="0.1816" stop-color="#25002b"/><stop offset="0.1835" stop-color="#2f0035"/><stop offset="0.1854" stop-color="#2f0035"/><stop offset="0.1873" stop-color="#380040"/><stop offset="0.1929" stop-color="#380040"/><stop offset="0.1966" stop-color="#4b0055"/><stop offset="0.1985" stop-color="#4b0055"/><stop offset="0.2079" stop-color="#770088"/><stop offset="0.2285" stop-color="#870098"/><stop offset="0.2303" stop-color="#58009f"/><stop offset="0.2322" stop-color="#1800a7"/><stop offset="0.2341" stop-color="#0000bd"/><stop offset="0.2378" stop-color="#0000d9"/><stop offset="0.2491" stop-color="#0000dd"/><stop offset="0.2528" stop-color="#0009dd"/><stop offset="0.2603" stop-color="#0013dd"/><stop offset="0.2715" stop-color="#002fdd"/><stop offset="0.2865" stop-color="#0078dd"/><stop offset="0.3258" stop-color="#009adb"/><stop offset="0.3427" stop-color="#009ecf"/><stop offset="0.3558" stop-color="#009ecf"/><stop offset="0.3670" stop-color="#009fcb"/><stop offset="0.3783" stop-color="#00a3bf"/><stop offset="0.3951" stop-color="#00a7b3"/><stop offset="0.4026" stop-color="#00a8af"/><stop offset="0.4457" stop-color="#00aa8d"/><stop offset="0.4532" stop-color="#00aa88"/><stop offset="0.4569" stop-color="#00a773"/><stop offset="0.4663" stop-color="#00a773"/><stop offset="0.4682" stop-color="#00a668"/><stop offset="0.4700" stop-color="#00a668"/><stop offset="0.4719" stop-color="#00a55d"/><stop offset="0.4831" stop-color="#00a55d"/><stop offset="0.4850" stop-color="#00a353"/><stop offset="0.4869" stop-color="#00a353"/><stop offset="0.4888" stop-color="#00a248"/><stop offset="0.4906" stop-color="#00a248"/><stop offset="0.4925" stop-color="#00a13d"/><stop offset="0.4944" stop-color="#00a13d"/><stop offset="0.4963" stop-color="#00a248"/><stop offset="0.4981" stop-color="#00a248"/><stop offset="0.5037" stop-color="#009e28"/><stop offset="0.5056" stop-color="#009e28"/><stop offset="0.5075" stop-color="#009d1d"/><stop offset="0.5094" stop-color="#009d1d"/><stop offset="0.5112" stop-color="#009b13"/><stop offset="0.5243" stop-color="#009b13"/><stop offset="0.5318" stop-color="#00a13d"/><stop offset="0.5412" stop-color="#00a13d"/><stop offset="0.5468" stop-color="#00a55d"/><stop offset="0.5487" stop-color="#00a55d"/><stop offset="0.5506" stop-color="#00a668"/><stop offset="0.5581" stop-color="#00a668"/><stop offset="0.5599" stop-color="#00a773"/><stop offset="0.5618" stop-color="#00a773"/><stop offset="0.5655" stop-color="#00aa88"/><stop offset="0.5805" stop-color="#00aa95"/><stop offset="0.5993" stop-color="#00aaa8"/><stop offset="0.6142" stop-color="#009adb"/><stop offset="0.6292" stop-color="#007add"/><stop offset="0.6386" stop-color="#004bdd"/><stop offset="0.6423" stop-color="#002fdd"/><stop offset="0.6461" stop-color="#0013dd"/><stop offset="0.6536" stop-color="#0013dd"/><stop offset="0.6573" stop-color="#0009dd"/><stop offset="0.6610" stop-color="#0009dd"/><stop offset="0.6648" stop-color="#0000dd"/><stop offset="0.7172" stop-color="#0000b1"/><stop offset="0.7247" stop-color="#0300aa"/><stop offset="0.7266" stop-color="#0d00a8"/><stop offset="0.7285" stop-color="#0d00a8"/><stop offset="0.7303" stop-color="#1800a7"/><stop offset="0.7341" stop-color="#1800a7"/><stop offset="0.7360" stop-color="#2300a6"/><stop offset="0.7416" stop-color="#2300a6"/><stop offset="0.7434" stop-color="#009e28"/><stop offset="0.7491" stop-color="#009e28"/><stop offset="0.7509" stop-color="#0090dd"/><stop offset="0.7547" stop-color="#0090dd"/><stop offset="0.7566" stop-color="#0000d9"/><stop offset="0.7584" stop-color="#0000d9"/><stop offset="0.7603" stop-color="#00aa8b"/><stop offset="0.7809" stop-color="#00aa8b"/><stop offset="0.7828" stop-color="#00a248"/><stop offset="0.7884" stop-color="#00a248"/><stop offset="0.7903" stop-color="#00a4bb"/><stop offset="0.7959" stop-color="#00a4bb"/><stop offset="0.7978" stop-color="#009b13"/><stop offset="0.8090" stop-color="#009b13"/><stop offset="0.8109" stop-color="#00a2c3"/><stop offset="0.8221" stop-color="#00a0c7"/><stop offset="0.8240" stop-color="#0088dd"/><stop offset="0.8258" stop-color="#0088dd"/><stop offset="0.8277" stop-color="#2d00a4"/><stop offset="0.8296" stop-color="#870098"/><stop offset="0.9176" stop-color="#770088"/><stop offset="0.9232" stop-color="#670075"/><stop offset="0.9251" stop-color="#5d006b"/><stop offset="0.9270" stop-color="#5d006b"/><stop offset="0.9326" stop-color="#41004b"/><stop offset="0.9345" stop-color="#41004b"/><stop offset="0.9382" stop-color="#2f0035"/><stop offset="0.9401" stop-color="#2f0035"/><stop offset="0.9438" stop-color="#1c0020"/><stop offset="0.9457" stop-color="#1c0020"/><stop offset="0.9476" stop-color="#130015"/><stop offset="0.9494" stop-color="#130015"/><stop offset="0.9513" stop-color="#09000b"/><stop offset="0.9551" stop-color="#09000b"/><stop offset="0.9569" stop-color="#000000"/><stop offset="1.0000" stop-color="#000000"/></linearGradient>
<linearGradient id="g1_10" gradientUnits="userSpaceOnUse" x1="328" x2="595" y1="0" y2="0"><stop offset="0.0000" stop-color="#0098dd"/><stop offset="0.0019" stop-color="#0098dd"/><stop offset="0.0037" stop-color="#25002b"/><stop offset="0.1330" stop-color="#25002b"/><stop offset="0.1348" stop-color="#1c0020"/><stop offset="0.1479" stop-color="#1c0020"/><stop offset="0.1498" stop-color="#25002b"/><stop offset="0.1816" stop-color="#25002b"/><stop offset="0.1835" stop-color="#2f0035"/><stop offset="0.1854" stop-color="#2f0035"/><stop offset="0.1873" stop-color="#380040"/><stop offset="0.1929" stop-color="#380040"/><stop offset="0.1966" stop-color="#4b0055"/><stop offset="0.1985" stop-color="#4b0055"/><stop offset="0.2079" stop-color="#770088"/><stop offset="0.2285" stop-color="#870098"/><stop offset="0.2303" stop-color="#58009f"/><stop offset="0.2322" stop-color="#1800a7"/><stop offset="0.2341" stop-color="#0000bd"/><stop offset="0.2378" stop-color="#0000d9"/><stop offset="0.2472" stop-color="#0000dd"/><stop offset="0.2547" stop-color="#0013dd"/><stop offset="0.2622" stop-color="#001cdd"/><stop offset="0.2697" stop-color="#0038dd"/><stop offset="0.2734" stop-color="#0041dd"/><stop offset="0.2846" stop-color="#0078dd"/><stop offset="0.3184" stop-color="#0098dd"/><stop offset="0.3296" stop-color="#009cd3"/><stop offset="0.3427" stop-color="#009fcb"/><stop offset="0.3539" stop-color="#009fcb"/><stop offset="0.3670" stop-color="#00a0c7"/><stop offset="0.3783" stop-color="#00a4bb"/><stop offset="0.3970" stop-color="#00a8af"/><stop offset="0.4382" stop-color="#00aa8d"/><stop offset="0.4513" stop-color="#00aa88"/><stop offset="0.4569" stop-color="#00a668"/><stop offset="0.4682" stop-color="#00a668"/><stop offset="0.4719" stop-color="#00a353"/><stop offset="0.4850" stop-color="#00a353"/><stop offset="0.4888" stop-color="#00a13d"/><stop offset="0.5000" stop-color="#00a13d"/><stop offset="0.5075" stop-color="#009b13"/><stop offset="0.5150" stop-color="#009b13"/><stop offset="0.5169" stop-color="#009a08"/><stop offset="0.5225" stop-color="#009a08"/><stop offset="0.5243" stop-color="#009b13"/><stop offset="0.5262" stop-color="#009b13"/><stop offset="0.5337" stop-color="#00a13d"/><stop offset="0.5412" stop-color="#00a13d"/><stop offset="0.5431" stop-color="#00a248"/><stop offset="0.5449" stop-color="#00a248"/><stop offset="0.5487" stop-color="#00a55d"/><stop offset="0.5581" stop-color="#00a55d"/><stop offset="0.5655" stop-color="#00aa88"/><stop offset="0.5824" stop-color="#00aa95"/><stop offset="0.6011" stop-color="#00a8af"/><stop offset="0.6124" stop-color="#009cd3"/><stop offset="0.6180" stop-color="#0095dd"/><stop offset="0.6311" stop-color="#0078dd"/><stop offset="0.6348" stop-color="#0067dd"/><stop offset="0.6386" stop-color="#004bdd"/><stop offset="0.6442" stop-color="#002fdd"/><stop offset="0.6461" stop-color="#001cdd"/><stop offset="0.6517" stop-color="#001cdd"/><stop offset="0.6554" stop-color="#0013dd"/><stop offset="0.6592" stop-color="#0013dd"/><stop offset="0.6629" stop-color="#0009dd"/><stop offset="0.6667" stop-color="#0009dd"/><stop offset="0.6704" stop-color="#0000dd"/><stop offset="0.7135" stop-color="#0000b9"/><stop offset="0.7266" stop-color="#0300aa"/><stop offset="0.7285" stop-color="#0d00a8"/><stop offset="0.7322" stop-color="#0d00a8"/><stop offset="0.7341" stop-color="#1800a7"/><stop offset="0.7397" stop-color="#1800a7"/><stop offset="0.7416" stop-color="#2300a6"/><stop offset="0.7434" stop-color="#009d1d"/><stop offset="0.7491" stop-color="#009d1d"/><stop offset="0.7509" stop-color="#0090dd"/><stop offset="0.7547" stop-color="#0090dd"/><stop offset="0.7566" stop-color="#0000d9"/><stop offset="0.7584" stop-color="#0000d9"/><stop offset="0.7603" stop-color="#00aa8b"/><stop offset="0.7809" stop-color="#00aa8b"/><stop offset="0.7828" stop-color="#00a13d"/><stop offset="0.7884" stop-color="#00a13d"/><stop offset="0.7903" stop-color="#00a6b7"/><stop offset="0.7959" stop-color="#00a6b7"/><stop offset="0.7978" stop-color="#009a08"/><stop offset="0.8090" stop-color="#009a08"/><stop offset="0.8109" stop-color="#00a2c3"/><stop offset="0.8221" stop-color="#00a2c3"/><stop offset="0.8240" stop-color="#0088dd"/><stop offset="0.8258" stop-color="#0088dd"/><stop offset="0.8277" stop-color="#2d00a4"/><stop offset="0.8296" stop-color="#870098"/><stop offset="0.9176" stop-color="#770088"/><stop offset="0.9232" stop-color="#670075"/><stop offset="0.9251" stop-color="#5d006b"/><stop offset="0.9270" stop-color="#5d006b"/><stop offset="0.9326" stop-color="#41004b"/><stop offset="0.9345" stop-color="#41004b"/><stop offset="0.9382" stop-color="#2f0035"/><stop offset="0.9401" stop-color="#2f0035"/><stop offset="0.9438" stop-color="#1c0020"/><stop offset="0.9457" stop-color="#1c0020"/><stop offset="0.9476" stop-color="#130015"/><stop offset="0.9494" stop-color="#130015"/><stop offset="0.9513" stop-color="#09000b"/><stop offset="0.9551" stop-color="#09000b"/><stop offset="0.9569" stop-color="#000000"/><stop offset="1.0000" stop-color="#000000"/></linearGradient>
<linearGradient id="g1_12" gradientUnits="userSpaceOnUse" x1="328" x2="595" y1="0" y2="0"><stop offset="0.0000" stop-color="#0098dd"/><stop offset="0.0019" stop-color="#0098dd"/><stop offset="0.0037" stop-color="#25002b"/><stop offset="0.1330" stop-color="#25002b"/><stop offset="0.1348" stop-color="#1c0020"/><stop offset="0.1479" stop-color="#1c0020"/><stop offset="0.1498" stop-color="#25002b"/><stop offset="0.1816" stop-color="#25002b"/><stop offset="0.1835" stop-color="#2f0035"/><stop offset="0.1854" stop-color="#2f0035"/><stop offset="0.1873" stop-color="#380040"/><stop offset="0.1929" stop-color="#380040"/><stop offset="0.1966" stop-color="#4b0055"/><stop offset="0.1985" stop-color="#4b0055"/><stop offset="0.2079" stop-color="#770088"/><stop offset="0.2285" stop-color="#870098"/><stop offset="0.2303" stop-color="#58009f"/><stop offset="0.2322" stop-color="#1800a7"/><stop offset="0.2341" stop-color="#0000bd"/><stop offset="0.2378" stop-color="#0000d9"/><stop offset="0.2472" stop-color="#0000dd"/><stop offset="0.2547" stop-color="#0013dd"/><stop offset="0.2622" stop-color="#001cdd"/><stop offset="0.2697" stop-color="#0038dd"/><stop offset="0.2734" stop-color="#0041dd"/><stop offset="0.2846" stop-color="#0078dd"/><stop offset="0.3184" stop-color="#0098dd"/><stop offset="0.3296" stop-color="#009cd3"/><stop offset="0.3427" stop-color="#009fcb"/><stop offset="0.3539" stop-color="#009fcb"/><stop offset="0.3670" stop-color="#00a0c7"/><stop offset="0.3783" stop-color="#00a4bb"/><stop offset="0.3970" stop-color="#00a8af"/><stop offset="0.4120" stop-color="#00aaa5"/><stop offset="0.4139" stop-color="#00a700"/><stop offset="0.4288" stop-color="#00a700"/><stop offset="0.4307" stop-color="#00aa98"/><stop offset="0.4438" stop-color="#00aa8b"/><stop offset="0.4513" stop-color="#00aa88"/><stop offset="0.4569" stop-color="#00a668"/><stop offset="0.4682" stop-color="#00a668"/><stop offset="0.4719" stop-color="#00a353"/><stop offset="0.4850" stop-color="#00a353"/><stop offset="0.4888" stop-color="#00a13d"/><stop offset="0.5000" stop-color="#00a13d"/><stop offset="0.5075" stop-color="#009b13"/><stop offset="0.5150" stop-color="#009b13"/><stop offset="0.5169" stop-color="#009a08"/><stop offset="0.5225" stop-color="#009a08"/><stop offset="0.5243" stop-color="#009b13"/><stop offset="0.5262" stop-color="#009b13"/><stop offset="0.5337" stop-color="#00a13d"/><stop offset="0.5412" stop-color="#00a13d"/><stop offset="0.5431" stop-color="#00a248"/><stop offset="0.5449" stop-color="#00a248"/><stop offset="0.5487" stop-color="#00a55d"/><stop offset="0.5581" stop-color="#00a55d"/><stop offset="0.5655" stop-color="#00aa88"/><stop offset="0.5824" stop-color="#00aa95"/><stop offset="0.6011" stop-color="#00a8af"/><stop offset="0.6124" stop-color="#009cd3"/><stop offset="0.6180" stop-color="#0095dd"/><stop offset="0.6311" stop-color="#0078dd"/><stop offset="0.6348" stop-color="#0067dd"/><stop offset="0.6386" stop-color="#004bdd"/><stop offset="0.6442" stop-color="#002fdd"/><stop offset="0.6461" stop-color="#001cdd"/><stop offset="0.6517" stop-color="#001cdd"/><stop offset="0.6554" stop-color="#0013dd"/><stop offset="0.6592" stop-color="#0013dd"/><stop offset="0.6629" stop-color="#0009dd"/><stop offset="0.6667" stop-color="#0009dd"/><stop offset="0.6704" stop-color="#0000dd"/><stop offset="0.7135" stop-color="#0000b9"/><stop offset="0.7266" stop-color="#0300aa"/><stop offset="0.7285" stop-color="#0d00a8"/><stop offset="0.7322" stop-color="#0d00a8"/><stop offset="0.7341" stop-color="#1800a7"/><stop offset="0.7397" stop-color="#1800a7"/><stop offset="0.7416" stop-color="#2300a6"/><stop offset="0.7434" stop-color="#009d1d"/><stop offset="0.7491" stop-color="#009d1d"/><stop offset="0.7509" stop-color="#0090dd"/><stop offset="0.7547" stop-color="#0090dd"/><stop offset="0.7566" stop-color="#0000d9"/><stop offset="0.7584" stop-color="#0000d9"/><stop offset="0.7603" stop-color="#00aa8b"/><stop offset="0.7809" stop-color="#00aa8b"/><stop offset="0.7828" stop-color="#00a13d"/><stop offset="0.7884" stop-color="#00a13d"/><stop offset="0.7903" stop-color="#00a6b7"/><stop offset="0.7959" stop-color="#00a6b7"/><stop offset="0.7978" stop-color="#009a08"/><stop offset="0.8090" stop-color="#009a08"/><stop offset="0.8109" stop-color="#00a2c3"/><stop offset="0.8221" stop-color="#00a2c3"/><stop offset="0.8240" stop-color="#0088dd"/><stop offset="0.8258" stop-color="#0088dd"/><stop offset="0.8277" stop-color="#2d00a4"/><stop offset="0.8296" stop-color="#870098"/><stop offset="0.9176" stop-color="#770088"/><stop offset="0.9232" stop-color="#670075"/><stop offset="0.9251" stop-color="#5d006b"/><stop offset="0.9270" stop-color="#5d006b"/><stop offset="0.9326" stop-color="#41004b"/><stop offset="0.9345" stop-color="#41004b"/><stop offset="0.9382" stop-color="#2f0035"/><stop offset="0.9401" stop-color="#2f0035"/><stop offset="0.9438" stop-color="#1c0020"/><stop offset="0.9457" stop-color="#1c0020"/><stop offset="0.9476" stop-color="#130015"/><stop offset="0.9494" stop-color="#130015"/><stop offset="0.9513" stop-color="#09000b"/><stop offset="0.9551" stop-color="#09000b"/><stop offset="0.9569" stop-color="#000000"/><stop offset="1.0000" stop-color="#000000"/></linearGradient>
<linearGradient id="g1_13" gradientUnits="userSpaceOnUse" x1="328" x2="595" y1="0" y2="0"><stop offset="0.0000" stop-color="#0098dd"/><stop offset="0.0019" stop-color="#0098dd"/><stop offset="0.0037" stop-color="#25002b"/><stop offset="0.1330" stop-color="#25002b"/><stop offset="0.1348" stop-color="#1c0020"/><stop offset="0.1479" stop-color="#1c0020"/><stop offset="0.1498" stop-color="#25002b"/><stop offset="0.1816" stop-color="#25002b"/><stop offset="0.1835" stop-color="#2f0035"/><stop offset="0.1854" stop-color="#2f0035"/><stop offset="0.1873" stop-color="#380040"/><stop offset="0.1929" stop-color="#380040"/><stop offset="0.1966" stop-color="#4b0055"/><stop offset="0.1985" stop-color="#4b0055"/><stop offset="0.2079" stop-color="#770088"/><stop offset="0.2285" stop-color="#870098"/><stop offset="0.2303" stop-color="#58009f"/><stop offset="0.2322" stop-color="#1800a7"/><stop offset="0.2341" stop-color="#0000bd"/><stop offset="0.2378" stop-color="#0000d9"/><stop offset="0.2472" stop-color="#0000dd"/><stop offset="0.2547" stop-color="#0013dd"/><stop offset="0.2622" stop-color="#001cdd"/><stop offset="0.2697" stop-color="#0038dd"/><stop offset="0.2734" stop-color="#0041dd"/><stop offset="0.2846" stop-color="#0078dd"/><stop offset="0.3184" stop-color="#0098dd"/><stop offset="0.3296" stop-color="#009cd3"/><stop offset="0.3427" stop-color="#009fcb"/><stop offset="0.3539" stop-color="#009fcb"/><stop offset="0.3670" stop-color="#00a0c7"/><stop offset="0.3783" stop-color="#00a4bb"/><stop offset="0.3970" stop-color="#00a8af"/><stop offset="0.4120" stop-color="#00aaa5"/><stop offset="0.4139" stop-color="#00bc00"/><stop offset="0.4176" stop-color="#00bc00"/><stop offset="0.4195" stop-color="#93ff00"/><stop offset="0.4213" stop-color="#93ff00"/><stop offset="0.4232" stop-color="#00bc00"/><stop offset="0.4251" stop-color="#00bc00"/><stop offset="0.4270" stop-color="#00aa98"/><stop offset="0.4476" stop-color="#00aa8b"/><stop offset="0.4513" stop-color="#00aa88"/><stop offset="0.4569" stop-color="#00a668"/><stop offset="0.4682" stop-color="#00a668"/><stop offset="0.4719" stop-color="#00a353"/><stop offset="0.4850" stop-color="#00a353"/><stop offset="0.4888" stop-color="#00a13d"/><stop offset="0.5000" stop-color="#00a13d"/><stop offset="0.5075" stop-color="#009b13"/><stop offset="0.5150" stop-color="#009b13"/><stop offset="0.5169" stop-color="#009a08"/><stop offset="0.5225" stop-color="#009a08"/><stop offset="0.5243" stop-color="#009b13"/><stop offset="0.5262" stop-color="#009b13"/><stop offset="0.5337" stop-color="#00a13d"/><stop offset="0.5412" stop-color="#00a13d"/><stop offset="0.5431" stop-color="#00a248"/><stop offset="0.5449" stop-color="#00a248"/><stop offset="0.5487" stop-color="#00a55d"/><stop offset="0.5581" stop-color="#00a55d"/><stop offset="0.5655" stop-color="#00aa88"/><stop offset="0.5824" stop-color="#00aa95"/><stop offset="0.6011" stop-color="#00a8af"/><stop offset="0.6124" stop-color="#009cd3"/><stop offset="0.6180" stop-color="#0095dd"/><stop offset="0.6311" stop-color="#0078dd"/><stop offset="0.6348" stop-color="#0067dd"/><stop offset="0.6386" stop-color="#004bdd"/><stop offset="0.6442" stop-color="#002fdd"/><stop offset="0.6461" stop-color="#001cdd"/><stop offset="0.6517" stop-color="#001cdd"/><stop offset="0.6554" stop-color="#0013dd"/><stop offset="0.6592" stop-color="#0013dd"/><stop offset="0.6629" stop-color="#0009dd"/><stop offset="0.6667" stop-color="#0009dd"/><stop offset="0.6704" stop-color="#0000dd"/><stop offset="0.7135" stop-color="#0000b9"/><stop offset="0.7266" stop-color="#0300aa"/><stop offset="0.7285" stop-color="#0d00a8"/><stop offset="0.7322" stop-color="#0d00a8"/><stop offset="0.7341" stop-color="#1800a7"/><stop offset="0.7397" stop-color="#1800a7"/><stop offset="0.7416" stop-color="#2300a6"/><stop offset="0.7434" stop-color="#009d1d"/><stop offset="0.7491" stop-color="#009d1d"/><stop offset="0.7509" stop-color="#0090dd"/><stop offset="0.7547" stop-color="#0090dd"/><stop offset="0.7566" stop-color="#0000d9"/><stop offset="0.7584" stop-color="#0000d9"/><stop offset="0.7603" stop-color="#00aa8b"/><stop offset="0.7809" stop-color="#00aa8b"/><stop offset="0.7828" stop-color="#00a13d"/><stop offset="0.7884" stop-color="#00a13d"/><stop offset="0.7903" stop-color="#00a6b7"/><stop offset="0.7959" stop-color="#00a6b7"/><stop offset="0.7978" stop-color="#009a08"/><stop offset="0.8090" stop-color="#009a08"/><stop offset="0.8109" stop-color="#00a2c3"/><stop offset="0.8221" stop-color="#00a2c3"/><stop offset="0.8240" stop-color="#0088dd"/><stop offset="0.8258" stop-color="#0088dd"/><stop offset="0.8277" stop-color="#2d00a4"/><stop offset="0.8296" stop-color="#870098"/><stop offset="0.9176" stop-color="#770088"/><stop offset="0.9232" stop-color="#670075"/><stop offset="0.9251" stop-color="#5d006b"/><stop offset="0.9270" stop-color="#5d006b"/><stop offset="0.9326" stop-color="#41004b"/><stop offset="0.9345" stop-color="#41004b"/><stop offset="0.9382" stop-color="#2f0035"/><stop offset="0.9401" stop-color="#2f0035"/><stop offset="0.9438" stop-color="#1c0020"/><stop offset="0.9457" stop-color="#1c0020"/><stop offset="0.9476" stop-color="#130015"/><stop offset="0.9494" stop-color="#130015"/><stop offset="0.9513" stop-color="#09000b"/><stop offset="0.9551" stop-color="#09000b"/><stop offset="0.9569" stop-color="#000000"/><stop offset="1.0000" stop-color="#000000"/></linearGradient>
<linearGradient id="g1_14" gradientUnits="userSpaceOnUse" x1="328" x2="595" y1="0" y2="0"><stop offset="0.0000" stop-color="#0098dd"/><stop offset="0.0019" stop-color="#0098dd"/><stop offset="0.0037" stop-color="#25002b"/><stop offset="0.1330" stop-color="#25002b"/><stop offset="0.1348" stop-color="#1c0020"/><stop offset="0.1479" stop-color="#1c0020"/><stop offset="0.1498" stop-color="#25002b"/><stop offset="0.1816" stop-color="#25002b"/><stop offset="0.1835" stop-color="#2f0035"/><stop offset="0.1854" stop-color="#2f0035"/><stop offset="0.1873" stop-color="#380040"/><stop offset="0.1929" stop-color="#380040"/><stop offset="0.1966" stop-color="#4b0055"/><stop offset="0.1985" stop-color="#4b0055"/><stop offset="0.2079" stop-color="#770088"/><stop offset="0.2285" stop-color="#870098"/><stop offset="0.2303" stop-color="#58009f"/><stop offset="0.2322" stop-color="#1800a7"/><stop offset="0.2341" stop-color="#0000c1"/><stop offset="0.2378" stop-color="#0000dd"/><stop offset="0.2491" stop-color="#001cdd"/><stop offset="0.2566" stop-color="#0041dd"/><stop offset="0.2640" stop-color="#0054dd"/><stop offset="0.2715" stop-color="#0078dd"/><stop offset="0.3034" stop-color="#009adb"/><stop offset="0.3258" stop-color="#00a6b7"/><stop offset="0.3371" stop-color="#00a8af"/><stop offset="0.3689" stop-color="#00aaab"/><stop offset="0.3970" stop-color="#00aa9d"/><stop offset="0.4139" stop-color="#00aa93"/><stop offset="0.4157" stop-color="#00ca00"/><stop offset="0.4176" stop-color="#00ca00"/><stop offset="0.4195" stop-color="#e4f100"/><stop offset="0.4213" stop-color="#e4f100"/><stop offset="0.4232" stop-color="#00ca00"/><stop offset="0.4251" stop-color="#00ca00"/><stop offset="0.4270" stop-color="#00aa88"/><stop offset="0.4288" stop-color="#00aa88"/><stop offset="0.4307" stop-color="#00a97d"/><stop offset="0.4326" stop-color="#00a97d"/><stop offset="0.4382" stop-color="#00a55d"/><stop offset="0.4401" stop-color="#00a55d"/><stop offset="0.4419" stop-color="#00a353"/><stop offset="0.4438" stop-color="#00a353"/><stop offset="0.4457" stop-color="#00a55d"/><stop offset="0.4476" stop-color="#00a55d"/><stop offset="0.4494" stop-color="#00a353"/><stop offset="0.4513" stop-color="#00a353"/><stop offset="0.4551" stop-color="#00a13d"/><stop offset="0.4663" stop-color="#00a13d"/><stop offset="0.4682" stop-color="#009f33"/><stop offset="0.4700" stop-color="#009f33"/><stop offset="0.4719" stop-color="#009e28"/><stop offset="0.4775" stop-color="#009e28"/><stop offset="0.4794" stop-color="#009f33"/><stop offset="0.4831" stop-color="#009f33"/><stop offset="0.4850" stop-color="#009e28"/><stop offset="0.4869" stop-color="#009e28"/><stop offset="0.4888" stop-color="#009d1d"/><stop offset="0.5000" stop-color="#009d1d"/><stop offset="0.5056" stop-color="#009a00"/><stop offset="0.5262" stop-color="#009a00"/><stop offset="0.5318" stop-color="#009d1d"/><stop offset="0.5412" stop-color="#009d1d"/><stop offset="0.5468" stop-color="#00a13d"/><stop offset="0.5581" stop-color="#00a13d"/><stop offset="0.5637" stop-color="#00a55d"/><stop offset="0.5655" stop-color="#00a55d"/><stop offset="0.5674" stop-color="#00a668"/><stop offset="0.5730" stop-color="#00a668"/><stop offset="0.5749" stop-color="#00a773"/><stop offset="0.5768" stop-color="#00a773"/><stop offset="0.5805" stop-color="#00aa88"/><stop offset="0.6030" stop-color="#00aaa5"/><stop offset="0.6217" stop-color="#009adb"/><stop offset="0.6404" stop-color="#0070dd"/><stop offset="0.6479" stop-color="#0041dd"/><stop offset="0.6592" stop-color="#0041dd"/><stop offset="0.6629" stop-color="#0038dd"/><stop offset="0.6704" stop-color="#002fdd"/><stop offset="0.6742" stop-color="#0025dd"/><stop offset="0.6835" stop-color="#0013dd"/><stop offset="0.6910" stop-color="#0009dd"/><stop offset="0.6948" stop-color="#0000dd"/><stop offset="0.7247" stop-color="#0000bd"/><stop offset="0.7416" stop-color="#0000b1"/><stop offset="0.7434" stop-color="#009c00"/><stop offset="0.7491" stop-color="#009c00"/><stop offset="0.7509" stop-color="#009bd7"/><stop offset="0.7547" stop-color="#009bd7"/><stop offset="0.7566" stop-color="#0025dd"/><stop offset="0.7584" stop-color="#0025dd"/><stop offset="0.7603" stop-color="#00a55d"/><stop offset="0.7678" stop-color="#00a55d"/><stop offset="0.7697" stop-color="#00a668"/><stop offset="0.7809" stop-color="#00a668"/><stop offset="0.7828" stop-color="#009b13"/><stop offset="0.7884" stop-color="#009b13"/><stop offset="0.7903" stop-color="#00aaa8"/><stop offset="0.7959" stop-color="#00aaab"/><stop offset="0.7978" stop-color="#00a200"/><stop offset="0.8090" stop-color="#009f00"/><stop offset="0.8109" stop-color="#00a6b7"/><stop offset="0.8221" stop-color="#00a6b7"/><stop offset="0.8240" stop-color="#0090dd"/><stop offset="0.8258" stop-color="#0090dd"/><stop offset="0.8277" stop-color="#1800a7"/><stop offset="0.8296" stop-color="#83009a"/><stop offset="0.8839" stop-color="#820093"/><stop offset="0.9195" stop-color="#770088"/><stop offset="0.9232" stop-color="#670075"/><stop offset="0.9251" stop-color="#670075"/><stop offset="0.9307" stop-color="#4b0055"/><stop offset="0.9326" stop-color="#4b0055"/><stop offset="0.9382" stop-color="#2f0035"/><stop offset="0.9401" stop-color="#2f0035"/><stop offset="0.9419" stop-color="#25002b"/><stop offset="0.9438" stop-color="#25002b"/><stop offset="0.9476" stop-color="#130015"/><stop offset="0.9513" stop-color="#130015"/><stop offset="0.9532" stop-color="#09000b"/><stop offset="0.9569" stop-color="#09000b"/><stop offset="0.9588" stop-color="#000000"/><stop offset="1.0000" stop-color="#000000"/></linearGradient>
<linearGradient id="g1_15" gradientUnits="userSpaceOnUse" x1="328" x2="595" y1="0" y2="0"><stop offset="0.0000" stop-color="#0098dd"/><stop offset="0.0019" stop-color="#0098dd"/><stop offset="0.0037" stop-color="#25002b"/><stop offset="0.1330" stop-color="#25002b"/><stop offset="0.1348" stop-color="#1c0020"/><stop offset="0.1479" stop-color="#1c0020"/><stop offset="0.1498" stop-color="#25002b"/><stop offset="0.1816" stop-color="#25002b"/><stop offset="0.1835" stop-color="#2f0035"/><stop offset="0.1854" stop-color="#2f0035"/><stop offset="0.1873" stop-color="#380040"/><stop offset="0.1929" stop-color="#380040"/><stop offset="0.1966" stop-color="#4b0055"/><stop offset="0.1985" stop-color="#4b0055"/><stop offset="0.2079" stop-color="#770088"/><stop offset="0.2285" stop-color="#870098"/><stop offset="0.2303" stop-color="#58009f"/><stop offset="0.2322" stop-color="#1800a7"/><stop offset="0.2341" stop-color="#0000bd"/><stop offset="0.2378" stop-color="#0000d9"/><stop offset="0.2472" stop-color="#0000dd"/><stop offset="0.2547" stop-color="#0013dd"/><stop offset="0.2622" stop-color="#001cdd"/><stop offset="0.2697" stop-color="#0038dd"/><stop offset="0.2734" stop-color="#0041dd"/><stop offset="0.2846" stop-color="#0078dd"/><stop offset="0.3184" stop-color="#0098dd"/><stop offset="0.3296" stop-color="#009cd3"/><stop offset="0.3427" stop-color="#009fcb"/><stop offset="0.3539" stop-color="#009fcb"/><stop offset="0.3670" stop-color="#00a0c7"/><stop offset="0.3783" stop-color="#00a4bb"/><stop offset="0.3970" stop-color="#00a8af"/><stop offset="0.4139" stop-color="#00aaa5"/><stop offset="0.4157" stop-color="#00ca00"/><stop offset="0.4176" stop-color="#00ca00"/><stop offset="0.4195" stop-color="#c0fd00"/><stop offset="0.4213" stop-color="#c0fd00"/><stop offset="0.4232" stop-color="#00ca00"/><stop offset="0.4251" stop-color="#00ca00"/><stop offset="0.4270" stop-color="#00aa98"/><stop offset="0.4476" stop-color="#00aa8b"/><stop offset="0.4513" stop-color="#00aa88"/><stop offset="0.4569" stop-color="#00a668"/><stop offset="0.4682" stop-color="#00a668"/><stop offset="0.4719" stop-color="#00a353"/><stop offset="0.4850" stop-color="#00a353"/><stop offset="0.4888" stop-color="#00a13d"/><stop offset="0.5000" stop-color="#00a13d"/><stop offset="0.5075" stop-color="#009b13"/><stop offset="0.5150" stop-color="#009b13"/><stop offset="0.5169" stop-color="#009a08"/><stop offset="0.5225" stop-color="#009a08"/><stop offset="0.5243" stop-color="#009b13"/><stop offset="0.5262" stop-color="#009b13"/><stop offset="0.5337" stop-color="#00a13d"/><stop offset="0.5412" stop-color="#00a13d"/><stop offset="0.5431" stop-color="#00a248"/><stop offset="0.5449" stop-color="#00a248"/><stop offset="0.5487" stop-color="#00a55d"/><stop offset="0.5581" stop-color="#00a55d"/><stop offset="0.5655" stop-color="#00aa88"/><stop offset="0.5824" stop-color="#00aa95"/><stop offset="0.6011" stop-color="#00a8af"/><stop offset="0.6124" stop-color="#009cd3"/><stop offset="0.6180" stop-color="#0095dd"/><stop offset="0.6311" stop-color="#0078dd"/><stop offset="0.6348" stop-color="#0067dd"/><stop offset="0.6386" stop-color="#004bdd"/><stop offset="0.6442" stop-color="#002fdd"/><stop offset="0.6461" stop-color="#001cdd"/><stop offset="0.6517" stop-color="#001cdd"/><stop offset="0.6554" stop-color="#0013dd"/><stop offset="0.6592" stop-color="#0013dd"/><stop offset="0.6629" stop-color="#0009dd"/><stop offset="0.6667" stop-color="#0009dd"/><stop offset="0.6704" stop-color="#0000dd"/><stop offset="0.7135" stop-color="#0000b9"/><stop offset="0.7266" stop-color="#0300aa"/><stop offset="0.7285" stop-color="#0d00a8"/><stop offset="0.7322" stop-color="#0d00a8"/><stop offset="0.7341" stop-color="#1800a7"/><stop offset="0.7397" stop-color="#1800a7"/><stop offset="0.7416" stop-color="#2300a6"/><stop offset="0.7434" stop-color="#009d1d"/><stop offset="0.7491" stop-color="#009d1d"/><stop offset="0.7509" stop-color="#0090dd"/><stop offset="0.7547" stop-color="#0090dd"/><stop offset="0.7566" stop-color="#0000d9"/><stop offset="0.7584" stop-color="#0000d9"/><stop offset="0.7603" stop-color="#00aa8b"/><stop offset="0.7809" stop-color="#00aa8b"/><stop offset="0.7828" stop-color="#00a13d"/><stop offset="0.7884" stop-color="#00a13d"/><stop offset="0.7903" stop-color="#00a6b7"/><stop offset="0.7959" stop-color="#00a6b7"/><stop offset="0.7978" stop-color="#009a08"/><stop offset="0.8090" stop-color="#009a08"/><stop offset="0.8109" stop-color="#00a2c3"/><stop offset="0.8221" stop-color="#00a2c3"/><stop offset="0.8240" stop-color="#0088dd"/><stop offset="0.8258" stop-color="#0088dd"/><stop offset="0.8277" stop-color="#2d00a4"/><stop offset="0.8296" stop-color="#870098"/><stop offset="0.9176" stop-color="#770088"/><stop offset="0.9232" stop-color="#670075"/><stop offset="0.9251" stop-color="#5d006b"/><stop offset="0.9270" stop-color="#5d006b"/><stop offset="0.9326" stop-color="#41004b"/><stop offset="0.9345" stop-color="#41004b"/><stop offset="0.9382" stop-color="#2f0035"/><stop offset="0.9401" stop-color="#2f0035"/><stop offset="0.9438" stop-color="#1c0020"/><stop offset="0.9457" stop-color="#1c0020"/><stop offset="0.9476" stop-color="#130015"/><stop offset="0.9494" stop-color="#130015"/><stop offset="0.9513" stop-color="#09000b"/><stop offset="0.9551" stop-color="#09000b"/><stop offset="0.9569" stop-color="#000000"/><stop offset="1.0000" stop-color="#000000"/></linearGradient>
<linearGradient id="g1_16" gradientUnits="userSpaceOnUse" x1="328" x2="595" y1="0" y2="0"><stop offset="0.0000" stop-color="#00a3bf"/><stop offset="0.0019" stop-color="#00a3bf"/><stop offset="0.0037" stop-color="#25002b"/><stop offset="0.1330" stop-color="#25002b"/><stop offset="0.1348" stop-color="#1c0020"/><stop offset="0.1479" stop-color="#1c0020"/><stop offset="0.1498" stop-color="#25002b"/><stop offset="0.1816" stop-color="#25002b"/><stop offset="0.1835" stop-color="#2f0035"/><stop offset="0.1854" stop-color="#2f0035"/><stop offset="0.1873" stop-color="#380040"/><stop offset="0.1929" stop-color="#380040"/><stop offset="0.1966" stop-color="#4b0055"/><stop offset="0.1985" stop-color="#4b0055"/><stop offset="0.2079" stop-color="#770088"/><stop offset="0.2285" stop-color="#870098"/><stop offset="0.2303" stop-color="#58009f"/><stop offset="0.2322" stop-color="#1800a7"/><stop offset="0.2341" stop-color="#0000bd"/><stop offset="0.2378" stop-color="#0000d9"/><stop offset="0.2491" stop-color="#0000dd"/><stop offset="0.2528" stop-color="#0009dd"/><stop offset="0.2566" stop-color="#0009dd"/><stop offset="0.2603" stop-color="#0013dd"/><stop offset="0.2659" stop-color="#0013dd"/><stop offset="0.2715" stop-color="#002fdd"/><stop offset="0.2753" stop-color="#0038dd"/><stop offset="0.2884" stop-color="#0078dd"/><stop offset="0.3277" stop-color="#009adb"/><stop offset="0.3427" stop-color="#009cd3"/><stop offset="0.3539" stop-color="#009cd3"/><stop offset="0.3670" stop-color="#009ecf"/><stop offset="0.3764" stop-color="#00a2c3"/><stop offset="0.3933" stop-color="#00a6b7"/><stop offset="0.4007" stop-color="#00a6b7"/><stop offset="0.4101" stop-color="#00a8af"/><stop offset="0.4157" stop-color="#00aaab"/><stop offset="0.4176" stop-color="#00bc00"/><stop offset="0.4232" stop-color="#00bc00"/><stop offset="0.4251" stop-color="#00aaa0"/><stop offset="0.4382" stop-color="#00aa95"/><stop offset="0.4663" stop-color="#00aa88"/><stop offset="0.4700" stop-color="#00a773"/><stop offset="0.4719" stop-color="#00a773"/><stop offset="0.4738" stop-color="#00a668"/><stop offset="0.4757" stop-color="#00a668"/><stop offset="0.4775" stop-color="#00a773"/><stop offset="0.4831" stop-color="#00a773"/><stop offset="0.4869" stop-color="#00a55d"/><stop offset="0.4888" stop-color="#00a55d"/><stop offset="0.4906" stop-color="#00a353"/><stop offset="0.5000" stop-color="#00a353"/><stop offset="0.5056" stop-color="#009f33"/><stop offset="0.5075" stop-color="#009f33"/><stop offset="0.5094" stop-color="#009e28"/><stop offset="0.5150" stop-color="#009e28"/><stop offset="0.5169" stop-color="#009d1d"/><stop offset="0.5225" stop-color="#009d1d"/><stop offset="0.5281" stop-color="#00a13d"/><stop offset="0.5300" stop-color="#00a13d"/><stop offset="0.5337" stop-color="#00a353"/><stop offset="0.5412" stop-color="#00a353"/><stop offset="0.5468" stop-color="#00a773"/><stop offset="0.5487" stop-color="#00a773"/><stop offset="0.5506" stop-color="#00a97d"/><stop offset="0.5543" stop-color="#00a97d"/><stop offset="0.5562" stop-color="#00a773"/><stop offset="0.5581" stop-color="#00a97d"/><stop offset="0.5599" stop-color="#00a97d"/><stop offset="0.5637" stop-color="#00aa8b"/><stop offset="0.5936" stop-color="#00aaa5"/><stop offset="0.6067" stop-color="#00a2c3"/><stop offset="0.6142" stop-color="#0098dd"/><stop offset="0.6292" stop-color="#007add"/><stop offset="0.6330" stop-color="#0067dd"/><stop offset="0.6367" stop-color="#004bdd"/><stop offset="0.6423" stop-color="#002fdd"/><stop offset="0.6461" stop-color="#0013dd"/><stop offset="0.6498" stop-color="#0013dd"/><stop offset="0.6536" stop-color="#0009dd"/><stop offset="0.6592" stop-color="#0009dd"/><stop offset="0.6629" stop-color="#0000dd"/><stop offset="0.7172" stop-color="#0000b1"/><stop offset="0.7228" stop-color="#0300aa"/><stop offset="0.7266" stop-color="#1800a7"/><stop offset="0.7322" stop-color="#1800a7"/><stop offset="0.7341" stop-color="#2300a6"/><stop offset="0.7378" stop-color="#2300a6"/><stop offset="0.7397" stop-color="#2d00a4"/><stop offset="0.7416" stop-color="#2d00a4"/><stop offset="0.7434" stop-color="#009e28"/><stop offset="0.7491" stop-color="#009e28"/><stop offset="0.7509" stop-color="#008ddd"/><stop offset="0.7547" stop-color="#008ddd"/><stop offset="0.7566" stop-color="#0000d5"/><stop offset="0.7584" stop-color="#0000d5"/><stop offset="0.7603" stop-color="#00aa8d"/><stop offset="0.7809" stop-color="#00aa8d"/><stop offset="0.7828" stop-color="#00a248"/><stop offset="0.7884" stop-color="#00a248"/><stop offset="0.7903" stop-color="#00a4bb"/><stop offset="0.7959" stop-color="#00a4bb"/><stop offset="0.7978" stop-color="#009b13"/><stop offset="0.8090" stop-color="#009b13"/><stop offset="0.8109" stop-color="#00a0c7"/><stop offset="0.8221" stop-color="#00a0c7"/><stop offset="0.8240" stop-color="#0085dd"/><stop offset="0.8258" stop-color="#0085dd"/><stop offset="0.8277" stop-color="#3800a3"/><stop offset="0.8296" stop-color="#870098"/><stop offset="0.9176" stop-color="#770088"/><stop offset="0.9232" stop-color="#670075"/><stop offset="0.9251" stop-color="#5d006b"/><stop offset="0.9270" stop-color="#5d006b"/><stop offset="0.9326" stop-color="#41004b"/><stop offset="0.9345" stop-color="#41004b"/><stop offset="0.9382" stop-color="#2f0035"/><stop offset="0.9401" stop-color="#2f0035"/><stop offset="0.9438" stop-color="#1c0020"/><stop offset="0.9457" stop-color="#1c0020"/><stop offset="0.9476" stop-color="#130015"/><stop offset="0.9494" stop-color="#130015"/><stop offset="0.9513" stop-color="#09000b"/><stop offset="0.9551" stop-color="#09000b"/><stop offset="0.9569" stop-color="#000000"/><stop offset="1.0000" stop-color="#000000"/></linearGradient>
<linearGradient id="g1_17" gradientUnits="userSpaceOnUse" x1="328" x2="595" y1="0" y2="0"><stop offset="0.0000" stop-color="#0078dd"/><stop offset="0.0019" stop-color="#0078dd"/><stop offset="0.0037" stop-color="#25002b"/><stop offset="0.1330" stop-color="#25002b"/><stop offset="0.1348" stop-color="#1c0020"/><stop offset="0.1479" stop-color="#1c0020"/><stop offset="0.1498" stop-color="#25002b"/><stop offset="0.1816" stop-color="#25002b"/><stop offset="0.1835" stop-color="#2f0035"/><stop offset="0.1854" stop-color="#2f0035"/><stop offset="0.1873" stop-color="#380040"/><stop offset="0.1929" stop-color="#380040"/><stop offset="0.1966" stop-color="#4b0055"/><stop offset="0.1985" stop-color="#4b0055"/><stop offset="0.2079" stop-color="#770088"/><stop offset="0.2285" stop-color="#870098"/><stop offset="0.2303" stop-color="#58009f"/><stop offset="0.2322" stop-color="#1800a7"/><stop offset="0.2341" stop-color="#0000bd"/><stop offset="0.2378" stop-color="#0000d9"/><stop offset="0.2472" stop-color="#0000dd"/><stop offset="0.2509" stop-color="#0009dd"/><stop offset="0.2584" stop-color="#0013dd"/><stop offset="0.2622" stop-color="#001cdd"/><stop offset="0.2659" stop-color="#001cdd"/><stop offset="0.2715" stop-color="#0038dd"/><stop offset="0.2753" stop-color="#0041dd"/><stop offset="0.2865" stop-color="#0078dd"/><stop offset="0.3202" stop-color="#009adb"/><stop offset="0.3427" stop-color="#009ecf"/><stop offset="0.3539" stop-color="#009ecf"/><stop offset="0.3670" stop-color="#009fcb"/><stop offset="0.3783" stop-color="#00a3bf"/><stop offset="0.3914" stop-color="#00a7b3"/><stop offset="0.4007" stop-color="#00a7b3"/><stop offset="0.4176" stop-color="#00aaa5"/><stop offset="0.4195" stop-color="#009a00"/><stop offset="0.4213" stop-color="#009a00"/><stop offset="0.4232" stop-color="#00aaa0"/><stop offset="0.4625" stop-color="#00aa88"/><stop offset="0.4663" stop-color="#00aa88"/><stop offset="0.4700" stop-color="#00a773"/><stop offset="0.4719" stop-color="#00a773"/><stop offset="0.4738" stop-color="#00a668"/><stop offset="0.4757" stop-color="#00a668"/><stop offset="0.4775" stop-color="#00a773"/><stop offset="0.4831" stop-color="#00a773"/><stop offset="0.4869" stop-color="#00a55d"/><stop offset="0.4888" stop-color="#00a55d"/><stop offset="0.4906" stop-color="#00a353"/><stop offset="0.5000" stop-color="#00a353"/><stop offset="0.5056" stop-color="#009f33"/><stop offset="0.5075" stop-color="#009f33"/><stop offset="0.5094" stop-color="#009e28"/><stop offset="0.5150" stop-color="#009e28"/><stop offset="0.5169" stop-color="#009d1d"/><stop offset="0.5206" stop-color="#009d1d"/><stop offset="0.5225" stop-color="#009e28"/><stop offset="0.5243" stop-color="#009e28"/><stop offset="0.5300" stop-color="#00a248"/><stop offset="0.5318" stop-color="#00a248"/><stop offset="0.5337" stop-color="#00a353"/><stop offset="0.5412" stop-color="#00a353"/><stop offset="0.5468" stop-color="#00a773"/><stop offset="0.5487" stop-color="#00a773"/><stop offset="0.5506" stop-color="#00a97d"/><stop offset="0.5599" stop-color="#00a97d"/><stop offset="0.5637" stop-color="#00aa8b"/><stop offset="0.5993" stop-color="#00aaab"/><stop offset="0.6142" stop-color="#009adb"/><stop offset="0.6311" stop-color="#0078dd"/><stop offset="0.6348" stop-color="#005ddd"/><stop offset="0.6423" stop-color="#0038dd"/><stop offset="0.6461" stop-color="#001cdd"/><stop offset="0.6536" stop-color="#0013dd"/><stop offset="0.6573" stop-color="#0013dd"/><stop offset="0.6610" stop-color="#0009dd"/><stop offset="0.6648" stop-color="#0009dd"/><stop offset="0.6685" stop-color="#0000dd"/><stop offset="0.7154" stop-color="#0000b5"/><stop offset="0.7247" stop-color="#0300aa"/><stop offset="0.7266" stop-color="#0d00a8"/><stop offset="0.7303" stop-color="#0d00a8"/><stop offset="0.7322" stop-color="#1800a7"/><stop offset="0.7378" stop-color="#1800a7"/><stop offset="0.7397" stop-color="#2300a6"/><stop offset="0.7416" stop-color="#2300a6"/><stop offset="0.7434" stop-color="#009e28"/><stop offset="0.7491" stop-color="#009e28"/><stop offset="0.7509" stop-color="#0090dd"/><stop offset="0.7547" stop-color="#0090dd"/><stop offset="0.7566" stop-color="#0000d9"/><stop offset="0.7584" stop-color="#0000d9"/><stop offset="0.7603" stop-color="#00aa8b"/><stop offset="0.7809" stop-color="#00aa8b"/><stop offset="0.7828" stop-color="#00a13d"/><stop offset="0.7884" stop-color="#00a13d"/><stop offset="0.7903" stop-color="#00a6b7"/><stop offset="0.7959" stop-color="#00a4bb"/><stop offset="0.7978" stop-color="#009a08"/><stop offset="0.8090" stop-color="#009a08"/><stop offset="0.8109" stop-color="#00a2c3"/><stop offset="0.8221" stop-color="#00a2c3"/><stop offset="0.8240" stop-color="#0088dd"/><stop offset="0.8258" stop-color="#0088dd"/><stop offset="0.8277" stop-color="#2d00a4"/><stop offset="0.8296" stop-color="#870098"/><stop offset="0.9176" stop-color="#770088"/><stop offset="0.9232" stop-color="#670075"/><stop offset="0.9251" stop-color="#5d006b"/><stop offset="0.9270" stop-color="#5d006b"/><stop offset="0.9326" stop-color="#41004b"/><stop offset="0.9345" stop-color="#41004b"/><stop offset="0.9382" stop-color="#2f0035"/><stop offset="0.9401" stop-color="#2f0035"/><stop offset="0.9438" stop-color="#1c0020"/><stop offset="0.9457" stop-color="#1c0020"/><stop offset="0.9476" stop-color="#130015"/><stop offset="0.9494" stop-color="#130015"/><stop offset="0.9513" stop-color="#09000b"/><stop offset="0.9551" stop-color="#09000b"/><stop offset="0.9569" stop-color="#000000"/><stop offset="1.0000" stop-color="#000000"/></linearGradient>
<linearGradient id="g1_18" gradientUnits="userSpaceOnUse" x1="328" x2="595" y1="0" y2="0"><stop offset="0.0000" stop-color="#002fdd"/><stop offset="0.0019" stop-color="#002fdd"/><stop offset="0.0037" stop-color="#25002b"/><stop offset="0.1330" stop-color="#25002b"/><stop offset="0.1348" stop-color="#1c0020"/><stop offset="0.1479" stop-color="#1c0020"/><stop offset="0.1498" stop-color="#25002b"/><stop offset="0.1816" stop-color="#25002b"/><stop offset="0.1835" stop-color="#2f0035"/><stop offset="0.1854" stop-color="#2f0035"/><stop offset="0.1873" stop-color="#380040"/><stop offset="0.1929" stop-color="#380040"/><stop offset="0.1966" stop-color="#4b0055"/><stop offset="0.1985" stop-color="#4b0055"/><stop offset="0.2079" stop-color="#770088"/><stop offset="0.2285" stop-color="#870098"/><stop offset="0.2303" stop-color="#58009f"/><stop offset="0.2322" stop-color="#1800a7"/><stop offset="0.2341" stop-color="#0000bd"/><stop offset="0.2378" stop-color="#0000d9"/><stop offset="0.2453" stop-color="#0000dd"/><stop offset="0.2603" stop-color="#0025dd"/><stop offset="0.2678" stop-color="#0038dd"/><stop offset="0.2753" stop-color="#0054dd"/><stop offset="0.2828" stop-color="#0078dd"/><stop offset="0.2884" stop-color="#0080dd"/><stop offset="0.2903" stop-color="#00a7b3"/><stop offset="0.3071" stop-color="#00a7b3"/><stop offset="0.3090" stop-color="#0092dd"/><stop offset="0.3184" stop-color="#009bd7"/><stop offset="0.3446" stop-color="#00a0c7"/><stop offset="0.3521" stop-color="#00a0c7"/><stop offset="0.3670" stop-color="#00a2c3"/><stop offset="0.3783" stop-color="#00a6b7"/><stop offset="0.3933" stop-color="#00aaab"/><stop offset="0.4176" stop-color="#00aa9d"/><stop offset="0.4195" stop-color="#009a00"/><stop offset="0.4213" stop-color="#009a00"/><stop offset="0.4232" stop-color="#00aa98"/><stop offset="0.4476" stop-color="#00aa88"/><stop offset="0.4494" stop-color="#00aa88"/><stop offset="0.4551" stop-color="#00a668"/><stop offset="0.4569" stop-color="#00a668"/><stop offset="0.4588" stop-color="#00a55d"/><stop offset="0.4607" stop-color="#00a668"/><stop offset="0.4644" stop-color="#00a668"/><stop offset="0.4663" stop-color="#00a55d"/><stop offset="0.4682" stop-color="#00a55d"/><stop offset="0.4700" stop-color="#00a353"/><stop offset="0.4719" stop-color="#00a353"/><stop offset="0.4738" stop-color="#00a248"/><stop offset="0.4757" stop-color="#00a248"/><stop offset="0.4775" stop-color="#00a353"/><stop offset="0.4831" stop-color="#00a353"/><stop offset="0.4869" stop-color="#00a13d"/><stop offset="0.4888" stop-color="#00a13d"/><stop offset="0.4906" stop-color="#009f33"/><stop offset="0.4944" stop-color="#009f33"/><stop offset="0.4963" stop-color="#00a13d"/><stop offset="0.4981" stop-color="#00a13d"/><stop offset="0.5019" stop-color="#009e28"/><stop offset="0.5037" stop-color="#009e28"/><stop offset="0.5075" stop-color="#009b13"/><stop offset="0.5112" stop-color="#009b13"/><stop offset="0.5131" stop-color="#009a08"/><stop offset="0.5243" stop-color="#009a08"/><stop offset="0.5318" stop-color="#009f33"/><stop offset="0.5393" stop-color="#009f33"/><stop offset="0.5412" stop-color="#00a13d"/><stop offset="0.5431" stop-color="#00a13d"/><stop offset="0.5487" stop-color="#00a55d"/><stop offset="0.5581" stop-color="#00a55d"/><stop offset="0.5599" stop-color="#00a668"/><stop offset="0.5618" stop-color="#00a668"/><stop offset="0.5674" stop-color="#00aa88"/><stop offset="0.5805" stop-color="#00aa90"/><stop offset="0.6011" stop-color="#00aaab"/><stop offset="0.6161" stop-color="#009adb"/><stop offset="0.6311" stop-color="#007add"/><stop offset="0.6423" stop-color="#0041dd"/><stop offset="0.6461" stop-color="#0025dd"/><stop offset="0.6536" stop-color="#001cdd"/><stop offset="0.6592" stop-color="#001cdd"/><stop offset="0.6629" stop-color="#0013dd"/><stop offset="0.6704" stop-color="#0009dd"/><stop offset="0.6742" stop-color="#0000dd"/><stop offset="0.7172" stop-color="#0000b9"/><stop offset="0.7303" stop-color="#0300aa"/><stop offset="0.7322" stop-color="#0300aa"/><stop offset="0.7341" stop-color="#0d00a8"/><stop offset="0.7378" stop-color="#0d00a8"/><stop offset="0.7397" stop-color="#1800a7"/><stop offset="0.7416" stop-color="#1800a7"/><stop offset="0.7434" stop-color="#009b13"/><stop offset="0.7491" stop-color="#009b13"/><stop offset="0.7509" stop-color="#0092dd"/><stop offset="0.7547" stop-color="#0092dd"/><stop offset="0.7566" stop-color="#0000dd"/><stop offset="0.7584" stop-color="#0000dd"/><stop offset="0.7603" stop-color="#00aa88"/><stop offset="0.7809" stop-color="#00aa88"/><stop offset="0.7828" stop-color="#009f33"/><stop offset="0.7884" stop-color="#009f33"/><stop offset="0.7903" stop-color="#00a6b7"/><stop offset="0.7959" stop-color="#00a6b7"/><stop offset="0.7978" stop-color="#009a00"/><stop offset="0.8071" stop-color="#009a08"/><stop offset="0.8090" stop-color="#009a08"/><stop offset="0.8109" stop-color="#00a3bf"/><stop offset="0.8221" stop-color="#00a3bf"/><stop offset="0.8240" stop-color="#008add"/><stop offset="0.8258" stop-color="#008add"/><stop offset="0.8277" stop-color="#2d00a4"/><stop offset="0.8296" stop-color="#870098"/><stop offset="0.9176" stop-color="#770088"/><stop offset="0.9232" stop-color="#670075"/><stop offset="0.9251" stop-color="#5d006b"/><stop offset="0.9270" stop-color="#5d006b"/><stop offset="0.9326" stop-color="#41004b"/><stop offset="0.9345" stop-color="#41004b"/><stop offset="0.9382" stop-color="#2f0035"/><stop offset="0.9401" stop-color="#2f0035"/><stop offset="0.9438" stop-color="#1c0020"/><stop offset="0.9457" stop-color="#1c0020"/><stop offset="0.9476" stop-color="#130015"/><stop offset="0.9494" stop-color="#130015"/><stop offset="0.9513" stop-color="#09000b"/><stop offset="0.9551" stop-color="#09000b"/><stop offset="0.9569" stop-color="#000000"/><stop offset="1.0000" stop-color="#000000"/></linearGradient>
<linearGradient id="g1_19" gradientUnits="userSpaceOnUse" x1="328" x2="595" y1="0" y2="0"><stop offset="0.0000" stop-color="#002fdd"/><stop offset="0.0019" stop-color="#002fdd"/><stop offset="0.0037" stop-color="#25002b"/><stop offset="0.2172" stop-color="#25002b"/><stop offset="0.2191" stop-color="#2f0035"/><stop offset="0.2210" stop-color="#2f0035"/><stop offset="0.2228" stop-color="#380040"/><stop offset="0.2266" stop-color="#380040"/><stop offset="0.2285" stop-color="#41004b"/><stop offset="0.8202" stop-color="#41004b"/><stop offset="0.8221" stop-color="#380040"/><stop offset="0.8240" stop-color="#380040"/><stop offset="0.8258" stop-color="#2f0035"/><stop offset="0.8483" stop-color="#2f0035"/><stop offset="0.8502" stop-color="#25002b"/><stop offset="0.9195" stop-color="#25002b"/><stop offset="0.9213" stop-color="#1c0020"/><stop offset="0.9251" stop-color="#1c0020"/><stop offset="0.9270" stop-color="#130015"/><stop offset="0.9307" stop-color="#130015"/><stop offset="0.9326" stop-color="#09000b"/><stop offset="0.9363" stop-color="#09000b"/><stop offset="0.9382" stop-color="#000000"/><stop offset="1.0000" stop-color="#000000"/></linearGradient>
<linearGradient id="g1_20" gradientUnits="userSpaceOnUse" x1="328" x2="595" y1="0" y2="0"><stop offset="0.0000" stop-color="#002fdd"/><stop offset="0.0019" stop-color="#002fdd"/><stop offset="0.0037" stop-color="#25002b"/><stop offset="0.1367" stop-color="#25002b"/><stop offset="0.1386" stop-color="#2f0035"/><stop offset="0.5037" stop-color="#2f0035"/><stop offset="0.5056" stop-color="#25002b"/><stop offset="0.9213" stop-color="#25002b"/><stop offset="0.9232" stop-color="#1c0020"/><stop offset="0.9270" stop-color="#1c0020"/><stop offset="0.9288" stop-color="#130015"/><stop offset="0.9307" stop-color="#130015"/><stop offset="0.9326" stop-color="#09000b"/><stop offset="0.9363" stop-color="#09000b"/><stop offset="0.9382" stop-color="#000000"/><stop offset="1.0000" stop-color="#000000"/></linearGradient>
<linearGradient id="g1_21" gradientUnits="userSpaceOnUse" x1="328" x2="595" y1="0" y2="0"><stop offset="0.0000" stop-color="#009cd3"/><stop offset="0.0019" stop-color="#009cd3"/><stop offset="0.0037" stop-color="#25002b"/><stop offset="0.1648" stop-color="#25002b"/><stop offset="0.1723" stop-color="#4b0055"/><stop offset="0.1742" stop-color="#4b0055"/><stop offset="0.1760" stop-color="#670075"/><stop offset="0.1779" stop-color="#770088"/><stop offset="0.1948" stop-color="#870098"/><stop offset="0.1985" stop-color="#83009a"/><stop offset="0.2004" stop-color="#3800a3"/><stop offset="0.2022" stop-color="#0000b1"/><stop offset="0.2060" stop-color="#0000dd"/><stop offset="0.2097" stop-color="#0041dd"/><stop offset="0.2116" stop-color="#0070dd"/><stop offset="0.2135" stop-color="#0085dd"/><stop offset="0.2228" stop-color="#009adb"/><stop offset="0.2266" stop-color="#009fcb"/><stop offset="0.2285" stop-color="#00a8af"/><stop offset="0.2322" stop-color="#00aa8d"/><stop offset="0.2341" stop-color="#00a248"/><stop offset="0.2360" stop-color="#009b13"/><stop offset="0.2378" stop-color="#009f00"/><stop offset="0.2397" stop-color="#00a200"/><stop offset="0.2416" stop-color="#009a08"/><stop offset="0.2453" stop-color="#009c00"/><stop offset="0.2622" stop-color="#00af00"/><stop offset="0.2772" stop-color="#00cc00"/><stop offset="0.2884" stop-color="#00d700"/><stop offset="0.2978" stop-color="#00da00"/><stop offset="0.3165" stop-color="#00e400"/><stop offset="0.3408" stop-color="#00ea00"/><stop offset="0.3652" stop-color="#00ef00"/><stop offset="0.3876" stop-color="#00f200"/><stop offset="0.3989" stop-color="#00ec00"/><stop offset="0.4251" stop-color="#00f200"/><stop offset="0.4494" stop-color="#00ec00"/><stop offset="0.4738" stop-color="#00ef00"/><stop offset="0.5019" stop-color="#00e700"/><stop offset="0.5225" stop-color="#00dc00"/><stop offset="0.5468" stop-color="#00bf00"/><stop offset="0.5581" stop-color="#00bc00"/><stop offset="0.5936" stop-color="#00a400"/><stop offset="0.6086" stop-color="#009c00"/><stop offset="0.6124" stop-color="#009f00"/><stop offset="0.6161" stop-color="#009a00"/><stop offset="0.6199" stop-color="#009a08"/><stop offset="0.6217" stop-color="#009a08"/><stop offset="0.6236" stop-color="#009b13"/><stop offset="0.6255" stop-color="#009b13"/><stop offset="0.6273" stop-color="#009e28"/><stop offset="0.6292" stop-color="#009f33"/><stop offset="0.6311" stop-color="#00a248"/><stop offset="0.6348" stop-color="#00a55d"/><stop offset="0.6367" stop-color="#00a55d"/><stop offset="0.6386" stop-color="#00a668"/><stop offset="0.6404" stop-color="#00a668"/><stop offset="0.6423" stop-color="#00a773"/><stop offset="0.6442" stop-color="#00aa88"/><stop offset="0.6854" stop-color="#00aaab"/><stop offset="0.7228" stop-color="#0095dd"/><stop offset="0.7434" stop-color="#0088dd"/><stop offset="0.7453" stop-color="#009d1d"/><stop offset="0.7491" stop-color="#009d1d"/><stop offset="0.7509" stop-color="#0088dd"/><stop offset="0.7547" stop-color="#0088dd"/><stop offset="0.7566" stop-color="#00aaa5"/><stop offset="0.7640" stop-color="#00aaa5"/><stop offset="0.7659" stop-color="#009cd3"/><stop offset="0.7734" stop-color="#009bd7"/><stop offset="0.7753" stop-color="#00aaab"/><stop offset="0.7809" stop-color="#00aaab"/><stop offset="0.7828" stop-color="#0085dd"/><stop offset="0.7959" stop-color="#0085dd"/><stop offset="0.7978" stop-color="#00aa90"/><stop offset="0.8052" stop-color="#00aa93"/><stop offset="0.8071" stop-color="#0038dd"/><stop offset="0.8127" stop-color="#0038dd"/><stop offset="0.8146" stop-color="#0085dd"/><stop offset="0.8202" stop-color="#0085dd"/><stop offset="0.8221" stop-color="#0013dd"/><stop offset="0.8258" stop-color="#0013dd"/><stop offset="0.8277" stop-color="#0085dd"/><stop offset="0.8296" stop-color="#0000d1"/><stop offset="0.8633" stop-color="#0000c5"/><stop offset="0.8801" stop-color="#0300aa"/><stop offset="0.8820" stop-color="#0d00a8"/><stop offset="0.8839" stop-color="#2300a6"/><stop offset="0.8876" stop-color="#3800a3"/><stop offset="0.8895" stop-color="#4d00a0"/><stop offset="0.8914" stop-color="#58009f"/><stop offset="0.8933" stop-color="#6d009c"/><stop offset="0.8970" stop-color="#870098"/><stop offset="0.9213" stop-color="#770088"/><stop offset="0.9270" stop-color="#5d006b"/><stop offset="0.9288" stop-color="#4b0055"/><stop offset="0.9345" stop-color="#2f0035"/><stop offset="0.9363" stop-color="#1c0020"/><stop offset="0.9382" stop-color="#1c0020"/><stop offset="0.9419" stop-color="#09000b"/><stop offset="0.9438" stop-color="#09000b"/><stop offset="0.9457" stop-color="#000000"/><stop offset="1.0000" stop-color="#000000"/></linearGradient>
</defs>
<rect width="640" height="440" fill="#fff"/>
<g clip-path="url(#cp0)">
<rect x="48" y="28.00" width="267" height="17.90" fill="url(#g0_0)"/>
<rect x="48" y="44.70" width="267" height="17.90" fill="url(#g0_1)"/>
<rect x="48" y="61.41" width="267" height="17.90" fill="url(#g0_2)"/>
<rect x="48" y="78.11" width="267" height="17.90" fill="url(#g0_3)"/>
<rect x="48" y="94.82" width="267" height="17.90" fill="url(#g0_4)"/>
<rect x="48" y="111.52" width="267" height="17.90" fill="url(#g0_5)"/>
<rect x="48" y="128.23" width="267" height="17.90" fill="url(#g0_6)"/>
<rect x="48" y="144.93" width="267" height="17.90" fill="url(#g0_7)"/>
<rect x="48" y="161.64" width="267" height="17.90" fill="url(#g0_8)"/>
<rect x="48" y="178.34" width="267" height="17.90" fill="url(#g0_9)"/>
<rect x="48" y="195.05" width="267" height="17.90" fill="url(#g0_10)"/>
<rect x="48" y="211.75" width="267" height="17.90" fill="url(#g0_11)"/>
<rect x="48" y="228.45" width="267" height="17.90" fill="url(#g0_12)"/>
<rect x="48" y="245.16" width="267" height="17.90" fill="url(#g0_13)"/>
<rect x="48" y="261.86" width="267" height="17.90" fill="url(#g0_14)"/>
<rect x="48" y="278.57" width="267" height="17.90" fill="url(#g0_15)"/>
<rect x="48" y="295.27" width="267" height="17.90" fill="url(#g0_16)"/>
<rect x="48" y="311.98" width="267" height="17.90" fill="url(#g0_17)"/>
<rect x="48" y="328.68" width="267" height="17.90" fill="url(#g0_18)"/>
<rect x="48" y="345.39" width="267" height="17.90" fill="url(#g0_19)"/>
<rect x="48" y="362.09" width="267" height="17.90" fill="url(#g0_20)"/>
<rect x="48" y="378.80" width="267" height="17.90" fill="url(#g0_21)"/>
<g fill="none" stroke="#fff" stroke-width="1.9" stroke-linejoin="round" stroke-linecap="round">
<path d="M48.0 228.9 49.3 268.9 50.4 298.9 52.0 301.6 53.0 301.6 54.0 301.6 55.0 301.6 56.0 301.6 57.0 301.6 58.0 301.6 59.0 301.6 60.0 301.6 61.0 301.6 62.0 301.6 63.0 301.6 64.0 301.6 65.0 301.6 66.0 301.6 67.0 301.6 68.0 301.6 69.0 301.6 70.0 301.6 71.0 301.6 72.0 301.6 73.0 301.6 74.0 301.6 75.0 301.6 76.0 301.6 77.0 301.6 78.0 301.6 79.0 301.6 80.0 301.6 81.0 301.6 82.0 301.6 83.0 301.6 84.0 301.6 85.0 301.6 86.0 301.6 87.0 301.6 88.0 301.6 89.0 301.6 90.0 301.6 91.0 301.6 92.0 301.6 93.0 301.6 94.0 301.6 95.0 301.6 96.0 301.6 97.0 301.6 98.0 301.6 99.0 301.5 100.0 301.4 101.0 301.2 102.0 301.1 103.0 300.9 104.0 300.3 105.0 299.6 106.0 298.5 107.0 297.2 108.0 295.6 109.0 293.6 110.0 290.8 111.0 287.6 112.0 283.8 113.0 279.6 114.0 274.9 115.0 270.1 116.0 265.5 117.0 261.1 118.0 257.0 119.0 253.1 120.0 248.9 121.0 245.1 122.0 242.2 123.0 239.6 124.0 236.7 125.0 234.1 126.0 231.9 127.0 230.0 128.0 228.0 129.0 225.9 130.0 224.1 131.0 222.6 132.0 221.3 133.0 220.1 134.0 219.1 135.0 218.0 136.0 217.0 137.0 216.0 138.0 215.1 139.0 214.3 140.0 213.6 141.0 212.9 142.0 212.4 143.0 211.9 144.0 211.5 145.0 211.0 146.0 210.6 147.0 210.1 148.0 209.5 149.0 208.8 150.0 208.2 151.0 207.6 152.0 207.1 153.0 206.6 154.0 206.2 155.0 205.8 156.0 205.4 157.0 204.9 158.0 204.4 159.0 204.0 160.0 203.6 161.0 203.2 162.0 203.0 163.0 202.6 164.0 201.6 165.0 200.6 166.0 199.7 167.0 198.8 168.0 198.1 169.0 197.4 170.0 196.9 171.0 196.3 172.0 195.6 173.0 194.4 174.0 192.8 175.0 191.6 176.0 190.6 177.0 189.9 178.0 189.2 179.0 188.4 180.0 187.6 181.0 186.4 182.0 185.2 183.0 184.1 184.0 182.9 185.0 181.7 186.0 180.9 187.0 180.9 188.0 182.3 189.0 183.6 190.0 184.0 191.0 184.3 192.0 184.5 193.0 184.7 194.0 184.8 195.0 184.9 196.0 185.6 197.0 188.3 198.0 190.7 199.0 193.2 200.0 195.6 201.0 197.7 202.0 199.8 203.0 201.9 204.0 203.9 205.0 206.0 206.0 208.1 207.0 210.3 208.0 212.6 209.0 214.8 210.0 217.1 211.0 219.3 212.0 221.7 213.0 224.1 214.0 226.4 215.0 228.6 216.0 230.6 217.0 232.4 218.0 234.1 219.0 235.7 220.0 237.1 221.0 238.5 222.0 239.8 223.0 241.0 224.0 242.0 225.0 243.1 226.0 244.1 227.0 245.2 228.0 246.4 229.0 247.7 230.0 249.0 231.0 250.3 232.0 251.7 233.0 253.0 234.0 254.3 235.0 255.6 236.0 256.7 237.0 257.9 238.0 259.0 239.0 260.2 240.0 261.3 241.0 262.4 242.0 263.5 243.0 264.6 244.0 265.7 245.0 266.8 245.5 267.4"/>
<path d="M48.0 228.9 49.3 268.9 50.4 298.9 52.0 301.5 53.0 301.5 54.0 301.5 55.0 301.5 56.0 301.5 57.0 301.5 58.0 301.5 59.0 301.5 60.0 301.5 61.0 301.5 62.0 301.5 63.0 301.5 64.0 301.5 65.0 301.5 66.0 301.5 67.0 301.5 68.0 301.5 69.0 301.5 70.0 301.5 71.0 301.5 72.0 301.5 73.0 301.5 74.0 301.5 75.0 301.5 76.0 301.5 77.0 301.5 78.0 301.5 79.0 301.5 80.0 301.5 81.0 301.5 82.0 301.5 83.0 301.5 84.0 301.5 85.0 301.5 86.0 301.5 87.0 301.5 88.0 301.5 89.0 301.5 90.0 301.5 91.0 301.5 92.0 301.5 93.0 301.5 94.0 301.5 95.0 301.5 96.0 301.5 97.0 301.5 98.0 301.5 99.0 301.5 100.0 301.3 101.0 301.1 102.0 300.9 103.0 300.6 104.0 300.0 105.0 299.1 106.0 297.9 107.0 296.3 108.0 294.5 109.0 292.1 110.0 289.2 111.0 285.7 112.0 281.6 113.0 277.2 114.0 272.5 115.0 267.7 116.0 263.1 117.0 258.7 118.0 254.7 119.0 250.8 120.0 246.8 121.0 243.0 122.0 240.2 123.0 237.6 124.0 234.8 125.0 232.2 126.0 230.1 127.0 228.2 128.0 226.3 129.0 224.3 130.0 222.5 131.0 221.1 132.0 219.9 133.0 218.8 134.0 217.7 135.0 216.7 136.0 215.8 137.0 214.8 138.0 214.0 139.0 213.2 140.0 212.5 141.0 211.9 142.0 211.4 143.0 211.0 144.0 210.5 145.0 210.1 146.0 209.6 147.0 209.1 148.0 208.5 149.0 207.9 150.0 207.2 151.0 206.6 152.0 206.1 153.0 205.6 154.0 205.2 155.0 204.8 156.0 204.3 157.0 203.9 158.0 203.4 159.0 203.0 160.0 202.6 161.0 202.3 162.0 202.0 163.0 201.5 164.0 200.7 165.0 199.6 166.0 198.7 167.0 197.9 168.0 197.2 169.0 196.5 170.0 196.0 171.0 195.4 172.0 194.7 173.0 193.5 174.0 192.0 175.0 190.7 176.0 189.8 177.0 189.1 178.0 188.4 179.0 187.7 180.0 186.9 181.0 185.8 182.0 184.6 183.0 183.4 184.0 182.3 185.0 181.2 186.0 180.4 187.0 180.4 188.0 181.8 189.0 183.0 190.0 183.4 191.0 183.8 192.0 184.1 193.0 184.3 194.0 184.4 195.0 184.6 196.0 185.3 197.0 187.8 198.0 190.2 199.0 192.7 200.0 195.1 201.0 197.3 202.0 199.4 203.0 201.4 204.0 203.4 205.0 205.4 206.0 207.5 207.0 209.7 208.0 211.9 209.0 214.2 210.0 216.4 211.0 218.7 212.0 221.0 213.0 223.3 214.0 225.6 215.0 227.8 216.0 229.8 217.0 231.7 218.0 233.4 219.0 235.1 220.0 236.6 221.0 238.0 222.0 239.4 223.0 240.5 224.0 241.6 225.0 242.6 226.0 243.6 227.0 244.7 228.0 245.9 229.0 247.2 230.0 248.5 231.0 249.9 232.0 251.2 233.0 252.6 234.0 253.9 235.0 255.1 236.0 256.3 237.0 257.5 238.0 258.7 239.0 259.8 240.0 260.9 241.0 262.0 242.0 263.1 243.0 264.2 244.0 265.3 245.0 266.4 245.5 266.9"/>
<path d="M48.0 228.9 49.3 268.9 50.4 298.9 52.0 301.5 53.0 301.5 54.0 301.5 55.0 301.5 56.0 301.5 57.0 301.5 58.0 301.5 59.0 301.5 60.0 301.5 61.0 301.5 62.0 301.5 63.0 301.5 64.0 301.5 65.0 301.5 66.0 301.5 67.0 301.5 68.0 301.5 69.0 301.5 70.0 301.5 71.0 301.5 72.0 301.5 73.0 301.5 74.0 301.5 75.0 301.5 76.0 301.5 77.0 301.5 78.0 301.5 79.0 301.5 80.0 301.5 81.0 301.5 82.0 301.5 83.0 301.5 84.0 301.5 85.0 301.5 86.0 301.5 87.0 301.5 88.0 301.5 89.0 301.5 90.0 301.5 91.0 301.5 92.0 301.5 93.0 301.5 94.0 301.5 95.0 301.5 96.0 301.5 97.0 301.5 98.0 301.5 99.0 301.4 100.0 301.2 101.0 301.0 102.0 300.7 103.0 300.3 104.0 299.6 105.0 298.6 106.0 297.2 107.0 295.4 108.0 293.3 109.0 290.7 110.0 287.5 111.0 283.8 112.0 279.5 113.0 274.8 114.0 270.1 115.0 265.3 116.0 260.7 117.0 256.4 118.0 252.4 119.0 248.6 120.0 244.7 121.0 241.0 122.0 238.2 123.0 235.6 124.0 232.8 125.0 230.3 126.0 228.2 127.0 226.4 128.0 224.5 129.0 222.7 130.0 221.0 131.0 219.7 132.0 218.5 133.0 217.4 134.0 216.4 135.0 215.5 136.0 214.6 137.0 213.7 138.0 212.9 139.0 212.2 140.0 211.5 141.0 210.9 142.0 210.5 143.0 210.0 144.0 209.6 145.0 209.2 146.0 208.7 147.0 208.2 148.0 207.6 149.0 207.0 150.0 206.3 151.0 205.6 152.0 205.1 153.0 204.6 154.0 204.2 155.0 203.7 156.0 203.3 157.0 202.9 158.0 202.5 159.0 202.0 160.0 201.6 161.0 201.3 162.0 201.0 163.0 200.5 164.0 199.7 165.0 198.6 166.0 197.8 167.0 197.0 168.0 196.3 169.0 195.7 170.0 195.2 171.0 194.6 172.0 193.9 173.0 192.7 174.0 191.1 175.0 189.9 176.0 189.0 177.0 188.3 178.0 187.7 179.0 187.0 180.0 186.2 181.0 185.2 182.0 184.0 183.0 182.8 184.0 181.7 185.0 180.6 186.0 179.9 187.0 179.9 188.0 181.2 189.0 182.4 190.0 182.9 191.0 183.3 192.0 183.6 193.0 183.9 194.0 184.1 195.0 184.3 196.0 185.0 197.0 187.4 198.0 189.7 199.0 192.3 200.0 194.7 201.0 196.9 202.0 198.9 203.0 200.9 204.0 202.8 205.0 204.8 206.0 206.9 207.0 209.1 208.0 211.3 209.0 213.5 210.0 215.7 211.0 218.0 212.0 220.3 213.0 222.6 214.0 224.9 215.0 227.0 216.0 229.1 217.0 230.9 218.0 232.7 219.0 234.5 220.0 236.1 221.0 237.6 222.0 238.9 223.0 240.1 224.0 241.1 225.0 242.1 226.0 243.2 227.0 244.2 228.0 245.4 229.0 246.7 230.0 248.0 231.0 249.4 232.0 250.8 233.0 252.1 234.0 253.5 235.0 254.7 236.0 255.9 237.0 257.1 238.0 258.3 239.0 259.4 240.0 260.5 241.0 261.6 242.0 262.7 243.0 263.8 244.0 264.9 245.0 266.0 245.5 266.5"/>
<path d="M48.0 228.9 49.3 268.9 50.4 298.9 52.0 301.5 53.0 301.5 54.0 301.5 55.0 301.5 56.0 301.5 57.0 301.5 58.0 301.5 59.0 301.5 60.0 301.5 61.0 301.5 62.0 301.5 63.0 301.5 64.0 301.5 65.0 301.5 66.0 301.5 67.0 301.5 68.0 301.5 69.0 301.5 70.0 301.5 71.0 301.5 72.0 301.5 73.0 301.5 74.0 301.5 75.0 301.5 76.0 301.5 77.0 301.5 78.0 301.5 79.0 301.5 80.0 301.5 81.0 301.5 82.0 301.5 83.0 301.5 84.0 301.5 85.0 301.5 86.0 301.5 87.0 301.5 88.0 301.5 89.0 301.5 90.0 301.5 91.0 301.5 92.0 301.5 93.0 301.5 94.0 301.5 95.0 301.5 96.0 301.5 97.0 301.5 98.0 301.5 99.0 301.4 100.0 301.2 101.0 300.9 102.0 300.5 103.0 300.0 104.0 299.2 105.0 298.1 106.0 296.5 107.0 294.5 108.0 292.2 109.0 289.3 110.0 285.9 111.0 281.9 112.0 277.3 113.0 272.5 114.0 267.7 115.0 262.9 116.0 258.4 117.0 254.1 118.0 250.2 119.0 246.4 120.0 242.6 121.0 239.0 122.0 236.2 123.0 233.6 124.0 230.9 125.0 228.4 126.0 226.3 127.0 224.5 128.0 222.8 129.0 221.0 130.0 219.5 131.0 218.3 132.0 217.1 133.0 216.1 134.0 215.1 135.0 214.2 136.0 213.4 137.0 212.6 138.0 211.8 139.0 211.1 140.0 210.5 141.0 210.0 142.0 209.5 143.0 209.1 144.0 208.6 145.0 208.2 146.0 207.8 147.0 207.3 148.0 206.7 149.0 206.0 150.0 205.3 151.0 204.7 152.0 204.1 153.0 203.6 154.0 203.2 155.0 202.7 156.0 202.3 157.0 201.9 158.0 201.5 159.0 201.1 160.0 200.7 161.0 200.3 162.0 200.0 163.0 199.5 164.0 198.7 165.0 197.7 166.0 196.9 167.0 196.1 168.0 195.4 169.0 194.8 170.0 194.3 171.0 193.7 172.0 193.0 173.0 191.8 174.0 190.3 175.0 189.0 176.0 188.2 177.0 187.5 178.0 186.9 179.0 186.3 180.0 185.5 181.0 184.5 182.0 183.3 183.0 182.2 184.0 181.2 185.0 180.1 186.0 179.3 187.0 179.3 188.0 180.6 189.0 181.8 190.0 182.4 191.0 182.8 192.0 183.2 193.0 183.5 194.0 183.7 195.0 183.9 196.0 184.6 197.0 186.9 198.0 189.2 199.0 191.8 200.0 194.3 201.0 196.4 202.0 198.4 203.0 200.4 204.0 202.3 205.0 204.3 206.0 206.3 207.0 208.5 208.0 210.7 209.0 212.9 210.0 215.1 211.0 217.3 212.0 219.6 213.0 221.9 214.0 224.1 215.0 226.3 216.0 228.3 217.0 230.2 218.0 232.1 219.0 233.9 220.0 235.6 221.0 237.1 222.0 238.5 223.0 239.7 224.0 240.7 225.0 241.7 226.0 242.7 227.0 243.8 228.0 244.9 229.0 246.2 230.0 247.6 231.0 249.0 232.0 250.3 233.0 251.7 234.0 253.1 235.0 254.3 236.0 255.5 237.0 256.7 238.0 257.9 239.0 259.0 240.0 260.1 241.0 261.2 242.0 262.3 243.0 263.4 244.0 264.5 245.0 265.6 245.5 266.1"/>
<path d="M48.0 228.9 49.3 268.9 50.4 298.9 52.0 301.5 53.0 301.5 54.0 301.5 55.0 301.5 56.0 301.5 57.0 301.5 58.0 301.5 59.0 301.5 60.0 301.5 61.0 301.5 62.0 301.5 63.0 301.5 64.0 301.5 65.0 301.5 66.0 301.5 67.0 301.5 68.0 301.5 69.0 301.5 70.0 301.5 71.0 301.5 72.0 301.5 73.0 301.5 74.0 301.5 75.0 301.5 76.0 301.5 77.0 301.5 78.0 301.5 79.0 301.5 80.0 301.5 81.0 301.5 82.0 301.5 83.0 301.5 84.0 301.5 85.0 301.5 86.0 301.5 87.0 301.5 88.0 301.5 89.0 301.5 90.0 301.5 91.0 301.5 92.0 301.5 93.0 301.5 94.0 301.5 95.0 301.5 96.0 301.5 97.0 301.5 98.0 301.5 99.0 301.4 100.0 301.1 101.0 300.8 102.0 300.3 103.0 299.8 104.0 298.9 105.0 297.6 106.0 295.9 107.0 293.6 108.0 291.0 109.0 287.9 110.0 284.2 111.0 280.0 112.0 275.2 113.0 270.1 114.0 265.3 115.0 260.5 116.0 256.0 117.0 251.8 118.0 247.9 119.0 244.2 120.0 240.5 121.0 237.0 122.0 234.3 123.0 231.7 124.0 229.0 125.0 226.5 126.0 224.5 127.0 222.7 128.0 221.1 129.0 219.4 130.0 218.0 131.0 216.8 132.0 215.7 133.0 214.7 134.0 213.8 135.0 213.0 136.0 212.2 137.0 211.4 138.0 210.7 139.0 210.0 140.0 209.5 141.0 209.0 142.0 208.5 143.0 208.1 144.0 207.7 145.0 207.3 146.0 206.9 147.0 206.4 148.0 205.8 149.0 205.1 150.0 204.4 151.0 203.7 152.0 203.1 153.0 202.6 154.0 202.2 155.0 201.7 156.0 201.3 157.0 200.9 158.0 200.5 159.0 200.1 160.0 199.7 161.0 199.4 162.0 199.0 163.0 198.5 164.0 197.7 165.0 196.7 166.0 195.9 167.0 195.2 168.0 194.5 169.0 193.9 170.0 193.4 171.0 192.9 172.0 192.2 173.0 191.0 174.0 189.4 175.0 188.2 176.0 187.4 177.0 186.8 178.0 186.2 179.0 185.6 180.0 184.9 181.0 183.9 182.0 182.7 183.0 181.6 184.0 180.6 185.0 179.5 186.0 178.8 187.0 178.8 188.0 180.1 189.0 181.3 190.0 181.8 191.0 182.3 192.0 182.7 193.0 183.1 194.0 183.3 195.0 183.6 196.0 184.3 197.0 186.4 198.0 188.7 199.0 191.3 200.0 193.9 201.0 196.0 202.0 198.0 203.0 199.9 204.0 201.7 205.0 203.7 206.0 205.7 207.0 207.9 208.0 210.1 209.0 212.3 210.0 214.4 211.0 216.6 212.0 218.9 213.0 221.1 214.0 223.4 215.0 225.5 216.0 227.5 217.0 229.4 218.0 231.4 219.0 233.3 220.0 235.0 221.0 236.7 222.0 238.0 223.0 239.2 224.0 240.3 225.0 241.2 226.0 242.2 227.0 243.3 228.0 244.5 229.0 245.8 230.0 247.1 231.0 248.5 232.0 249.9 233.0 251.3 234.0 252.6 235.0 253.9 236.0 255.1 237.0 256.3 238.0 257.5 239.0 258.6 240.0 259.7 241.0 260.8 242.0 261.9 243.0 263.0 244.0 264.1 245.0 265.2 245.5 265.7"/>
<path d="M48.0 228.9 49.3 268.9 50.4 298.9 52.0 301.5 53.0 301.5 54.0 301.5 55.0 301.5 56.0 301.5 57.0 301.5 58.0 301.5 59.0 301.5 60.0 301.5 61.0 301.5 62.0 301.5 63.0 301.5 64.0 301.5 65.0 301.5 66.0 301.5 67.0 301.5 68.0 301.5 69.0 301.5 70.0 301.5 71.0 301.5 72.0 301.5 73.0 301.5 74.0 301.5 75.0 301.5 76.0 301.5 77.0 301.5 78.0 301.5 79.0 301.5 80.0 301.5 81.0 301.5 82.0 301.5 83.0 301.5 84.0 301.5 85.0 301.5 86.0 301.5 87.0 301.5 88.0 301.5 89.0 301.5 90.0 301.5 91.0 301.5 92.0 301.5 93.0 301.5 94.0 301.5 95.0 301.5 96.0 301.5 97.0 301.5 98.0 301.5 99.0 301.4 100.0 301.0 101.0 300.6 102.0 300.1 103.0 299.4 104.0 298.5 105.0 297.1 106.0 295.1 107.0 292.6 108.0 289.7 109.0 286.3 110.0 282.3 111.0 277.8 112.0 272.7 113.0 267.5 114.0 262.5 115.0 257.8 116.0 253.3 117.0 249.1 118.0 245.3 119.0 241.7 120.0 238.1 121.0 234.8 122.0 232.0 123.0 229.4 124.0 226.7 125.0 224.3 126.0 222.3 127.0 220.6 128.0 219.1 129.0 217.6 130.0 216.3 131.0 215.2 132.0 214.1 133.0 213.2 134.0 212.4 135.0 211.6 136.0 210.8 137.0 210.1 138.0 209.4 139.0 208.8 140.0 208.3 141.0 207.8 142.0 207.4 143.0 207.0 144.0 206.6 145.0 206.2 146.0 205.8 147.0 205.3 148.0 204.7 149.0 204.0 150.0 203.3 151.0 202.6 152.0 202.0 153.0 201.5 154.0 201.0 155.0 200.6 156.0 200.2 157.0 199.8 158.0 199.4 159.0 199.0 160.0 198.7 161.0 198.3 162.0 197.9 163.0 197.4 164.0 196.6 165.0 195.7 166.0 194.9 167.0 194.2 168.0 193.5 169.0 192.9 170.0 192.4 171.0 191.9 172.0 191.2 173.0 190.0 174.0 188.4 175.0 187.2 176.0 186.5 177.0 185.9 178.0 185.3 179.0 184.8 180.0 184.1 181.0 183.1 182.0 182.0 183.0 181.0 184.0 179.9 185.0 178.9 186.0 178.2 187.0 178.2 188.0 179.4 189.0 180.6 190.0 181.2 191.0 181.8 192.0 182.2 193.0 182.6 194.0 182.9 195.0 183.2 196.0 183.9 197.0 185.9 198.0 188.1 199.0 190.8 200.0 193.4 201.0 195.5 202.0 197.4 203.0 199.3 204.0 201.1 205.0 203.0 206.0 205.1 207.0 207.2 208.0 209.3 209.0 211.5 210.0 213.7 211.0 215.9 212.0 218.1 213.0 220.3 214.0 222.5 215.0 224.6 216.0 226.6 217.0 228.6 218.0 230.6 219.0 232.6 220.0 234.4 221.0 236.1 222.0 237.5 223.0 238.7 224.0 239.7 225.0 240.7 226.0 241.7 227.0 242.7 228.0 243.9 229.0 245.2 230.0 246.6 231.0 248.0 232.0 249.4 233.0 250.8 234.0 252.2 235.0 253.4 236.0 254.7 237.0 255.9 238.0 257.0 239.0 258.2 240.0 259.3 241.0 260.4 242.0 261.5 243.0 262.6 244.0 263.7 245.0 264.7 245.5 265.2"/>
<path d="M48.0 228.9 49.3 268.9 50.4 298.9 52.0 301.5 53.0 301.5 54.0 301.5 55.0 301.5 56.0 301.5 57.0 301.5 58.0 301.5 59.0 301.5 60.0 301.5 61.0 301.5 62.0 301.5 63.0 301.5 64.0 301.5 65.0 301.5 66.0 301.5 67.0 301.5 68.0 301.5 69.0 301.5 70.0 301.5 71.0 301.5 72.0 301.5 73.0 301.5 74.0 301.5 75.0 301.5 76.0 301.5 77.0 301.5 78.0 301.5 79.0 301.5 80.0 301.5 81.0 301.5 82.0 301.5 83.0 301.5 84.0 301.5 85.0 301.5 86.0 301.5 87.0 301.5 88.0 301.5 89.0 301.5 90.0 301.5 91.0 301.5 92.0 301.5 93.0 301.5 94.0 301.5 95.0 301.5 96.0 301.5 97.0 301.5 98.0 301.5 99.0 301.3 100.0 300.9 101.0 300.5 102.0 299.8 103.0 299.1 104.0 297.9 105.0 296.4 106.0 294.1 107.0 291.3 108.0 288.1 109.0 284.3 110.0 280.0 111.0 275.1 112.0 269.6 113.0 264.1 114.0 259.1 115.0 254.4 116.0 249.9 117.0 245.8 118.0 242.0 119.0 238.5 120.0 235.1 121.0 231.9 122.0 229.2 123.0 226.6 124.0 224.0 125.0 221.6 126.0 219.7 127.0 218.0 128.0 216.6 129.0 215.3 130.0 214.1 131.0 213.1 132.0 212.1 133.0 211.3 134.0 210.5 135.0 209.8 136.0 209.1 137.0 208.5 138.0 207.9 139.0 207.3 140.0 206.8 141.0 206.4 142.0 206.0 143.0 205.6 144.0 205.3 145.0 204.9 146.0 204.5 147.0 204.0 148.0 203.4 149.0 202.7 150.0 201.9 151.0 201.2 152.0 200.6 153.0 200.0 154.0 199.6 155.0 199.1 156.0 198.7 157.0 198.4 158.0 198.0 159.0 197.7 160.0 197.3 161.0 196.9 162.0 196.5 163.0 196.0 164.0 195.2 165.0 194.3 166.0 193.6 167.0 192.9 168.0 192.3 169.0 191.7 170.0 191.2 171.0 190.7 172.0 190.0 173.0 188.8 174.0 187.2 175.0 186.0 176.0 185.3 177.0 184.8 178.0 184.3 179.0 183.8 180.0 183.1 181.0 182.2 182.0 181.1 183.0 180.1 184.0 179.1 185.0 178.1 186.0 177.4 187.0 177.4 188.0 178.6 189.0 179.8 190.0 180.5 191.0 181.1 192.0 181.6 193.0 182.0 194.0 182.4 195.0 182.7 196.0 183.4 197.0 185.2 198.0 187.4 199.0 190.2 200.0 192.8 201.0 194.9 202.0 196.8 203.0 198.6 204.0 200.4 205.0 202.2 206.0 204.2 207.0 206.3 208.0 208.5 209.0 210.6 210.0 212.8 211.0 214.9 212.0 217.1 213.0 219.2 214.0 221.4 215.0 223.5 216.0 225.5 217.0 227.5 218.0 229.6 219.0 231.7 220.0 233.7 221.0 235.5 222.0 236.9 223.0 238.1 224.0 239.1 225.0 240.0 226.0 241.0 227.0 242.0 228.0 243.2 229.0 244.5 230.0 245.9 231.0 247.3 232.0 248.8 233.0 250.2 234.0 251.6 235.0 252.9 236.0 254.1 237.0 255.3 238.0 256.5 239.0 257.6 240.0 258.7 241.0 259.8 242.0 260.9 243.0 262.0 244.0 263.1 245.0 264.1 245.5 264.6"/>
<path d="M48.0 228.9 49.3 268.9 50.4 298.9 52.0 301.5 53.0 301.5 54.0 301.5 55.0 301.5 56.0 301.5 57.0 301.5 58.0 301.5 59.0 301.5 60.0 301.5 61.0 301.5 62.0 301.5 63.0 301.5 64.0 301.5 65.0 301.5 66.0 301.5 67.0 301.5 68.0 301.5 69.0 301.5 70.0 301.5 71.0 301.5 72.0 301.5 73.0 301.5 74.0 301.5 75.0 301.5 76.0 301.5 77.0 301.5 78.0 301.5 79.0 301.5 80.0 301.5 81.0 301.5 82.0 301.5 83.0 301.5 84.0 301.5 85.0 301.5 86.0 301.5 87.0 301.5 88.0 301.5 89.0 301.5 90.0 301.5 91.0 301.5 92.0 301.5 93.0 301.5 94.0 301.5 95.0 301.5 96.0 301.5 97.0 301.5 98.0 301.5 99.0 301.3 100.0 300.8 101.0 300.2 102.0 299.5 103.0 298.5 104.0 297.2 105.0 295.4 106.0 292.8 107.0 289.5 108.0 285.8 109.0 281.5 110.0 276.6 111.0 271.3 112.0 265.3 113.0 259.4 114.0 254.3 115.0 249.6 116.0 245.2 117.0 241.2 118.0 237.5 119.0 234.1 120.0 230.9 121.0 227.9 122.0 225.2 123.0 222.7 124.0 220.1 125.0 217.8 126.0 215.9 127.0 214.3 128.0 213.1 129.0 212.0 130.0 211.1 131.0 210.2 132.0 209.4 133.0 208.6 134.0 207.9 135.0 207.3 136.0 206.7 137.0 206.2 138.0 205.7 139.0 205.2 140.0 204.8 141.0 204.4 142.0 204.0 143.0 203.7 144.0 203.4 145.0 203.0 146.0 202.6 147.0 202.2 148.0 201.6 149.0 200.8 150.0 200.0 151.0 199.2 152.0 198.6 153.0 198.0 154.0 197.6 155.0 197.1 156.0 196.7 157.0 196.4 158.0 196.0 159.0 195.7 160.0 195.4 161.0 195.0 162.0 194.5 163.0 194.0 164.0 193.2 165.0 192.4 166.0 191.7 167.0 191.1 168.0 190.5 169.0 190.0 170.0 189.5 171.0 189.0 172.0 188.3 173.0 187.1 174.0 185.5 175.0 184.3 176.0 183.7 177.0 183.2 178.0 182.8 179.0 182.4 180.0 181.8 181.0 180.9 182.0 179.9 183.0 178.9 184.0 178.0 185.0 177.0 186.0 176.4 187.0 176.4 188.0 177.5 189.0 178.7 190.0 179.4 191.0 180.1 192.0 180.7 193.0 181.2 194.0 181.6 195.0 182.0 196.0 182.7 197.0 184.3 198.0 186.3 199.0 189.3 200.0 191.9 201.0 194.0 202.0 195.8 203.0 197.6 204.0 199.3 205.0 201.1 206.0 203.0 207.0 205.1 208.0 207.2 209.0 209.3 210.0 211.5 211.0 213.6 212.0 215.7 213.0 217.8 214.0 219.9 215.0 222.0 216.0 224.0 217.0 226.1 218.0 228.3 219.0 230.5 220.0 232.7 221.0 234.5 222.0 236.0 223.0 237.2 224.0 238.2 225.0 239.1 226.0 240.0 227.0 241.1 228.0 242.3 229.0 243.6 230.0 245.0 231.0 246.4 232.0 247.9 233.0 249.3 234.0 250.7 235.0 252.0 236.0 253.3 237.0 254.5 238.0 255.7 239.0 256.8 240.0 257.9 241.0 259.1 242.0 260.1 243.0 261.2 244.0 262.3 245.0 263.3 245.5 263.8"/>
<path d="M48.0 228.9 49.3 268.9 50.4 298.9 52.0 301.5 53.0 301.5 54.0 301.5 55.0 301.5 56.0 301.5 57.0 301.5 58.0 301.5 59.0 301.5 60.0 301.5 61.0 301.5 62.0 301.5 63.0 301.5 64.0 301.5 65.0 301.5 66.0 301.5 67.0 301.5 68.0 301.5 69.0 301.5 70.0 301.5 71.0 301.5 72.0 301.5 73.0 301.5 74.0 301.5 75.0 301.5 76.0 301.5 77.0 301.5 78.0 301.5 79.0 301.5 80.0 301.5 81.0 301.5 82.0 301.5 83.0 301.5 84.0 301.5 85.0 301.5 86.0 301.5 87.0 301.5 88.0 301.5 89.0 301.5 90.0 301.5 91.0 301.5 92.0 301.5 93.0 301.5 94.0 301.5 95.0 301.5 96.0 301.5 97.0 301.5 98.0 301.5 99.0 301.2 100.0 300.6 101.0 299.9 102.0 299.0 103.0 297.8 104.0 296.3 105.0 294.2 106.0 291.1 107.0 287.2 108.0 282.8 109.0 277.9 110.0 272.4 111.0 266.4 112.0 259.7 113.0 253.3 114.0 248.1 115.0 243.5 116.0 239.2 117.0 235.2 118.0 231.7 119.0 228.4 120.0 225.5 121.0 222.7 122.0 220.1 123.0 217.6 124.0 215.1 125.0 212.9 126.0 211.1 127.0 209.6 128.0 208.6 129.0 207.9 130.0 207.2 131.0 206.5 132.0 205.8 133.0 205.1 134.0 204.5 135.0 204.1 136.0 203.6 137.0 203.2 138.0 202.9 139.0 202.5 140.0 202.2 141.0 201.8 142.0 201.5 143.0 201.2 144.0 200.9 145.0 200.6 146.0 200.3 147.0 199.8 148.0 199.2 149.0 198.5 150.0 197.6 151.0 196.7 152.0 196.1 153.0 195.5 154.0 195.0 155.0 194.5 156.0 194.1 157.0 193.8 158.0 193.5 159.0 193.3 160.0 192.9 161.0 192.5 162.0 192.0 163.0 191.4 164.0 190.7 165.0 189.9 166.0 189.3 167.0 188.8 168.0 188.2 169.0 187.7 170.0 187.3 171.0 186.8 172.0 186.1 173.0 184.9 174.0 183.3 175.0 182.1 176.0 181.6 177.0 181.2 178.0 180.9 179.0 180.5 180.0 180.1 181.0 179.3 182.0 178.3 183.0 177.3 184.0 176.5 185.0 175.6 186.0 175.0 187.0 175.0 188.0 176.1 189.0 177.2 190.0 178.0 191.0 178.8 192.0 179.5 193.0 180.1 194.0 180.7 195.0 181.2 196.0 181.9 197.0 183.1 198.0 185.0 199.0 188.1 200.0 190.9 201.0 192.9 202.0 194.6 203.0 196.3 204.0 197.9 205.0 199.6 206.0 201.5 207.0 203.5 208.0 205.6 209.0 207.7 210.0 209.8 211.0 211.8 212.0 213.9 213.0 215.9 214.0 217.9 215.0 220.0 216.0 222.0 217.0 224.2 218.0 226.5 219.0 229.0 220.0 231.3 221.0 233.4 222.0 234.9 223.0 236.1 224.0 237.1 225.0 237.9 226.0 238.8 227.0 239.8 228.0 241.0 229.0 242.3 230.0 243.8 231.0 245.2 232.0 246.7 233.0 248.2 234.0 249.7 235.0 251.0 236.0 252.2 237.0 253.5 238.0 254.6 239.0 255.8 240.0 256.9 241.0 258.0 242.0 259.1 243.0 260.2 244.0 261.2 245.0 262.3 245.5 262.7"/>
<path d="M48.0 228.9 49.3 268.9 50.4 298.9 52.0 301.4 53.0 301.4 54.0 301.4 55.0 301.4 56.0 301.4 57.0 301.4 58.0 301.4 59.0 301.4 60.0 301.4 61.0 301.4 62.0 301.4 63.0 301.4 64.0 301.4 65.0 301.4 66.0 301.4 67.0 301.4 68.0 301.4 69.0 301.4 70.0 301.4 71.0 301.4 72.0 301.4 73.0 301.4 74.0 301.4 75.0 301.4 76.0 301.4 77.0 301.4 78.0 301.4 79.0 301.4 80.0 301.4 81.0 301.4 82.0 301.4 83.0 301.4 84.0 301.4 85.0 301.4 86.0 301.4 87.0 301.4 88.0 301.4 89.0 301.4 90.0 301.4 91.0 301.4 92.0 301.4 93.0 301.4 94.0 301.4 95.0 301.4 96.0 301.4 97.0 301.4 98.0 301.4 99.0 301.1 100.0 300.4 101.0 299.6 102.0 298.4 103.0 296.9 104.0 295.1 105.0 292.6 106.0 289.0 107.0 284.3 108.0 279.2 109.0 273.4 110.0 267.2 111.0 260.4 112.0 253.0 113.0 245.9 114.0 240.6 115.0 235.9 116.0 231.7 117.0 227.9 118.0 224.5 119.0 221.4 120.0 218.9 121.0 216.4 122.0 213.9 123.0 211.4 124.0 209.0 125.0 206.9 126.0 205.2 127.0 203.9 128.0 203.2 129.0 202.8 130.0 202.4 131.0 202.0 132.0 201.4 133.0 200.9 134.0 200.4 135.0 200.1 136.0 199.9 137.0 199.6 138.0 199.4 139.0 199.2 140.0 198.9 141.0 198.7 142.0 198.5 143.0 198.2 144.0 198.0 145.0 197.7 146.0 197.3 147.0 196.9 148.0 196.4 149.0 195.5 150.0 194.6 151.0 193.7 152.0 192.9 153.0 192.4 154.0 191.8 155.0 191.3 156.0 190.9 157.0 190.7 158.0 190.5 159.0 190.2 160.0 189.9 161.0 189.5 162.0 188.9 163.0 188.2 164.0 187.6 165.0 186.9 166.0 186.4 167.0 185.9 168.0 185.4 169.0 185.0 170.0 184.6 171.0 184.1 172.0 183.4 173.0 182.2 174.0 180.6 175.0 179.4 176.0 179.0 177.0 178.8 178.0 178.6 179.0 178.3 180.0 177.9 181.0 177.3 182.0 176.3 183.0 175.4 184.0 174.7 185.0 173.9 186.0 173.4 187.0 173.4 188.0 174.3 189.0 175.4 190.0 176.4 191.0 177.3 192.0 178.1 193.0 178.9 194.0 179.5 195.0 180.1 196.0 180.8 197.0 181.6 198.0 183.4 199.0 186.6 200.0 189.5 201.0 191.5 202.0 193.2 203.0 194.7 204.0 196.2 205.0 197.8 206.0 199.6 207.0 201.6 208.0 203.6 209.0 205.7 210.0 207.8 211.0 209.7 212.0 211.7 213.0 213.6 214.0 215.5 215.0 217.5 216.0 219.6 217.0 221.8 218.0 224.4 219.0 227.1 220.0 229.7 221.0 231.9 222.0 233.5 223.0 234.7 224.0 235.6 225.0 236.5 226.0 237.3 227.0 238.3 228.0 239.5 229.0 240.8 230.0 242.3 231.0 243.8 232.0 245.4 233.0 246.9 234.0 248.3 235.0 249.7 236.0 251.0 237.0 252.2 238.0 253.4 239.0 254.6 240.0 255.7 241.0 256.8 242.0 257.9 243.0 259.0 244.0 260.0 245.0 261.0 245.5 261.4"/>
<path d="M268.6 280.9 269.6 281.5 270.6 282.0 271.6 282.5 272.6 283.1 273.6 283.7 274.6 284.3 275.6 284.8 276.6 285.2 277.6 285.5 278.6 285.8 279.6 286.0 280.6 286.3 281.6 286.7 282.6 287.1 283.6 287.8 284.6 288.6 285.6 289.6 286.6 290.7 287.6 292.0 288.6 293.4 289.6 294.8 290.6 296.0 291.6 297.2 292.6 298.4 293.6 299.4 294.6 300.3 295.6 301.2 296.6 302.0 297.6 302.6 298.6 303.2 299.6 303.7 300.6 304.2 301.6 304.6 302.6 304.9 303.6 305.1 304.6 305.3 305.6 305.4 306.6 305.5 307.6 305.6 308.6 305.7 309.6 305.8 310.6 305.8 311.6 305.9 312.6 305.9 313.6 305.9 314.6 305.9 315.0 306.0"/>
<path d="M268.6 280.5 269.6 281.0 270.6 281.5 271.6 282.0 272.6 282.6 273.6 283.2 274.6 283.8 275.6 284.3 276.6 284.7 277.6 285.1 278.6 285.4 279.6 285.6 280.6 285.9 281.6 286.3 282.6 286.7 283.6 287.4 284.6 288.2 285.6 289.2 286.6 290.3 287.6 291.6 288.6 293.1 289.6 294.5 290.6 295.8 291.6 297.0 292.6 298.2 293.6 299.2 294.6 300.2 295.6 301.1 296.6 301.9 297.6 302.5 298.6 303.1 299.6 303.7 300.6 304.1 301.6 304.5 302.6 304.8 303.6 305.0 304.6 305.2 305.6 305.3 306.6 305.4 307.6 305.5 308.6 305.6 309.6 305.7 310.6 305.7 311.6 305.8 312.6 305.8 313.6 305.8 314.6 305.9 315.0 305.9"/>
<path d="M268.6 280.1 269.6 280.6 270.6 281.1 271.6 281.5 272.6 282.1 273.6 282.7 274.6 283.3 275.6 283.8 276.6 284.3 277.6 284.6 278.6 284.9 279.6 285.2 280.6 285.5 281.6 285.9 282.6 286.3 283.6 287.0 284.6 287.8 285.6 288.8 286.6 289.9 287.6 291.2 288.6 292.7 289.6 294.2 290.6 295.5 291.6 296.7 292.6 298.0 293.6 299.1 294.6 300.1 295.6 301.0 296.6 301.8 297.6 302.5 298.6 303.1 299.6 303.6 300.6 304.1 301.6 304.5 302.6 304.7 303.6 304.9 304.6 305.1 305.6 305.3 306.6 305.4 307.6 305.5 308.6 305.5 309.6 305.6 310.6 305.6 311.6 305.7 312.6 305.7 313.6 305.8 314.6 305.8 315.0 305.8"/>
<path d="M268.6 279.7 269.6 280.1 270.6 280.6 271.6 281.1 272.6 281.6 273.6 282.2 274.6 282.8 275.6 283.4 276.6 283.8 277.6 284.2 278.6 284.5 279.6 284.8 280.6 285.1 281.6 285.5 282.6 285.9 283.6 286.6 284.6 287.5 285.6 288.4 286.6 289.5 287.6 290.9 288.6 292.4 289.6 293.8 290.6 295.2 291.6 296.5 292.6 297.8 293.6 298.9 294.6 299.9 295.6 300.9 296.6 301.7 297.6 302.4 298.6 303.0 299.6 303.6 300.6 304.0 301.6 304.4 302.6 304.7 303.6 304.9 304.6 305.0 305.6 305.2 306.6 305.3 307.6 305.4 308.6 305.4 309.6 305.5 310.6 305.6 311.6 305.6 312.6 305.6 313.6 305.7 314.6 305.7 315.0 305.7"/>
<path d="M268.6 279.3 269.6 279.7 270.6 280.1 271.6 280.6 272.6 281.1 273.6 281.7 274.6 282.3 275.6 282.9 276.6 283.4 277.6 283.7 278.6 284.1 279.6 284.4 280.6 284.7 281.6 285.1 282.6 285.6 283.6 286.2 284.6 287.1 285.6 288.0 286.6 289.1 287.6 290.5 288.6 292.0 289.6 293.5 290.6 294.9 291.6 296.3 292.6 297.6 293.6 298.7 294.6 299.8 295.6 300.8 296.6 301.6 297.6 302.3 298.6 302.9 299.6 303.5 300.6 304.0 301.6 304.4 302.6 304.6 303.6 304.8 304.6 305.0 305.6 305.1 306.6 305.2 307.6 305.3 308.6 305.4 309.6 305.4 310.6 305.5 311.6 305.5 312.6 305.6 313.6 305.6 314.6 305.6 315.0 305.6"/>
<path d="M268.6 278.8 269.6 279.2 270.6 279.6 271.6 280.0 272.6 280.5 273.6 281.1 274.6 281.8 275.6 282.3 276.6 282.8 277.6 283.2 278.6 283.6 279.6 283.9 280.6 284.2 281.6 284.6 282.6 285.1 283.6 285.8 284.6 286.6 285.6 287.6 286.6 288.7 287.6 290.1 288.6 291.6 289.6 293.2 290.6 294.6 291.6 296.0 292.6 297.3 293.6 298.5 294.6 299.6 295.6 300.6 296.6 301.5 297.6 302.3 298.6 302.9 299.6 303.4 300.6 303.9 301.6 304.3 302.6 304.5 303.6 304.7 304.6 304.9 305.6 305.0 306.6 305.1 307.6 305.2 308.6 305.3 309.6 305.3 310.6 305.4 311.6 305.4 312.6 305.5 313.6 305.5 314.6 305.5 315.0 305.5"/>
<path d="M268.6 278.2 269.6 278.5 270.6 278.9 271.6 279.3 272.6 279.8 273.6 280.4 274.6 281.1 275.6 281.7 276.6 282.2 277.6 282.6 278.6 282.9 279.6 283.3 280.6 283.6 281.6 284.1 282.6 284.6 283.6 285.2 284.6 286.1 285.6 287.0 286.6 288.1 287.6 289.5 288.6 291.1 289.6 292.7 290.6 294.2 291.6 295.6 292.6 297.0 293.6 298.3 294.6 299.4 295.6 300.5 296.6 301.4 297.6 302.2 298.6 302.8 299.6 303.3 300.6 303.8 301.6 304.2 302.6 304.5 303.6 304.6 304.6 304.8 305.6 304.9 306.6 305.0 307.6 305.1 308.6 305.1 309.6 305.2 310.6 305.2 311.6 305.3 312.6 305.3 313.6 305.4 314.6 305.4 315.0 305.4"/>
<path d="M268.6 277.3 269.6 277.6 270.6 277.9 271.6 278.3 272.6 278.8 273.6 279.4 274.6 280.1 275.6 280.7 276.6 281.3 277.6 281.7 278.6 282.1 279.6 282.4 280.6 282.8 281.6 283.3 282.6 283.8 283.6 284.5 284.6 285.3 285.6 286.3 286.6 287.4 287.6 288.8 288.6 290.4 289.6 292.1 290.6 293.6 291.6 295.1 292.6 296.6 293.6 298.0 294.6 299.1 295.6 300.3 296.6 301.3 297.6 302.0 298.6 302.6 299.6 303.2 300.6 303.7 301.6 304.1 302.6 304.3 303.6 304.5 304.6 304.6 305.6 304.7 306.6 304.8 307.6 304.9 308.6 305.0 309.6 305.0 310.6 305.1 311.6 305.1 312.6 305.2 313.6 305.2 314.6 305.2 315.0 305.2"/>
<path d="M268.6 276.3 269.6 276.4 270.6 276.7 271.6 277.0 272.6 277.5 273.6 278.2 274.6 278.9 275.6 279.5 276.6 280.1 277.6 280.5 278.6 281.0 279.6 281.4 280.6 281.8 281.6 282.3 282.6 282.8 283.6 283.5 284.6 284.3 285.6 285.2 286.6 286.3 287.6 287.8 288.6 289.5 289.6 291.3 290.6 292.9 291.6 294.5 292.6 296.1 293.6 297.5 294.6 298.8 295.6 300.0 296.6 301.0 297.6 301.8 298.6 302.5 299.6 303.1 300.6 303.6 301.6 303.9 302.6 304.2 303.6 304.3 304.6 304.4 305.6 304.5 306.6 304.6 307.6 304.7 308.6 304.7 309.6 304.8 310.6 304.9 311.6 304.9 312.6 304.9 313.6 305.0 314.6 305.0 315.0 305.0"/>
<path d="M268.6 274.9 269.6 275.0 270.6 275.2 271.6 275.5 272.6 275.9 273.6 276.6 274.6 277.3 275.6 278.1 276.6 278.6 277.6 279.1 278.6 279.6 279.6 280.0 280.6 280.5 281.6 281.0 282.6 281.6 283.6 282.3 284.6 283.1 285.6 284.0 286.6 285.1 287.6 286.6 288.6 288.4 289.6 290.3 290.6 292.0 291.6 293.7 292.6 295.4 293.6 297.0 294.6 298.4 295.6 299.7 296.6 300.8 297.6 301.6 298.6 302.3 299.6 302.9 300.6 303.4 301.6 303.7 302.6 304.0 303.6 304.1 304.6 304.2 305.6 304.3 306.6 304.4 307.6 304.4 308.6 304.5 309.6 304.5 310.6 304.6 311.6 304.6 312.6 304.7 313.6 304.7 314.6 304.7 315.0 304.7"/>
<path d="M123.6 216 L124.7 189.8 L126.8 212 L129.0 191 L130.6 210"/>
</g>
<g fill="none" stroke="#fff" stroke-width="2.5" stroke-linejoin="round" stroke-linecap="round">
<path d="M149.7 200 L150.4 108.3 L151.1 200"/>
<path d="M157.2 198 L158.1 87.8 L159.2 160 L160.2 192 L161.2 127.5 L162.0 198"/>
<path d="M158.0 200 L158.6 140 L160.5 200"/>
</g>
<polygon fill="#fff" points="245.2,268.0 245.6,240.0 245.9,215.0 246.3,166.5 249.5,166.5 250.1,200.0 251.3,183.5 252.5,183.5 253.6,212.7 255.9,212.7 257.3,169.0 259.6,168.0 260.5,186.0 261.6,171.5 263.6,171.5 264.4,196.0 264.4,229.8 266.0,229.8 266.0,216.7 269.1,216.7 269.6,273.5 271.5,274.5 270.0,281.0 268.7,282.0 266.6,276.0 266.5,257.0 265.0,256.0 264.8,258.0 262.8,258.0 262.6,243.0 262.0,243.0 261.8,264.0 259.5,264.0 258.5,258.0 255.5,258.0 255.3,250.0 253.7,242.0 252.0,250.0 251.5,267.0 248.0,267.0 247.6,258.0 247.0,258.0 247.0,268.0"/>
<g fill="#fff" font-size="14.4" font-family="Liberation Sans, sans-serif">
<rect x="69.6" y="43.10" width="5.0" height="1.2"/>
<text x="79.6" y="48.9" textLength="16.5" lengthAdjust="spacingAndGlyphs">25</text>
<text x="301.7" y="48.9" textLength="16.5" lengthAdjust="spacingAndGlyphs">25</text>
<rect x="69.6" y="91.15" width="5.0" height="1.2"/>
<text x="79.6" y="97.0" textLength="16.5" lengthAdjust="spacingAndGlyphs">20</text>
<text x="301.7" y="97.0" textLength="16.5" lengthAdjust="spacingAndGlyphs">20</text>
<rect x="69.6" y="139.20" width="5.0" height="1.2"/>
<text x="79.6" y="145.0" textLength="16.5" lengthAdjust="spacingAndGlyphs">15</text>
<text x="301.7" y="145.0" textLength="16.5" lengthAdjust="spacingAndGlyphs">15</text>
<rect x="69.6" y="187.25" width="5.0" height="1.2"/>
<text x="79.6" y="193.0" textLength="16.5" lengthAdjust="spacingAndGlyphs">10</text>
<text x="301.7" y="193.0" textLength="16.5" lengthAdjust="spacingAndGlyphs">10</text>
<rect x="69.6" y="235.30" width="5.0" height="1.2"/>
<text x="79.6" y="241.1" textLength="8.1" lengthAdjust="spacingAndGlyphs">5</text>
<text x="310.1" y="241.1" textLength="8.1" lengthAdjust="spacingAndGlyphs">5</text>
<rect x="69.6" y="283.35" width="5.0" height="1.2"/>
<text x="79.6" y="289.1" textLength="8.1" lengthAdjust="spacingAndGlyphs">0</text>
<text x="310.1" y="289.1" textLength="8.1" lengthAdjust="spacingAndGlyphs">0</text>
</g>
</g>
<g clip-path="url(#cp1)">
<rect x="328" y="28.00" width="267" height="17.90" fill="url(#g1_0)"/>
<rect x="328" y="44.70" width="267" height="17.90" fill="url(#g1_0)"/>
<rect x="328" y="61.41" width="267" height="17.90" fill="url(#g1_2)"/>
<rect x="328" y="78.11" width="267" height="17.90" fill="url(#g1_3)"/>
<rect x="328" y="94.82" width="267" height="17.90" fill="url(#g1_4)"/>
<rect x="328" y="111.52" width="267" height="17.90" fill="url(#g1_5)"/>
<rect x="328" y="128.23" width="267" height="17.90" fill="url(#g1_6)"/>
<rect x="328" y="144.93" width="267" height="17.90" fill="url(#g1_5)"/>
<rect x="328" y="161.64" width="267" height="17.90" fill="url(#g1_8)"/>
<rect x="328" y="178.34" width="267" height="17.90" fill="url(#g1_9)"/>
<rect x="328" y="195.05" width="267" height="17.90" fill="url(#g1_10)"/>
<rect x="328" y="211.75" width="267" height="17.90" fill="url(#g1_10)"/>
<rect x="328" y="228.45" width="267" height="17.90" fill="url(#g1_12)"/>
<rect x="328" y="245.16" width="267" height="17.90" fill="url(#g1_13)"/>
<rect x="328" y="261.86" width="267" height="17.90" fill="url(#g1_14)"/>
<rect x="328" y="278.57" width="267" height="17.90" fill="url(#g1_15)"/>
<rect x="328" y="295.27" width="267" height="17.90" fill="url(#g1_16)"/>
<rect x="328" y="311.98" width="267" height="17.90" fill="url(#g1_17)"/>
<rect x="328" y="328.68" width="267" height="17.90" fill="url(#g1_18)"/>
<rect x="328" y="345.39" width="267" height="17.90" fill="url(#g1_19)"/>
<rect x="328" y="362.09" width="267" height="17.90" fill="url(#g1_20)"/>
<rect x="328" y="378.80" width="267" height="17.90" fill="url(#g1_21)"/>
<g fill="none" stroke="#fff" stroke-width="1.9" stroke-linejoin="round" stroke-linecap="round">
<path d="M328.0 179.9 329.5 250.9 330.6 298.9 332.0 301.7 333.0 301.7 334.0 301.7 335.0 301.8 336.0 301.8 337.0 301.8 338.0 301.9 339.0 301.9 340.0 301.9 341.0 301.9 342.0 302.0 343.0 302.0 344.0 302.0 345.0 302.0 346.0 302.0 347.0 302.0 348.0 302.1 349.0 302.1 350.0 302.1 351.0 302.1 352.0 302.1 353.0 302.1 354.0 302.1 355.0 302.1 356.0 302.1 357.0 302.1 358.0 302.1 359.0 302.1 360.0 302.1 361.0 302.1 362.0 302.1 363.0 302.1 364.0 302.1 365.0 302.1 366.0 302.1 367.0 302.1 368.0 302.1 369.0 302.1 370.0 302.1 371.0 302.1 372.0 302.1 373.0 302.1 374.0 302.1 375.0 302.1 376.0 302.1 377.0 302.1 378.0 302.1 379.0 302.0 380.0 301.8 381.0 301.5 382.0 301.1 383.0 300.5 384.0 299.7 385.0 297.4 386.0 293.5 387.0 289.6 388.0 285.8 389.0 282.1 390.0 278.7 391.0 275.5 392.0 272.1 393.0 268.0 394.0 264.3 395.0 261.0 396.0 258.0 397.0 255.3 398.0 252.8 399.0 250.1 400.0 247.2 401.0 244.6 402.0 242.2 403.0 240.0 404.0 238.2 405.0 236.5 406.0 235.1 407.0 233.8 408.0 232.6 409.0 231.3 410.0 230.1 411.0 228.9 412.0 227.8 413.0 226.8 414.0 225.9 415.0 225.1 416.0 224.3 417.0 223.5 418.0 222.9 419.0 222.3 420.0 221.8 421.0 221.2 422.0 220.7 423.0 220.1 424.0 219.6 425.0 219.0 426.0 218.4 427.0 217.7 428.0 217.0 429.0 216.2 430.0 215.4 431.0 214.6 432.0 213.8 433.0 213.0 434.0 212.1 435.0 211.1 436.0 210.0 437.0 209.2 438.0 208.7 439.0 208.3 440.0 207.9 441.0 207.4 442.0 206.9 443.0 206.3 444.0 205.6 445.0 204.9 446.0 204.1 447.0 203.2 448.0 202.1 449.0 200.8 450.0 198.8 451.0 196.9 452.0 195.6 453.0 194.6 454.0 193.6 455.0 192.4 456.0 191.3 457.0 190.3 458.0 189.3 459.0 189.1 460.0 190.0 461.0 191.3 462.0 192.5 463.0 192.5 464.0 190.6 465.0 188.2 466.0 186.6 467.0 187.1 468.0 188.7 469.0 190.6 470.0 192.5 471.0 194.0 472.0 193.9 473.0 193.5 474.0 193.0 475.0 192.8 476.0 193.7 477.0 195.9 478.0 199.6 479.0 201.9 480.0 203.1 481.0 205.6 482.0 208.9 483.0 211.4 484.0 213.5 485.0 215.6 486.0 217.9 487.0 220.4 488.0 222.7 489.0 224.9 490.0 227.1 491.0 229.0 492.0 230.8 493.0 232.6 494.0 234.5 495.0 236.6 496.0 238.4 497.0 240.3 498.0 242.0 499.0 243.7 500.0 245.3 501.0 246.7 502.0 248.0 503.0 249.2 504.0 250.4 505.0 251.5 506.0 252.5 507.0 253.6 508.0 254.6 509.0 255.6 510.0 256.6 511.0 257.6 512.0 258.6 513.0 259.6 514.0 260.5 515.0 261.5 516.0 262.4 517.0 263.5 518.0 264.7 519.0 265.8 520.0 266.6 521.0 267.1 522.0 267.6 523.0 268.0 524.0 268.3 525.0 268.5 525.5 268.6"/>
<path d="M328.0 179.9 329.5 250.9 330.6 298.9 332.0 301.6 333.0 301.7 334.0 301.7 335.0 301.7 336.0 301.8 337.0 301.8 338.0 301.8 339.0 301.9 340.0 301.9 341.0 301.9 342.0 301.9 343.0 302.0 344.0 302.0 345.0 302.0 346.0 302.0 347.0 302.0 348.0 302.0 349.0 302.0 350.0 302.0 351.0 302.0 352.0 302.0 353.0 302.0 354.0 302.0 355.0 302.0 356.0 302.0 357.0 302.0 358.0 302.0 359.0 302.0 360.0 302.0 361.0 302.0 362.0 302.0 363.0 302.0 364.0 302.0 365.0 302.0 366.0 302.0 367.0 302.0 368.0 302.0 369.0 302.0 370.0 302.0 371.0 302.0 372.0 302.0 373.0 302.0 374.0 302.0 375.0 302.0 376.0 302.0 377.0 302.0 378.0 302.0 379.0 301.9 380.0 301.7 381.0 301.3 382.0 300.8 383.0 300.0 384.0 299.0 385.0 296.7 386.0 292.8 387.0 288.8 388.0 285.0 389.0 281.3 390.0 277.8 391.0 274.5 392.0 271.0 393.0 266.9 394.0 263.2 395.0 259.9 396.0 256.8 397.0 254.0 398.0 251.5 399.0 248.8 400.0 246.0 401.0 243.4 402.0 241.0 403.0 238.8 404.0 236.9 405.0 235.2 406.0 233.6 407.0 232.3 408.0 231.1 409.0 229.8 410.0 228.6 411.0 227.6 412.0 226.8 413.0 225.8 414.0 225.0 415.0 224.1 416.0 223.3 417.0 222.6 418.0 221.9 419.0 221.4 420.0 220.8 421.0 220.3 422.0 219.8 423.0 219.2 424.0 218.7 425.0 218.1 426.0 217.5 427.0 216.8 428.0 216.0 429.0 215.1 430.0 214.2 431.0 213.4 432.0 212.6 433.0 211.8 434.0 211.0 435.0 210.0 436.0 209.0 437.0 208.1 438.0 207.6 439.0 207.3 440.0 206.9 441.0 206.4 442.0 205.9 443.0 205.4 444.0 204.8 445.0 204.1 446.0 203.3 447.0 202.4 448.0 201.3 449.0 200.1 450.0 198.2 451.0 196.4 452.0 195.1 453.0 194.1 454.0 193.1 455.0 191.9 456.0 190.8 457.0 189.8 458.0 189.0 459.0 188.8 460.0 189.7 461.0 190.9 462.0 192.0 463.0 191.9 464.0 190.0 465.0 187.7 466.0 186.1 467.0 186.6 468.0 188.2 469.0 190.1 470.0 192.0 471.0 193.5 472.0 193.4 473.0 193.0 474.0 192.6 475.0 192.4 476.0 193.2 477.0 195.4 478.0 198.9 479.0 201.3 480.0 202.6 481.0 205.1 482.0 208.3 483.0 210.8 484.0 212.8 485.0 214.9 486.0 217.2 487.0 219.6 488.0 221.9 489.0 224.2 490.0 226.3 491.0 228.3 492.0 230.2 493.0 232.0 494.0 234.0 495.0 236.0 496.0 237.9 497.0 239.7 498.0 241.5 499.0 243.1 500.0 244.7 501.0 246.1 502.0 247.4 503.0 248.6 504.0 249.8 505.0 250.9 506.0 252.0 507.0 253.1 508.0 254.2 509.0 255.2 510.0 256.2 511.0 257.2 512.0 258.2 513.0 259.2 514.0 260.2 515.0 261.1 516.0 262.1 517.0 263.1 518.0 264.3 519.0 265.4 520.0 266.1 521.0 266.7 522.0 267.2 523.0 267.6 524.0 268.0 525.0 268.2 525.5 268.2"/>
<path d="M328.0 179.9 329.5 250.9 330.6 298.9 332.0 301.6 333.0 301.6 334.0 301.7 335.0 301.7 336.0 301.7 337.0 301.8 338.0 301.8 339.0 301.8 340.0 301.9 341.0 301.9 342.0 301.9 343.0 301.9 344.0 301.9 345.0 302.0 346.0 302.0 347.0 302.0 348.0 302.0 349.0 302.0 350.0 302.0 351.0 302.0 352.0 302.0 353.0 302.0 354.0 302.0 355.0 302.0 356.0 302.0 357.0 302.0 358.0 302.0 359.0 302.0 360.0 302.0 361.0 302.0 362.0 302.0 363.0 302.0 364.0 302.0 365.0 302.0 366.0 302.0 367.0 302.0 368.0 302.0 369.0 302.0 370.0 302.0 371.0 302.0 372.0 302.0 373.0 302.0 374.0 302.0 375.0 302.0 376.0 302.0 377.0 302.0 378.0 302.0 379.0 301.9 380.0 301.6 381.0 301.2 382.0 300.5 383.0 299.6 384.0 298.4 385.0 296.0 386.0 292.1 387.0 288.1 388.0 284.3 389.0 280.5 390.0 277.0 391.0 273.6 392.0 269.9 393.0 265.8 394.0 262.0 395.0 258.7 396.0 255.6 397.0 252.8 398.0 250.2 399.0 247.6 400.0 244.8 401.0 242.2 402.0 239.8 403.0 237.6 404.0 235.6 405.0 233.8 406.0 232.2 407.0 230.9 408.0 229.7 409.0 228.4 410.0 227.2 411.0 226.4 412.0 225.7 413.0 224.9 414.0 224.0 415.0 223.1 416.0 222.3 417.0 221.6 418.0 221.0 419.0 220.4 420.0 219.9 421.0 219.4 422.0 218.9 423.0 218.3 424.0 217.8 425.0 217.2 426.0 216.5 427.0 215.8 428.0 215.0 429.0 214.0 430.0 213.1 431.0 212.3 432.0 211.5 433.0 210.7 434.0 209.8 435.0 208.9 436.0 207.9 437.0 207.1 438.0 206.6 439.0 206.2 440.0 205.8 441.0 205.4 442.0 205.0 443.0 204.5 444.0 203.9 445.0 203.2 446.0 202.4 447.0 201.6 448.0 200.5 449.0 199.3 450.0 197.6 451.0 195.8 452.0 194.6 453.0 193.6 454.0 192.6 455.0 191.4 456.0 190.3 457.0 189.4 458.0 188.7 459.0 188.5 460.0 189.4 461.0 190.5 462.0 191.5 463.0 191.4 464.0 189.5 465.0 187.1 466.0 185.7 467.0 186.1 468.0 187.8 469.0 189.6 470.0 191.5 471.0 193.0 472.0 193.0 473.0 192.6 474.0 192.2 475.0 192.0 476.0 192.8 477.0 194.8 478.0 198.2 479.0 200.6 480.0 202.1 481.0 204.6 482.0 207.6 483.0 210.1 484.0 212.1 485.0 214.2 486.0 216.5 487.0 218.9 488.0 221.2 489.0 223.4 490.0 225.5 491.0 227.5 492.0 229.5 493.0 231.4 494.0 233.4 495.0 235.4 496.0 237.3 497.0 239.1 498.0 240.9 499.0 242.6 500.0 244.1 501.0 245.5 502.0 246.8 503.0 248.0 504.0 249.2 505.0 250.4 506.0 251.6 507.0 252.7 508.0 253.8 509.0 254.8 510.0 255.9 511.0 256.9 512.0 257.8 513.0 258.8 514.0 259.8 515.0 260.7 516.0 261.7 517.0 262.7 518.0 263.9 519.0 264.9 520.0 265.7 521.0 266.3 522.0 266.8 523.0 267.3 524.0 267.6 525.0 267.8 525.5 267.9"/>
<path d="M328.0 179.9 329.5 250.9 330.6 298.9 332.0 301.6 333.0 301.6 334.0 301.6 335.0 301.7 336.0 301.7 337.0 301.7 338.0 301.8 339.0 301.8 340.0 301.8 341.0 301.8 342.0 301.9 343.0 301.9 344.0 301.9 345.0 301.9 346.0 301.9 347.0 301.9 348.0 301.9 349.0 301.9 350.0 301.9 351.0 301.9 352.0 301.9 353.0 301.9 354.0 301.9 355.0 301.9 356.0 301.9 357.0 301.9 358.0 301.9 359.0 301.9 360.0 301.9 361.0 301.9 362.0 301.9 363.0 301.9 364.0 301.9 365.0 301.9 366.0 301.9 367.0 301.9 368.0 301.9 369.0 301.9 370.0 301.9 371.0 301.9 372.0 301.9 373.0 301.9 374.0 301.9 375.0 301.9 376.0 301.9 377.0 301.9 378.0 301.9 379.0 301.8 380.0 301.5 381.0 301.0 382.0 300.2 383.0 299.1 384.0 297.8 385.0 295.3 386.0 291.4 387.0 287.3 388.0 283.5 389.0 279.7 390.0 276.1 391.0 272.6 392.0 268.9 393.0 264.7 394.0 260.9 395.0 257.5 396.0 254.4 397.0 251.5 398.0 248.9 399.0 246.3 400.0 243.6 401.0 241.1 402.0 238.7 403.0 236.4 404.0 234.4 405.0 232.5 406.0 230.8 407.0 229.5 408.0 228.2 409.0 226.9 410.0 225.8 411.0 225.2 412.0 224.7 413.0 223.9 414.0 223.0 415.0 222.2 416.0 221.4 417.0 220.6 418.0 220.0 419.0 219.5 420.0 219.0 421.0 218.5 422.0 218.0 423.0 217.5 424.0 216.9 425.0 216.3 426.0 215.6 427.0 214.9 428.0 214.0 429.0 213.0 430.0 212.0 431.0 211.2 432.0 210.4 433.0 209.6 434.0 208.7 435.0 207.8 436.0 206.8 437.0 206.0 438.0 205.5 439.0 205.1 440.0 204.8 441.0 204.4 442.0 204.0 443.0 203.6 444.0 203.0 445.0 202.4 446.0 201.6 447.0 200.7 448.0 199.8 449.0 198.6 450.0 196.9 451.0 195.3 452.0 194.1 453.0 193.2 454.0 192.2 455.0 190.9 456.0 189.8 457.0 189.0 458.0 188.3 459.0 188.2 460.0 189.1 461.0 190.2 462.0 191.0 463.0 190.8 464.0 188.9 465.0 186.6 466.0 185.2 467.0 185.6 468.0 187.3 469.0 189.1 470.0 191.0 471.0 192.5 472.0 192.5 473.0 192.1 474.0 191.8 475.0 191.6 476.0 192.3 477.0 194.3 478.0 197.6 479.0 200.0 480.0 201.6 481.0 204.0 482.0 207.0 483.0 209.5 484.0 211.5 485.0 213.5 486.0 215.8 487.0 218.2 488.0 220.4 489.0 222.6 490.0 224.7 491.0 226.8 492.0 228.8 493.0 230.8 494.0 232.9 495.0 234.8 496.0 236.7 497.0 238.6 498.0 240.3 499.0 242.0 500.0 243.5 501.0 244.9 502.0 246.2 503.0 247.4 504.0 248.7 505.0 249.9 506.0 251.1 507.0 252.3 508.0 253.4 509.0 254.5 510.0 255.5 511.0 256.5 512.0 257.5 513.0 258.5 514.0 259.4 515.0 260.4 516.0 261.3 517.0 262.3 518.0 263.5 519.0 264.5 520.0 265.3 521.0 265.9 522.0 266.4 523.0 266.9 524.0 267.3 525.0 267.5 525.5 267.6"/>
<path d="M328.0 179.9 329.5 250.9 330.6 298.9 332.0 301.5 333.0 301.6 334.0 301.6 335.0 301.6 336.0 301.7 337.0 301.7 338.0 301.7 339.0 301.8 340.0 301.8 341.0 301.8 342.0 301.8 343.0 301.9 344.0 301.9 345.0 301.9 346.0 301.9 347.0 301.9 348.0 301.9 349.0 301.9 350.0 301.9 351.0 301.9 352.0 301.9 353.0 301.9 354.0 301.9 355.0 301.9 356.0 301.9 357.0 301.9 358.0 301.9 359.0 301.9 360.0 301.9 361.0 301.9 362.0 301.9 363.0 301.9 364.0 301.9 365.0 301.9 366.0 301.9 367.0 301.9 368.0 301.9 369.0 301.9 370.0 301.9 371.0 301.9 372.0 301.9 373.0 301.9 374.0 301.9 375.0 301.9 376.0 301.9 377.0 301.9 378.0 301.9 379.0 301.8 380.0 301.4 381.0 300.8 382.0 299.9 383.0 298.7 384.0 297.2 385.0 294.6 386.0 290.6 387.0 286.6 388.0 282.8 389.0 278.9 390.0 275.3 391.0 271.6 392.0 267.8 393.0 263.6 394.0 259.7 395.0 256.3 396.0 253.2 397.0 250.3 398.0 247.6 399.0 245.0 400.0 242.4 401.0 239.9 402.0 237.5 403.0 235.2 404.0 233.1 405.0 231.1 406.0 229.4 407.0 228.0 408.0 226.8 409.0 225.5 410.0 224.4 411.0 223.9 412.0 223.6 413.0 222.9 414.0 222.1 415.0 221.2 416.0 220.4 417.0 219.7 418.0 219.1 419.0 218.6 420.0 218.1 421.0 217.6 422.0 217.1 423.0 216.6 424.0 216.0 425.0 215.4 426.0 214.7 427.0 213.9 428.0 213.0 429.0 211.9 430.0 210.9 431.0 210.0 432.0 209.2 433.0 208.5 434.0 207.6 435.0 206.7 436.0 205.7 437.0 205.0 438.0 204.5 439.0 204.1 440.0 203.7 441.0 203.4 442.0 203.1 443.0 202.7 444.0 202.2 445.0 201.6 446.0 200.8 447.0 199.9 448.0 199.0 449.0 197.8 450.0 196.3 451.0 194.7 452.0 193.6 453.0 192.7 454.0 191.7 455.0 190.4 456.0 189.3 457.0 188.5 458.0 188.0 459.0 188.0 460.0 188.8 461.0 189.8 462.0 190.5 463.0 190.2 464.0 188.4 465.0 186.1 466.0 184.7 467.0 185.1 468.0 186.8 469.0 188.6 470.0 190.5 471.0 192.0 472.0 192.0 473.0 191.7 474.0 191.3 475.0 191.2 476.0 191.9 477.0 193.7 478.0 196.9 479.0 199.3 480.0 201.1 481.0 203.5 482.0 206.4 483.0 208.8 484.0 210.8 485.0 212.9 486.0 215.1 487.0 217.5 488.0 219.7 489.0 221.8 490.0 223.9 491.0 226.0 492.0 228.2 493.0 230.2 494.0 232.3 495.0 234.3 496.0 236.2 497.0 238.0 498.0 239.7 499.0 241.4 500.0 243.0 501.0 244.3 502.0 245.6 503.0 246.9 504.0 248.1 505.0 249.3 506.0 250.6 507.0 251.9 508.0 253.0 509.0 254.1 510.0 255.1 511.0 256.1 512.0 257.1 513.0 258.1 514.0 259.0 515.0 260.0 516.0 260.9 517.0 261.9 518.0 263.1 519.0 264.1 520.0 264.8 521.0 265.4 522.0 266.0 523.0 266.5 524.0 266.9 525.0 267.2 525.5 267.3"/>
<path d="M328.0 179.9 329.5 250.9 330.6 298.9 332.0 301.5 333.0 301.5 334.0 301.6 335.0 301.6 336.0 301.6 337.0 301.7 338.0 301.7 339.0 301.7 340.0 301.7 341.0 301.8 342.0 301.8 343.0 301.8 344.0 301.8 345.0 301.9 346.0 301.9 347.0 301.9 348.0 301.9 349.0 301.9 350.0 301.9 351.0 301.9 352.0 301.9 353.0 301.9 354.0 301.9 355.0 301.9 356.0 301.9 357.0 301.9 358.0 301.9 359.0 301.9 360.0 301.9 361.0 301.9 362.0 301.9 363.0 301.9 364.0 301.9 365.0 301.9 366.0 301.9 367.0 301.9 368.0 301.9 369.0 301.9 370.0 301.9 371.0 301.9 372.0 301.9 373.0 301.9 374.0 301.9 375.0 301.9 376.0 301.9 377.0 301.9 378.0 301.9 379.0 301.7 380.0 301.3 381.0 300.7 382.0 299.6 383.0 298.1 384.0 296.5 385.0 293.8 386.0 289.8 387.0 285.7 388.0 281.9 389.0 278.1 390.0 274.3 391.0 270.5 392.0 266.6 393.0 262.3 394.0 258.4 395.0 255.0 396.0 251.8 397.0 248.8 398.0 246.1 399.0 243.6 400.0 241.0 401.0 238.6 402.0 236.2 403.0 233.8 404.0 231.7 405.0 229.6 406.0 227.8 407.0 226.4 408.0 225.1 409.0 223.9 410.0 222.8 411.0 222.5 412.0 222.4 413.0 221.8 414.0 221.0 415.0 220.1 416.0 219.3 417.0 218.6 418.0 218.0 419.0 217.5 420.0 217.1 421.0 216.6 422.0 216.1 423.0 215.6 424.0 215.0 425.0 214.3 426.0 213.6 427.0 212.9 428.0 211.9 429.0 210.7 430.0 209.6 431.0 208.8 432.0 207.9 433.0 207.2 434.0 206.3 435.0 205.4 436.0 204.5 437.0 203.8 438.0 203.2 439.0 202.8 440.0 202.5 441.0 202.3 442.0 202.0 443.0 201.7 444.0 201.2 445.0 200.6 446.0 199.9 447.0 199.0 448.0 198.0 449.0 197.0 450.0 195.5 451.0 194.1 452.0 193.1 453.0 192.1 454.0 191.2 455.0 189.9 456.0 188.7 457.0 188.1 458.0 187.6 459.0 187.6 460.0 188.4 461.0 189.4 462.0 190.0 463.0 189.6 464.0 187.7 465.0 185.5 466.0 184.2 467.0 184.6 468.0 186.2 469.0 188.0 470.0 190.0 471.0 191.5 472.0 191.5 473.0 191.2 474.0 190.9 475.0 190.7 476.0 191.3 477.0 193.1 478.0 196.1 479.0 198.6 480.0 200.5 481.0 202.9 482.0 205.7 483.0 208.0 484.0 210.0 485.0 212.1 486.0 214.3 487.0 216.6 488.0 218.8 489.0 220.9 490.0 223.1 491.0 225.2 492.0 227.4 493.0 229.6 494.0 231.6 495.0 233.6 496.0 235.5 497.0 237.3 498.0 239.1 499.0 240.8 500.0 242.3 501.0 243.6 502.0 244.9 503.0 246.2 504.0 247.4 505.0 248.7 506.0 250.0 507.0 251.4 508.0 252.6 509.0 253.7 510.0 254.7 511.0 255.7 512.0 256.7 513.0 257.7 514.0 258.6 515.0 259.5 516.0 260.5 517.0 261.5 518.0 262.6 519.0 263.6 520.0 264.4 521.0 265.0 522.0 265.5 523.0 266.0 524.0 266.5 525.0 266.8 525.5 266.9"/>
<path d="M328.0 179.9 329.5 250.9 330.6 298.9 332.0 301.5 333.0 301.5 334.0 301.5 335.0 301.6 336.0 301.6 337.0 301.6 338.0 301.6 339.0 301.7 340.0 301.7 341.0 301.7 342.0 301.7 343.0 301.8 344.0 301.8 345.0 301.8 346.0 301.8 347.0 301.8 348.0 301.8 349.0 301.8 350.0 301.8 351.0 301.8 352.0 301.8 353.0 301.8 354.0 301.8 355.0 301.8 356.0 301.8 357.0 301.8 358.0 301.8 359.0 301.8 360.0 301.8 361.0 301.8 362.0 301.8 363.0 301.8 364.0 301.8 365.0 301.8 366.0 301.8 367.0 301.8 368.0 301.8 369.0 301.8 370.0 301.8 371.0 301.8 372.0 301.8 373.0 301.8 374.0 301.8 375.0 301.8 376.0 301.8 377.0 301.8 378.0 301.8 379.0 301.6 380.0 301.2 381.0 300.4 382.0 299.1 383.0 297.5 384.0 295.6 385.0 292.8 386.0 288.8 387.0 284.7 388.0 280.8 389.0 276.9 390.0 273.1 391.0 269.1 392.0 265.1 393.0 260.7 394.0 256.8 395.0 253.3 396.0 250.1 397.0 247.1 398.0 244.3 399.0 241.7 400.0 239.3 401.0 236.9 402.0 234.5 403.0 232.1 404.0 229.8 405.0 227.7 406.0 225.8 407.0 224.3 408.0 223.1 409.0 221.8 410.0 220.8 411.0 220.8 412.0 220.9 413.0 220.4 414.0 219.6 415.0 218.8 416.0 217.9 417.0 217.2 418.0 216.7 419.0 216.2 420.0 215.8 421.0 215.3 422.0 214.8 423.0 214.3 424.0 213.7 425.0 213.0 426.0 212.3 427.0 211.5 428.0 210.5 429.0 209.1 430.0 208.0 431.0 207.1 432.0 206.3 433.0 205.5 434.0 204.7 435.0 203.8 436.0 203.0 437.0 202.2 438.0 201.7 439.0 201.3 440.0 201.0 441.0 200.8 442.0 200.6 443.0 200.4 444.0 200.0 445.0 199.4 446.0 198.7 447.0 197.8 448.0 196.9 449.0 195.9 450.0 194.6 451.0 193.3 452.0 192.3 453.0 191.5 454.0 190.5 455.0 189.2 456.0 188.0 457.0 187.4 458.0 187.2 459.0 187.2 460.0 188.0 461.0 188.8 462.0 189.3 463.0 188.7 464.0 186.9 465.0 184.8 466.0 183.5 467.0 183.9 468.0 185.5 469.0 187.3 470.0 189.3 471.0 190.8 472.0 190.8 473.0 190.5 474.0 190.2 475.0 190.1 476.0 190.7 477.0 192.3 478.0 195.2 479.0 197.7 480.0 199.8 481.0 202.2 482.0 204.8 483.0 207.1 484.0 209.1 485.0 211.1 486.0 213.3 487.0 215.6 488.0 217.7 489.0 219.8 490.0 221.9 491.0 224.2 492.0 226.5 493.0 228.7 494.0 230.8 495.0 232.8 496.0 234.7 497.0 236.5 498.0 238.3 499.0 239.9 500.0 241.5 501.0 242.8 502.0 244.1 503.0 245.3 504.0 246.6 505.0 248.0 506.0 249.3 507.0 250.8 508.0 252.1 509.0 253.2 510.0 254.2 511.0 255.2 512.0 256.2 513.0 257.1 514.0 258.1 515.0 259.0 516.0 259.9 517.0 260.9 518.0 262.0 519.0 263.0 520.0 263.7 521.0 264.4 522.0 265.0 523.0 265.5 524.0 266.0 525.0 266.3 525.5 266.4"/>
<path d="M328.0 179.9 329.5 250.9 330.6 298.9 332.0 301.4 333.0 301.4 334.0 301.5 335.0 301.5 336.0 301.5 337.0 301.6 338.0 301.6 339.0 301.6 340.0 301.6 341.0 301.7 342.0 301.7 343.0 301.7 344.0 301.7 345.0 301.7 346.0 301.7 347.0 301.7 348.0 301.8 349.0 301.8 350.0 301.8 351.0 301.8 352.0 301.8 353.0 301.8 354.0 301.8 355.0 301.8 356.0 301.8 357.0 301.8 358.0 301.8 359.0 301.8 360.0 301.8 361.0 301.8 362.0 301.8 363.0 301.8 364.0 301.8 365.0 301.8 366.0 301.8 367.0 301.8 368.0 301.8 369.0 301.8 370.0 301.8 371.0 301.8 372.0 301.8 373.0 301.8 374.0 301.8 375.0 301.8 376.0 301.8 377.0 301.8 378.0 301.8 379.0 301.5 380.0 301.0 381.0 300.1 382.0 298.6 383.0 296.6 384.0 294.4 385.0 291.4 386.0 287.3 387.0 283.2 388.0 279.3 389.0 275.4 390.0 271.4 391.0 267.2 392.0 263.0 393.0 258.5 394.0 254.5 395.0 251.0 396.0 247.7 397.0 244.6 398.0 241.7 399.0 239.2 400.0 236.9 401.0 234.6 402.0 232.1 403.0 229.7 404.0 227.3 405.0 225.0 406.0 223.0 407.0 221.5 408.0 220.2 409.0 218.9 410.0 218.0 411.0 218.3 412.0 218.8 413.0 218.4 414.0 217.7 415.0 216.9 416.0 216.0 417.0 215.3 418.0 214.8 419.0 214.3 420.0 213.9 421.0 213.5 422.0 213.1 423.0 212.5 424.0 211.9 425.0 211.2 426.0 210.5 427.0 209.6 428.0 208.5 429.0 207.0 430.0 205.8 431.0 204.9 432.0 204.1 433.0 203.3 434.0 202.5 435.0 201.6 436.0 200.8 437.0 200.1 438.0 199.6 439.0 199.2 440.0 198.9 441.0 198.8 442.0 198.7 443.0 198.6 444.0 198.3 445.0 197.7 446.0 197.0 447.0 196.2 448.0 195.3 449.0 194.4 450.0 193.3 451.0 192.2 452.0 191.3 453.0 190.5 454.0 189.6 455.0 188.2 456.0 186.9 457.0 186.6 458.0 186.5 459.0 186.7 460.0 187.3 461.0 188.1 462.0 188.3 463.0 187.6 464.0 185.8 465.0 183.7 466.0 182.5 467.0 182.9 468.0 184.5 469.0 186.3 470.0 188.3 471.0 189.9 472.0 189.9 473.0 189.6 474.0 189.4 475.0 189.3 476.0 189.7 477.0 191.2 478.0 193.9 479.0 196.4 480.0 198.8 481.0 201.1 482.0 203.6 483.0 205.7 484.0 207.8 485.0 209.8 486.0 211.9 487.0 214.1 488.0 216.2 489.0 218.3 490.0 220.4 491.0 222.7 492.0 225.1 493.0 227.5 494.0 229.7 495.0 231.7 496.0 233.6 497.0 235.4 498.0 237.1 499.0 238.8 500.0 240.3 501.0 241.6 502.0 242.9 503.0 244.2 504.0 245.5 505.0 246.9 506.0 248.3 507.0 249.9 508.0 251.3 509.0 252.5 510.0 253.5 511.0 254.5 512.0 255.4 513.0 256.4 514.0 257.3 515.0 258.2 516.0 259.1 517.0 260.1 518.0 261.1 519.0 262.1 520.0 262.9 521.0 263.5 522.0 264.2 523.0 264.7 524.0 265.2 525.0 265.6 525.5 265.8"/>
<path d="M328.0 179.9 329.5 250.9 330.6 298.9 332.0 301.3 333.0 301.4 334.0 301.4 335.0 301.4 336.0 301.4 337.0 301.5 338.0 301.5 339.0 301.5 340.0 301.6 341.0 301.6 342.0 301.6 343.0 301.6 344.0 301.6 345.0 301.6 346.0 301.7 347.0 301.7 348.0 301.7 349.0 301.7 350.0 301.7 351.0 301.7 352.0 301.7 353.0 301.7 354.0 301.7 355.0 301.7 356.0 301.7 357.0 301.7 358.0 301.7 359.0 301.7 360.0 301.7 361.0 301.7 362.0 301.7 363.0 301.7 364.0 301.7 365.0 301.7 366.0 301.7 367.0 301.7 368.0 301.7 369.0 301.7 370.0 301.7 371.0 301.7 372.0 301.7 373.0 301.7 374.0 301.7 375.0 301.7 376.0 301.7 377.0 301.7 378.0 301.7 379.0 301.4 380.0 300.8 381.0 299.7 382.0 297.8 383.0 295.4 384.0 292.9 385.0 289.6 386.0 285.4 387.0 281.3 388.0 277.4 389.0 273.4 390.0 269.1 391.0 264.7 392.0 260.3 393.0 255.6 394.0 251.5 395.0 247.9 396.0 244.6 397.0 241.4 398.0 238.3 399.0 235.9 400.0 233.8 401.0 231.6 402.0 229.1 403.0 226.6 404.0 224.1 405.0 221.5 406.0 219.4 407.0 217.8 408.0 216.5 409.0 215.2 410.0 214.4 411.0 215.1 412.0 216.1 413.0 215.9 414.0 215.2 415.0 214.4 416.0 213.6 417.0 212.8 418.0 212.3 419.0 211.9 420.0 211.6 421.0 211.2 422.0 210.8 423.0 210.2 424.0 209.6 425.0 208.9 426.0 208.1 427.0 207.2 428.0 205.9 429.0 204.2 430.0 202.9 431.0 202.0 432.0 201.1 433.0 200.4 434.0 199.6 435.0 198.8 436.0 198.0 437.0 197.4 438.0 196.9 439.0 196.4 440.0 196.2 441.0 196.2 442.0 196.3 443.0 196.3 444.0 196.1 445.0 195.6 446.0 194.9 447.0 194.1 448.0 193.3 449.0 192.5 450.0 191.7 451.0 190.8 452.0 190.1 453.0 189.3 454.0 188.4 455.0 186.9 456.0 185.6 457.0 185.5 458.0 185.6 459.0 185.9 460.0 186.5 461.0 187.1 462.0 187.0 463.0 186.1 464.0 184.3 465.0 182.4 466.0 181.3 467.0 181.7 468.0 183.3 469.0 185.0 470.0 187.0 471.0 188.6 472.0 188.7 473.0 188.5 474.0 188.3 475.0 188.2 476.0 188.6 477.0 189.7 478.0 192.2 479.0 194.7 480.0 197.5 481.0 199.8 482.0 202.0 483.0 204.0 484.0 206.0 485.0 208.1 486.0 210.1 487.0 212.2 488.0 214.3 489.0 216.3 490.0 218.4 491.0 220.8 492.0 223.4 493.0 226.0 494.0 228.3 495.0 230.2 496.0 232.1 497.0 233.9 498.0 235.7 499.0 237.3 500.0 238.8 501.0 240.0 502.0 241.3 503.0 242.7 504.0 244.1 505.0 245.5 506.0 247.1 507.0 248.8 508.0 250.3 509.0 251.5 510.0 252.6 511.0 253.6 512.0 254.5 513.0 255.4 514.0 256.4 515.0 257.3 516.0 258.2 517.0 259.1 518.0 260.1 519.0 261.0 520.0 261.8 521.0 262.5 522.0 263.1 523.0 263.7 524.0 264.3 525.0 264.8 525.5 265.0"/>
<path d="M328.0 179.9 329.5 250.9 330.6 298.9 332.0 301.2 333.0 301.3 334.0 301.3 335.0 301.3 336.0 301.4 337.0 301.4 338.0 301.4 339.0 301.4 340.0 301.5 341.0 301.5 342.0 301.5 343.0 301.5 344.0 301.5 345.0 301.5 346.0 301.5 347.0 301.5 348.0 301.6 349.0 301.6 350.0 301.6 351.0 301.6 352.0 301.6 353.0 301.6 354.0 301.6 355.0 301.6 356.0 301.6 357.0 301.6 358.0 301.6 359.0 301.6 360.0 301.6 361.0 301.6 362.0 301.6 363.0 301.6 364.0 301.6 365.0 301.6 366.0 301.6 367.0 301.6 368.0 301.6 369.0 301.6 370.0 301.6 371.0 301.6 372.0 301.6 373.0 301.6 374.0 301.6 375.0 301.6 376.0 301.6 377.0 301.6 378.0 301.6 379.0 301.2 380.0 300.6 381.0 299.2 382.0 296.9 383.0 294.0 384.0 290.9 385.0 287.4 386.0 283.2 387.0 278.9 388.0 275.0 389.0 270.9 390.0 266.5 391.0 261.7 392.0 256.9 393.0 252.2 394.0 247.9 395.0 244.2 396.0 240.8 397.0 237.4 398.0 234.3 399.0 231.9 400.0 230.0 401.0 227.9 402.0 225.5 403.0 222.8 404.0 220.1 405.0 217.3 406.0 214.9 407.0 213.3 408.0 211.9 409.0 210.6 410.0 209.9 411.0 211.2 412.0 212.8 413.0 212.8 414.0 212.2 415.0 211.4 416.0 210.5 417.0 209.8 418.0 209.4 419.0 209.0 420.0 208.7 421.0 208.4 422.0 208.0 423.0 207.4 424.0 206.8 425.0 206.1 426.0 205.2 427.0 204.2 428.0 202.8 429.0 200.9 430.0 199.4 431.0 198.4 432.0 197.6 433.0 196.8 434.0 196.1 435.0 195.3 436.0 194.7 437.0 194.1 438.0 193.5 439.0 193.1 440.0 193.0 441.0 193.1 442.0 193.3 443.0 193.4 444.0 193.4 445.0 193.0 446.0 192.3 447.0 191.5 448.0 190.8 449.0 190.2 450.0 189.7 451.0 189.1 452.0 188.5 453.0 187.8 454.0 186.9 455.0 185.4 456.0 184.0 457.0 184.1 458.0 184.6 459.0 185.1 460.0 185.6 461.0 185.9 462.0 185.5 463.0 184.3 464.0 182.6 465.0 180.8 466.0 179.8 467.0 180.2 468.0 181.7 469.0 183.4 470.0 185.5 471.0 187.1 472.0 187.2 473.0 187.1 474.0 187.0 475.0 186.9 476.0 187.1 477.0 188.0 478.0 190.1 479.0 192.7 480.0 195.9 481.0 198.1 482.0 200.0 483.0 201.9 484.0 203.9 485.0 205.9 486.0 207.9 487.0 209.9 488.0 211.9 489.0 213.9 490.0 215.9 491.0 218.5 492.0 221.3 493.0 224.1 494.0 226.5 495.0 228.4 496.0 230.3 497.0 232.1 498.0 233.9 499.0 235.5 500.0 236.9 501.0 238.1 502.0 239.4 503.0 240.8 504.0 242.3 505.0 243.8 506.0 245.5 507.0 247.5 508.0 249.2 509.0 250.4 510.0 251.5 511.0 252.5 512.0 253.4 513.0 254.3 514.0 255.2 515.0 256.1 516.0 256.9 517.0 257.9 518.0 258.8 519.0 259.7 520.0 260.4 521.0 261.2 522.0 261.9 523.0 262.5 524.0 263.1 525.0 263.7 525.5 263.9"/>
<path d="M548.6 284.7 549.6 284.9 550.6 285.2 551.6 285.6 552.6 286.1 553.6 286.6 554.6 287.1 555.6 287.5 556.6 287.9 557.6 288.2 558.6 288.5 559.6 288.7 560.6 289.0 561.6 289.3 562.6 289.7 563.6 290.2 564.6 291.0 565.6 292.0 566.6 293.1 567.6 294.2 568.6 295.2 569.6 296.4 570.6 297.7 571.6 298.8 572.6 299.9 573.6 300.9 574.6 301.7 575.6 302.4 576.6 303.0 577.6 303.6 578.6 304.2 579.6 304.8 580.6 305.3 581.6 305.7 582.6 306.0 583.6 306.0 584.6 306.1 585.6 306.2 586.6 306.3 587.6 306.4 588.6 306.5 589.6 306.6 590.6 306.7 591.6 306.8 592.6 306.9 593.6 306.9 594.6 307.0 595.0 307.0"/>
<path d="M548.6 284.4 549.6 284.7 550.6 285.0 551.6 285.4 552.6 285.9 553.6 286.4 554.6 286.8 555.6 287.3 556.6 287.7 557.6 288.0 558.6 288.2 559.6 288.5 560.6 288.8 561.6 289.1 562.6 289.5 563.6 290.0 564.6 290.8 565.6 291.8 566.6 292.9 567.6 294.0 568.6 295.0 569.6 296.2 570.6 297.5 571.6 298.6 572.6 299.7 573.6 300.7 574.6 301.5 575.6 302.3 576.6 302.9 577.6 303.5 578.6 304.1 579.6 304.7 580.6 305.2 581.6 305.6 582.6 305.8 583.6 305.9 584.6 306.0 585.6 306.1 586.6 306.2 587.6 306.3 588.6 306.4 589.6 306.5 590.6 306.6 591.6 306.7 592.6 306.8 593.6 306.8 594.6 306.9 595.0 307.0"/>
<path d="M548.6 284.2 549.6 284.5 550.6 284.8 551.6 285.2 552.6 285.6 553.6 286.1 554.6 286.6 555.6 287.0 556.6 287.4 557.6 287.7 558.6 288.0 559.6 288.3 560.6 288.6 561.6 288.9 562.6 289.3 563.6 289.8 564.6 290.6 565.6 291.6 566.6 292.7 567.6 293.8 568.6 294.8 569.6 295.9 570.6 297.2 571.6 298.4 572.6 299.5 573.6 300.6 574.6 301.4 575.6 302.1 576.6 302.8 577.6 303.4 578.6 304.0 579.6 304.6 580.6 305.1 581.6 305.5 582.6 305.7 583.6 305.8 584.6 305.9 585.6 306.0 586.6 306.1 587.6 306.2 588.6 306.3 589.6 306.4 590.6 306.5 591.6 306.6 592.6 306.7 593.6 306.8 594.6 306.8 595.0 306.9"/>
<path d="M548.6 284.0 549.6 284.3 550.6 284.6 551.6 285.0 552.6 285.4 553.6 285.9 554.6 286.3 555.6 286.7 556.6 287.1 557.6 287.4 558.6 287.7 559.6 288.0 560.6 288.4 561.6 288.7 562.6 289.1 563.6 289.6 564.6 290.4 565.6 291.4 566.6 292.6 567.6 293.6 568.6 294.5 569.6 295.7 570.6 297.0 571.6 298.2 572.6 299.3 573.6 300.4 574.6 301.2 575.6 302.0 576.6 302.7 577.6 303.3 578.6 303.9 579.6 304.5 580.6 305.0 581.6 305.4 582.6 305.6 583.6 305.8 584.6 305.9 585.6 306.0 586.6 306.1 587.6 306.1 588.6 306.2 589.6 306.3 590.6 306.4 591.6 306.5 592.6 306.6 593.6 306.7 594.6 306.7 595.0 306.8"/>
<path d="M548.6 283.8 549.6 284.1 550.6 284.4 551.6 284.8 552.6 285.2 553.6 285.6 554.6 286.1 555.6 286.5 556.6 286.8 557.6 287.2 558.6 287.5 559.6 287.8 560.6 288.1 561.6 288.5 562.6 288.9 563.6 289.4 564.6 290.2 565.6 291.2 566.6 292.4 567.6 293.4 568.6 294.3 569.6 295.5 570.6 296.8 571.6 298.0 572.6 299.2 573.6 300.2 574.6 301.1 575.6 301.9 576.6 302.6 577.6 303.2 578.6 303.8 579.6 304.3 580.6 304.8 581.6 305.2 582.6 305.5 583.6 305.7 584.6 305.8 585.6 305.9 586.6 306.0 587.6 306.1 588.6 306.2 589.6 306.2 590.6 306.3 591.6 306.4 592.6 306.5 593.6 306.6 594.6 306.6 595.0 306.7"/>
<path d="M548.6 283.5 549.6 283.8 550.6 284.2 551.6 284.5 552.6 284.9 553.6 285.3 554.6 285.8 555.6 286.2 556.6 286.5 557.6 286.9 558.6 287.2 559.6 287.5 560.6 287.9 561.6 288.3 562.6 288.6 563.6 289.1 564.6 289.9 565.6 291.0 566.6 292.2 567.6 293.2 568.6 294.1 569.6 295.2 570.6 296.5 571.6 297.8 572.6 298.9 573.6 300.0 574.6 300.9 575.6 301.7 576.6 302.5 577.6 303.1 578.6 303.7 579.6 304.2 580.6 304.7 581.6 305.1 582.6 305.4 583.6 305.5 584.6 305.7 585.6 305.8 586.6 305.9 587.6 306.0 588.6 306.0 589.6 306.1 590.6 306.2 591.6 306.3 592.6 306.4 593.6 306.5 594.6 306.5 595.0 306.6"/>
<path d="M548.6 283.2 549.6 283.5 550.6 283.8 551.6 284.2 552.6 284.6 553.6 285.0 554.6 285.4 555.6 285.8 556.6 286.2 557.6 286.5 558.6 286.9 559.6 287.2 560.6 287.6 561.6 288.0 562.6 288.4 563.6 288.8 564.6 289.6 565.6 290.7 566.6 291.9 567.6 292.9 568.6 293.8 569.6 294.9 570.6 296.2 571.6 297.5 572.6 298.6 573.6 299.7 574.6 300.7 575.6 301.6 576.6 302.3 577.6 303.0 578.6 303.5 579.6 304.1 580.6 304.5 581.6 304.9 582.6 305.2 583.6 305.4 584.6 305.5 585.6 305.6 586.6 305.7 587.6 305.8 588.6 305.9 589.6 306.0 590.6 306.1 591.6 306.2 592.6 306.3 593.6 306.3 594.6 306.4 595.0 306.4"/>
<path d="M548.6 282.7 549.6 283.1 550.6 283.4 551.6 283.8 552.6 284.1 553.6 284.5 554.6 284.9 555.6 285.3 556.6 285.6 557.6 286.0 558.6 286.4 559.6 286.8 560.6 287.2 561.6 287.6 562.6 287.9 563.6 288.4 564.6 289.2 565.6 290.3 566.6 291.6 567.6 292.6 568.6 293.3 569.6 294.4 570.6 295.8 571.6 297.1 572.6 298.2 573.6 299.3 574.6 300.4 575.6 301.3 576.6 302.1 577.6 302.8 578.6 303.3 579.6 303.8 580.6 304.3 581.6 304.7 582.6 305.0 583.6 305.2 584.6 305.4 585.6 305.5 586.6 305.6 587.6 305.6 588.6 305.7 589.6 305.8 590.6 305.9 591.6 306.0 592.6 306.1 593.6 306.1 594.6 306.2 595.0 306.2"/>
<path d="M548.6 282.2 549.6 282.5 550.6 282.9 551.6 283.2 552.6 283.5 553.6 283.9 554.6 284.2 555.6 284.6 556.6 284.9 557.6 285.3 558.6 285.7 559.6 286.2 560.6 286.6 561.6 287.0 562.6 287.4 563.6 287.8 564.6 288.6 565.6 289.8 566.6 291.1 567.6 292.1 568.6 292.8 569.6 293.8 570.6 295.2 571.6 296.5 572.6 297.7 573.6 298.9 574.6 300.0 575.6 301.0 576.6 301.9 577.6 302.6 578.6 303.1 579.6 303.5 580.6 304.0 581.6 304.3 582.6 304.7 583.6 305.0 584.6 305.1 585.6 305.2 586.6 305.3 587.6 305.4 588.6 305.5 589.6 305.6 590.6 305.7 591.6 305.8 592.6 305.8 593.6 305.9 594.6 306.0 595.0 306.0"/>
<path d="M548.6 281.4 549.6 281.8 550.6 282.2 551.6 282.5 552.6 282.8 553.6 283.1 554.6 283.4 555.6 283.7 556.6 284.1 557.6 284.5 558.6 285.0 559.6 285.4 560.6 285.9 561.6 286.4 562.6 286.8 563.6 287.1 564.6 287.9 565.6 289.2 566.6 290.5 567.6 291.5 568.6 292.1 569.6 293.1 570.6 294.6 571.6 295.9 572.6 297.1 573.6 298.3 574.6 299.5 575.6 300.6 576.6 301.6 577.6 302.3 578.6 302.8 579.6 303.2 580.6 303.6 581.6 303.9 582.6 304.3 583.6 304.7 584.6 304.8 585.6 305.0 586.6 305.1 587.6 305.1 588.6 305.2 589.6 305.3 590.6 305.4 591.6 305.5 592.6 305.5 593.6 305.6 594.6 305.7 595.0 305.7"/>
<path d="M408.4 228 L409.7 206 L411.3 214"/>
</g>
<g fill="none" stroke="#fff" stroke-width="2.4" stroke-linejoin="round" stroke-linecap="round">
<path d="M430.6 205 L431.3 166.3 L432.0 205"/>
<path d="M433.6 200 L434.3 183 L435.0 200"/>
</g>
<polygon fill="#fff" points="436.8,200.0 437.3,175.0 438.3,150.0 438.8,120.0 439.1,100.5 439.8,99.3 441.6,99.3 442.3,100.5 442.6,130.0 443.0,150.0 443.6,175.0 444.2,198.0"/>
<polygon fill="#fff" points="525.2,268.0 525.6,240.0 526.1,200.0 526.4,157.0 529.4,157.0 530.0,170.0 530.6,153.5 533.0,153.5 534.3,177.6 536.6,177.6 537.4,164.0 539.5,164.0 540.1,146.7 543.0,146.7 544.5,170.0 546.0,188.7 546.2,191.0 549.8,191.0 550.7,281.5 552.0,282.5 550.0,286.0 548.3,286.0 548.0,240.0 547.0,239.0 543.0,239.0 542.6,200.0 541.8,200.0 541.5,247.0 536.5,247.0 536.0,214.0 533.8,214.0 531.5,230.0 531.3,261.0 529.0,262.0 527.0,268.0"/>
<g fill="#fff" font-size="14.4" font-family="Liberation Sans, sans-serif">
<rect x="350.3" y="43.10" width="5.0" height="1.2"/>
<text x="359.6" y="48.9" textLength="16.5" lengthAdjust="spacingAndGlyphs">25</text>
<rect x="350.3" y="91.15" width="5.0" height="1.2"/>
<text x="359.6" y="97.0" textLength="16.5" lengthAdjust="spacingAndGlyphs">20</text>
<rect x="350.3" y="139.20" width="5.0" height="1.2"/>
<text x="359.6" y="145.0" textLength="16.5" lengthAdjust="spacingAndGlyphs">15</text>
<rect x="350.3" y="187.25" width="5.0" height="1.2"/>
<text x="359.6" y="193.0" textLength="16.5" lengthAdjust="spacingAndGlyphs">10</text>
<rect x="350.3" y="235.30" width="5.0" height="1.2"/>
<text x="359.6" y="241.1" textLength="8.1" lengthAdjust="spacingAndGlyphs">5</text>
<rect x="350.3" y="283.35" width="5.0" height="1.2"/>
<text x="359.6" y="289.1" textLength="8.1" lengthAdjust="spacingAndGlyphs">0</text>
</g>
</g>
<g fill="#000" font-size="14.4" font-family="Liberation Sans, sans-serif">
<text x="31.8" y="42.4" text-anchor="end" textLength="19.4" lengthAdjust="spacingAndGlyphs">On</text>
<text x="612.2" y="42.4" textLength="19.4" lengthAdjust="spacingAndGlyphs">On</text>
<text x="31.8" y="59.1" text-anchor="end">Y</text>
<text x="612.2" y="59.1">Y</text>
<text x="31.8" y="75.8" text-anchor="end" textLength="19.5" lengthAdjust="spacingAndGlyphs">Off</text>
<text x="612.2" y="75.8" textLength="19.5" lengthAdjust="spacingAndGlyphs">Off</text>
<text x="31.8" y="92.5" text-anchor="end">P</text>
<text x="612.2" y="92.5">P</text>
<text x="31.8" y="109.2" text-anchor="end">O</text>
<text x="612.2" y="109.2">O</text>
<text x="31.8" y="125.9" text-anchor="end">N</text>
<text x="612.2" y="125.9">N</text>
<text x="31.8" y="142.6" text-anchor="end">M</text>
<text x="612.2" y="142.6">M</text>
<text x="31.8" y="159.3" text-anchor="end">L</text>
<text x="612.2" y="159.3">L</text>
<text x="31.8" y="176.0" text-anchor="end">K</text>
<text x="612.2" y="176.0">K</text>
<text x="31.8" y="192.7" text-anchor="end">J</text>
<text x="612.2" y="192.7">J</text>
<text x="31.8" y="209.4" text-anchor="end">I</text>
<text x="612.2" y="209.4">I</text>
<text x="31.8" y="226.1" text-anchor="end">H</text>
<text x="612.2" y="226.1">H</text>
<text x="31.8" y="242.8" text-anchor="end">G</text>
<text x="612.2" y="242.8">G</text>
<text x="31.8" y="259.5" text-anchor="end">F</text>
<text x="612.2" y="259.5">F</text>
<text x="31.8" y="276.2" text-anchor="end">E</text>
<text x="612.2" y="276.2">E</text>
<text x="31.8" y="292.9" text-anchor="end">D</text>
<text x="612.2" y="292.9">D</text>
<text x="31.8" y="309.6" text-anchor="end">C</text>
<text x="612.2" y="309.6">C</text>
<text x="31.8" y="326.3" text-anchor="end">B</text>
<text x="612.2" y="326.3">B</text>
<text x="31.8" y="343.0" text-anchor="end">A</text>
<text x="612.2" y="343.0">A</text>
<text x="31.8" y="359.7" text-anchor="end" textLength="19.5" lengthAdjust="spacingAndGlyphs">Off</text>
<text x="612.2" y="359.7" textLength="19.5" lengthAdjust="spacingAndGlyphs">Off</text>
<text x="31.8" y="376.4" text-anchor="end">X</text>
<text x="612.2" y="376.4">X</text>
<text x="31.8" y="393.1" text-anchor="end" textLength="19.4" lengthAdjust="spacingAndGlyphs">On</text>
<text x="612.2" y="393.1" textLength="19.4" lengthAdjust="spacingAndGlyphs">On</text>
<text transform="translate(2.9 239.5) rotate(-90)" textLength="43.6" lengthAdjust="spacingAndGlyphs">Dipole</text>
</g>
<g fill="#000" font-size="17.6" font-family="Liberation Sans, sans-serif" text-anchor="middle">
<text x="180.7" y="15.8" textLength="166.5" lengthAdjust="spacing">21.3 (Tile033=33) X</text>
<text x="461" y="15.8" textLength="166.5" lengthAdjust="spacing">21.3 (Tile033=33) Y</text>
</g>
<g fill="#000" font-size="9" font-family="Liberation Sans, sans-serif" text-anchor="middle">
<rect x="48.55" y="408.1" width="1.1" height="5"/>
<text x="49.1" y="425.4" textLength="5.3" lengthAdjust="spacingAndGlyphs">0</text>
<rect x="89.30" y="408.1" width="1.1" height="5"/>
<text x="89.8" y="425.4" textLength="10.6" lengthAdjust="spacingAndGlyphs">50</text>
<rect x="130.05" y="408.1" width="1.1" height="5"/>
<text x="130.6" y="425.4" textLength="15.9" lengthAdjust="spacingAndGlyphs">100</text>
<rect x="170.80" y="408.1" width="1.1" height="5"/>
<text x="171.3" y="425.4" textLength="15.9" lengthAdjust="spacingAndGlyphs">150</text>
<rect x="211.55" y="408.1" width="1.1" height="5"/>
<text x="212.1" y="425.4" textLength="15.9" lengthAdjust="spacingAndGlyphs">200</text>
<rect x="252.30" y="408.1" width="1.1" height="5"/>
<text x="252.8" y="425.4" textLength="15.9" lengthAdjust="spacingAndGlyphs">250</text>
<rect x="293.05" y="408.1" width="1.1" height="5"/>
<text x="293.6" y="425.4" textLength="15.9" lengthAdjust="spacingAndGlyphs">300</text>
<rect x="328.55" y="408.1" width="1.1" height="5"/>
<text x="329.1" y="425.4" textLength="5.3" lengthAdjust="spacingAndGlyphs">0</text>
<rect x="369.30" y="408.1" width="1.1" height="5"/>
<text x="369.9" y="425.4" textLength="10.6" lengthAdjust="spacingAndGlyphs">50</text>
<rect x="410.05" y="408.1" width="1.1" height="5"/>
<text x="410.6" y="425.4" textLength="15.9" lengthAdjust="spacingAndGlyphs">100</text>
<rect x="450.80" y="408.1" width="1.1" height="5"/>
<text x="451.4" y="425.4" textLength="15.9" lengthAdjust="spacingAndGlyphs">150</text>
<rect x="491.55" y="408.1" width="1.1" height="5"/>
<text x="492.1" y="425.4" textLength="15.9" lengthAdjust="spacingAndGlyphs">200</text>
<rect x="532.30" y="408.1" width="1.1" height="5"/>
<text x="532.9" y="425.4" textLength="15.9" lengthAdjust="spacingAndGlyphs">250</text>
<rect x="573.05" y="408.1" width="1.1" height="5"/>
<text x="573.6" y="425.4" textLength="15.9" lengthAdjust="spacingAndGlyphs">300</text>
</g>
</svg>
</body></html>
